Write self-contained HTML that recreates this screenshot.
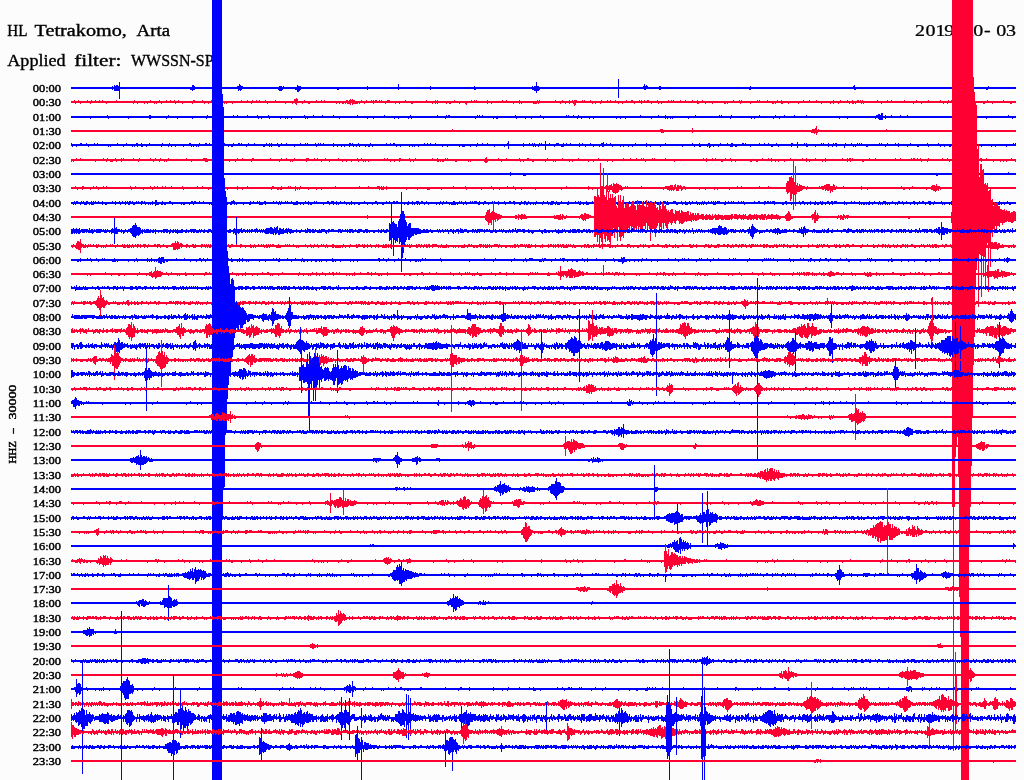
<!DOCTYPE html><html><head><meta charset="utf-8"><title>HL Tetrakomo, Arta</title><style>html,body{margin:0;padding:0;background:#fcfcfc;overflow:hidden}svg{display:block}text{font-family:"Liberation Serif",serif;fill:#000}</style></head><body>
<svg width="1024" height="780" viewBox="0 0 1024 780">
<rect width="1024" height="780" fill="#fcfcfc"/>
<text y="36" font-family="DejaVu Serif, Liberation Serif, serif" font-size="16.4" stroke="#000" stroke-width="0.35" lengthAdjust="spacingAndGlyphs"><tspan x="7.3" textLength="19.6" lengthAdjust="spacingAndGlyphs">HL</tspan> <tspan x="34.6" textLength="92.3" lengthAdjust="spacingAndGlyphs">Tetrakomo,</tspan> <tspan x="136.6" textLength="33.4" lengthAdjust="spacingAndGlyphs">Arta</tspan></text>
<text y="66" font-family="DejaVu Serif, Liberation Serif, serif" font-size="16.4" stroke="#000" stroke-width="0.35" lengthAdjust="spacingAndGlyphs"><tspan x="7.3" textLength="58.3" lengthAdjust="spacingAndGlyphs">Applied</tspan> <tspan x="74.2" textLength="47.3" lengthAdjust="spacingAndGlyphs">filter:</tspan> <tspan x="131" textLength="82.6" lengthAdjust="spacingAndGlyphs">WWSSN-SP</tspan></text>
<text transform="scale(1.22 1)" y="36" x="750.08 758.52 766.80 773.93 782.30 790.49 797.70 806.64 816.64 824.51" font-family="DejaVu Serif, Liberation Serif, serif" font-size="16.4" stroke="#000" stroke-width="0.25">2019-10-03</text>
<text x="32.7" y="92.1" font-family="DejaVu Serif, Liberation Serif, serif" font-size="11.4" stroke="#000" stroke-width="0.45" lengthAdjust="spacingAndGlyphs" textLength="28.4">00:00</text>
<text x="32.7" y="106.1" font-family="DejaVu Serif, Liberation Serif, serif" font-size="11.4" stroke="#000" stroke-width="0.45" lengthAdjust="spacingAndGlyphs" textLength="28.4">00:30</text>
<text x="32.7" y="121.1" font-family="DejaVu Serif, Liberation Serif, serif" font-size="11.4" stroke="#000" stroke-width="0.45" lengthAdjust="spacingAndGlyphs" textLength="28.4">01:00</text>
<text x="32.7" y="135.1" font-family="DejaVu Serif, Liberation Serif, serif" font-size="11.4" stroke="#000" stroke-width="0.45" lengthAdjust="spacingAndGlyphs" textLength="28.4">01:30</text>
<text x="32.7" y="149.1" font-family="DejaVu Serif, Liberation Serif, serif" font-size="11.4" stroke="#000" stroke-width="0.45" lengthAdjust="spacingAndGlyphs" textLength="28.4">02:00</text>
<text x="32.7" y="164.1" font-family="DejaVu Serif, Liberation Serif, serif" font-size="11.4" stroke="#000" stroke-width="0.45" lengthAdjust="spacingAndGlyphs" textLength="28.4">02:30</text>
<text x="32.7" y="178.1" font-family="DejaVu Serif, Liberation Serif, serif" font-size="11.4" stroke="#000" stroke-width="0.45" lengthAdjust="spacingAndGlyphs" textLength="28.4">03:00</text>
<text x="32.7" y="192.1" font-family="DejaVu Serif, Liberation Serif, serif" font-size="11.4" stroke="#000" stroke-width="0.45" lengthAdjust="spacingAndGlyphs" textLength="28.4">03:30</text>
<text x="32.7" y="207.1" font-family="DejaVu Serif, Liberation Serif, serif" font-size="11.4" stroke="#000" stroke-width="0.45" lengthAdjust="spacingAndGlyphs" textLength="28.4">04:00</text>
<text x="32.7" y="221.1" font-family="DejaVu Serif, Liberation Serif, serif" font-size="11.4" stroke="#000" stroke-width="0.45" lengthAdjust="spacingAndGlyphs" textLength="28.4">04:30</text>
<text x="32.7" y="235.1" font-family="DejaVu Serif, Liberation Serif, serif" font-size="11.4" stroke="#000" stroke-width="0.45" lengthAdjust="spacingAndGlyphs" textLength="28.4">05:00</text>
<text x="32.7" y="250.1" font-family="DejaVu Serif, Liberation Serif, serif" font-size="11.4" stroke="#000" stroke-width="0.45" lengthAdjust="spacingAndGlyphs" textLength="28.4">05:30</text>
<text x="32.7" y="264.1" font-family="DejaVu Serif, Liberation Serif, serif" font-size="11.4" stroke="#000" stroke-width="0.45" lengthAdjust="spacingAndGlyphs" textLength="28.4">06:00</text>
<text x="32.7" y="278.1" font-family="DejaVu Serif, Liberation Serif, serif" font-size="11.4" stroke="#000" stroke-width="0.45" lengthAdjust="spacingAndGlyphs" textLength="28.4">06:30</text>
<text x="32.7" y="292.1" font-family="DejaVu Serif, Liberation Serif, serif" font-size="11.4" stroke="#000" stroke-width="0.45" lengthAdjust="spacingAndGlyphs" textLength="28.4">07:00</text>
<text x="32.7" y="307.1" font-family="DejaVu Serif, Liberation Serif, serif" font-size="11.4" stroke="#000" stroke-width="0.45" lengthAdjust="spacingAndGlyphs" textLength="28.4">07:30</text>
<text x="32.7" y="321.1" font-family="DejaVu Serif, Liberation Serif, serif" font-size="11.4" stroke="#000" stroke-width="0.45" lengthAdjust="spacingAndGlyphs" textLength="28.4">08:00</text>
<text x="32.7" y="335.1" font-family="DejaVu Serif, Liberation Serif, serif" font-size="11.4" stroke="#000" stroke-width="0.45" lengthAdjust="spacingAndGlyphs" textLength="28.4">08:30</text>
<text x="32.7" y="350.1" font-family="DejaVu Serif, Liberation Serif, serif" font-size="11.4" stroke="#000" stroke-width="0.45" lengthAdjust="spacingAndGlyphs" textLength="28.4">09:00</text>
<text x="32.7" y="364.1" font-family="DejaVu Serif, Liberation Serif, serif" font-size="11.4" stroke="#000" stroke-width="0.45" lengthAdjust="spacingAndGlyphs" textLength="28.4">09:30</text>
<text x="32.7" y="378.1" font-family="DejaVu Serif, Liberation Serif, serif" font-size="11.4" stroke="#000" stroke-width="0.45" lengthAdjust="spacingAndGlyphs" textLength="28.4">10:00</text>
<text x="32.7" y="393.1" font-family="DejaVu Serif, Liberation Serif, serif" font-size="11.4" stroke="#000" stroke-width="0.45" lengthAdjust="spacingAndGlyphs" textLength="28.4">10:30</text>
<text x="32.7" y="407.1" font-family="DejaVu Serif, Liberation Serif, serif" font-size="11.4" stroke="#000" stroke-width="0.45" lengthAdjust="spacingAndGlyphs" textLength="28.4">11:00</text>
<text x="32.7" y="421.1" font-family="DejaVu Serif, Liberation Serif, serif" font-size="11.4" stroke="#000" stroke-width="0.45" lengthAdjust="spacingAndGlyphs" textLength="28.4">11:30</text>
<text x="32.7" y="436.1" font-family="DejaVu Serif, Liberation Serif, serif" font-size="11.4" stroke="#000" stroke-width="0.45" lengthAdjust="spacingAndGlyphs" textLength="28.4">12:00</text>
<text x="32.7" y="450.1" font-family="DejaVu Serif, Liberation Serif, serif" font-size="11.4" stroke="#000" stroke-width="0.45" lengthAdjust="spacingAndGlyphs" textLength="28.4">12:30</text>
<text x="32.7" y="464.1" font-family="DejaVu Serif, Liberation Serif, serif" font-size="11.4" stroke="#000" stroke-width="0.45" lengthAdjust="spacingAndGlyphs" textLength="28.4">13:00</text>
<text x="32.7" y="479.1" font-family="DejaVu Serif, Liberation Serif, serif" font-size="11.4" stroke="#000" stroke-width="0.45" lengthAdjust="spacingAndGlyphs" textLength="28.4">13:30</text>
<text x="32.7" y="493.1" font-family="DejaVu Serif, Liberation Serif, serif" font-size="11.4" stroke="#000" stroke-width="0.45" lengthAdjust="spacingAndGlyphs" textLength="28.4">14:00</text>
<text x="32.7" y="507.1" font-family="DejaVu Serif, Liberation Serif, serif" font-size="11.4" stroke="#000" stroke-width="0.45" lengthAdjust="spacingAndGlyphs" textLength="28.4">14:30</text>
<text x="32.7" y="522.1" font-family="DejaVu Serif, Liberation Serif, serif" font-size="11.4" stroke="#000" stroke-width="0.45" lengthAdjust="spacingAndGlyphs" textLength="28.4">15:00</text>
<text x="32.7" y="536.1" font-family="DejaVu Serif, Liberation Serif, serif" font-size="11.4" stroke="#000" stroke-width="0.45" lengthAdjust="spacingAndGlyphs" textLength="28.4">15:30</text>
<text x="32.7" y="550.1" font-family="DejaVu Serif, Liberation Serif, serif" font-size="11.4" stroke="#000" stroke-width="0.45" lengthAdjust="spacingAndGlyphs" textLength="28.4">16:00</text>
<text x="32.7" y="565.1" font-family="DejaVu Serif, Liberation Serif, serif" font-size="11.4" stroke="#000" stroke-width="0.45" lengthAdjust="spacingAndGlyphs" textLength="28.4">16:30</text>
<text x="32.7" y="579.1" font-family="DejaVu Serif, Liberation Serif, serif" font-size="11.4" stroke="#000" stroke-width="0.45" lengthAdjust="spacingAndGlyphs" textLength="28.4">17:00</text>
<text x="32.7" y="593.1" font-family="DejaVu Serif, Liberation Serif, serif" font-size="11.4" stroke="#000" stroke-width="0.45" lengthAdjust="spacingAndGlyphs" textLength="28.4">17:30</text>
<text x="32.7" y="607.1" font-family="DejaVu Serif, Liberation Serif, serif" font-size="11.4" stroke="#000" stroke-width="0.45" lengthAdjust="spacingAndGlyphs" textLength="28.4">18:00</text>
<text x="32.7" y="622.1" font-family="DejaVu Serif, Liberation Serif, serif" font-size="11.4" stroke="#000" stroke-width="0.45" lengthAdjust="spacingAndGlyphs" textLength="28.4">18:30</text>
<text x="32.7" y="636.1" font-family="DejaVu Serif, Liberation Serif, serif" font-size="11.4" stroke="#000" stroke-width="0.45" lengthAdjust="spacingAndGlyphs" textLength="28.4">19:00</text>
<text x="32.7" y="650.1" font-family="DejaVu Serif, Liberation Serif, serif" font-size="11.4" stroke="#000" stroke-width="0.45" lengthAdjust="spacingAndGlyphs" textLength="28.4">19:30</text>
<text x="32.7" y="665.1" font-family="DejaVu Serif, Liberation Serif, serif" font-size="11.4" stroke="#000" stroke-width="0.45" lengthAdjust="spacingAndGlyphs" textLength="28.4">20:00</text>
<text x="32.7" y="679.1" font-family="DejaVu Serif, Liberation Serif, serif" font-size="11.4" stroke="#000" stroke-width="0.45" lengthAdjust="spacingAndGlyphs" textLength="28.4">20:30</text>
<text x="32.7" y="693.1" font-family="DejaVu Serif, Liberation Serif, serif" font-size="11.4" stroke="#000" stroke-width="0.45" lengthAdjust="spacingAndGlyphs" textLength="28.4">21:00</text>
<text x="32.7" y="708.1" font-family="DejaVu Serif, Liberation Serif, serif" font-size="11.4" stroke="#000" stroke-width="0.45" lengthAdjust="spacingAndGlyphs" textLength="28.4">21:30</text>
<text x="32.7" y="722.1" font-family="DejaVu Serif, Liberation Serif, serif" font-size="11.4" stroke="#000" stroke-width="0.45" lengthAdjust="spacingAndGlyphs" textLength="28.4">22:00</text>
<text x="32.7" y="736.1" font-family="DejaVu Serif, Liberation Serif, serif" font-size="11.4" stroke="#000" stroke-width="0.45" lengthAdjust="spacingAndGlyphs" textLength="28.4">22:30</text>
<text x="32.7" y="751.1" font-family="DejaVu Serif, Liberation Serif, serif" font-size="11.4" stroke="#000" stroke-width="0.45" lengthAdjust="spacingAndGlyphs" textLength="28.4">23:00</text>
<text x="32.7" y="765.1" font-family="DejaVu Serif, Liberation Serif, serif" font-size="11.4" stroke="#000" stroke-width="0.45" lengthAdjust="spacingAndGlyphs" textLength="28.4">23:30</text>
<text transform="translate(16.3 463.6) rotate(-90)" font-family="DejaVu Serif, Liberation Serif, serif" font-size="11.4" stroke="#000" stroke-width="0.45" lengthAdjust="spacingAndGlyphs"><tspan x="0" textLength="22.6" lengthAdjust="spacingAndGlyphs">HHZ</tspan> <tspan x="29.6" textLength="6.3" lengthAdjust="spacingAndGlyphs">-</tspan> <tspan x="44.2" textLength="34.7" lengthAdjust="spacingAndGlyphs">30000</tspan></text>
<g shape-rendering="crispEdges">
<rect x="71" y="87" width="945" height="2" fill="#0000ff"/>
<path stroke="#0000ff" d="M112.5 86v4m2 -5v6m1 -5v5m1 -6v6m1 -6v6m1 -5v5m1 -9v17m71 -12v3m1 -3v3m1 -5v6m1 -6v5m1 -4v4m43 -4v3m1 -3v5m1 -7v6m1 -5v6m1 -5v4m1 -4v3m36 -2v3m1 -4v5m1 -5v5m1 -5v5m1 -4v3m1 -4v3m12 -2v3m1 -3v3m1 -5v7m1 -6v6m1 -6v5m1 -5v4m37 -3v3m1 -3v3m29 -4v4m31 -6v6m32 -4v4m44 -4v4m1 -3v3m57 -4v4m1 -3v3m1 -4v5m1 -5v5m1 -9v11m1 -7v5m1 -5v5m1 -4v3m79 -11v19m25 -12v3m1 -5v6m1 -4v4m1 -5v4m1 -3v3m12 -3v4m1 -4v4m89 -3v3m1 -4v4m103 -4v3m1 -4v5m1 -3v3m131 -3v3m1 -3v3m1 -4v3"/>
<rect x="71" y="101" width="945" height="2" fill="#ff0033"/>
<path stroke="#ff0033" d="M74.5 100v3m1 -2v3m3 -4v3m2 -2v3m7 -4v3m3 -2v3m1 -4v3m4 -3v3m4 -3v3m3 -3v3m4 -2v3m10 -4v3m17 -2v3m1 -4v3m3 -2v3m7 -3v3m3 -3v3m3 -4v3m4 -2v3m2 -3v3m3 -4v3m2 -2v3m5 -4v3m4 -3v3m4 -3v3m1 -2v3m3 -4v3m4 -2v3m10 -3v3m1 -4v3m1 -3v3m8 -3v3m2 -2v3m4 -3v3m3 -4v3m5 -2v3m6 -3v3m2 -3v3m2 -3v3m6 -3v3m9 -4v3m6 -3v3m4 -2v3m1 -4v3m4 -3v3m3 -3v3m6 -3v3m2 -2v3m8 -4v3m10 -2v3m7 -3v3m2 -5v4m1 -4v5m1 -6v7m1 -6v4m5 -2v3m2 -4v3m4 -2v3m1 -3v3m7 -4v3m5 -3v3m3 -3v3m12 -2v3m3 -3v3m3 -3v3m1 -3v3m2 -3v3m1 -4v3m1 -3v4m1 -3v3m1 -4v4m1 -5v6m1 -5v3m1 -4v6m1 -5v4m1 -4v4m1 -3v3m1 -3v3m1 -3v3m2 -3v3m2 -4v3m3 -2v3m2 -4v3m5 -3v3m2 -3v4m2 -4v3m1 -3v3m3 -3v3m2 -3v3m4 -2v3m2 -4v3m1 -3v3m1 -3v3m6 -2v3m4 -3v3m6 -4v3m6 -2v3m1 -3v3m14 -4v3m6 -2v3m3 -4v4m2 -4v4m9 -3v3m3 -3v3m1 -3v3m4 -4v3m5 -2v3m6 -3v3m1 -3v4m5 -5v3m3 -3v3m2 -3v3m11 -3v4m4 -3v3m11 -4v3m4 -3v3m7 -2v3m6 -4v4m2 -3v3m12 -3v3m1 -3v3m1 -3v3m1 -3v3m1 -4v3m1 -2v3m1 -4v3m16 -3v3m5 -2v3m2 -4v3m3 -2v3m4 -4v4m3 -4v3m1 -2v3m1 -4v6m1 -6v5m1 -5v3m6 -3v3m2 -3v3m6 -3v3m2 -2v3m3 -3v3m5 -3v3m1 -4v3m6 -3v3m3 -3v3m5 -3v3m3 -2v3m4 -3v3m4 -4v3m5 -3v3m1 -3v3m2 -2v3m5 -4v3m2 -3v4m3 -4v3m3 -3v3m1 -3v3m3 -2v3m6 -4v3m1 -2v3m3 -3v3m7 -4v3m3 -3v3m2 -3v3m7 -3v3m5 -3v3m7 -3v3m5 -3v4m1 -3v3m4 -4v3m3 -2v3m7 -3v3m12 -3v3m1 -3v3m2 -3v3m6 -4v3m6 -3v3m1 -2v3m1 -4v3m9 -2v3m7 -4v3m2 -3v3m8 -3v3m5 -2v3m1 -3v3m2 -3v3m2 -4v3m4 -3v4m1 -3v3m6 -3v3m10 -3v3m5 -4v3m6 -3v3m7 -3v3m5 -2v3m9 -3v3m3 -4v4m5 -3v3m2 -4v3m7 -3v3m2 -2v3m3 -4v4m1 -3v3m2 -3v3m2 -4v3m1 -3v3m2 -3v3m1 -2v3m1 -4v3m1 -2v3m14 -4v3m4 -2v3m6 -4v3m4 -3v3m13 -3v3m9 -2v3m3 -4v3m5 -2v3m7 -4v3m12 -3v3m3 -2v3m4 -3v3m1 -4v3m3 -3v3m10 -2v3m7 -3v3m2 -4v3m1 -3v3m1 -2v3m11 -3v3m1 -3v3m3 -4v3m5 -2v3m11 -4v3m7 -2v3m1 -3v3"/>
<rect x="71" y="116" width="945" height="2" fill="#0000ff"/>
<path stroke="#0000ff" d="M90.5 116v3m17 -4v3m1 -2v3m20 -3v3m21 -4v4m1 -4v4m16 -3v3m2 -4v3m9 -2v3m15 -3v3m14 -3v3m1 -4v3m10 -2v3m3 -4v3m13 -3v3m4 -3v3m10 -3v3m10 -3v3m1 -2v3m3 -3v3m7 -4v3m1 -2v3m11 -3v3m5 -3v3m2 -3v3m4 -3v3m13 -4v3m1 -2v3m2 -3v3m6 -4v3m9 -3v3m11 -3v3m6 -2v3m18 -4v3m10 -2v3m6 -3v3m11 -4v3m10 -2v3m4 -3v3m10 -3v3m2 -4v3m1 -2v3m26 -4v3m8 -2v3m1 -4v3m2 -3v3m1 -3v3m26 -2v3m2 -4v3m2 -3v3m3 -3v3m11 -2v3m3 -3v3m1 -3v3m18 -4v3m1 -2v3m9 -3v3m6 -3v3m9 -4v3m3 -2v3m23 -4v3m2 -3v3m5 -3v3m4 -2v3m1 -4v3m3 -2v3m8 -3v3m4 -3v3m23 -3v3m4 -3v3m5 -3v3m15 -4v3m11 -2v3m7 -4v3m7 -3v4m2 -3v3m3 -3v3m2 -3v3m16 -3v3m7 -4v3m24 -3v3m2 -3v3m9 -2v3m1 -4v3m20 -2v3m3 -3v3m5 -4v3m14 -2v3m2 -4v3m4 -2v3m5 -4v3m10 -3v3m12 -3v3m33 -2v3m8 -3v3m28 -3v3m1 -4v3m1 -3v3m1 -4v5m1 -5v6m1 -5v5m1 -7v7m1 -7v7m3 -5v4m6 -4v3m9 -3v3m7 -3v3m54 -2v3m7 -4v3m7 -3v3m11 -2v3m22 -4v3m4 -2v3"/>
<rect x="71" y="130" width="945" height="2" fill="#ff0033"/>
<path stroke="#ff0033" d="M452.5 129v3m208 -3v3m1 -3v4m1 -4v4m1 -3v3m29 -5v5m119 -3v3m1 -4v4m1 -4v4m1 -4v5m1 -6v5m1 -7v9m1 -5v3m1 -4v3m68 -3v3"/>
<rect x="71" y="144" width="945" height="2" fill="#0000ff"/>
<path stroke="#0000ff" d="M71.5 143v3m1 -2v3m4 -3v3m4 -4v3m1 -3v3m5 -3v3m2 -2v3m6 -4v3m3 -3v3m11 -2v3m2 -3v3m7 -4v3m6 -2v3m3 -4v3m6 -2v3m2 -3v3m2 -4v3m1 -3v4m4 -4v4m1 -3v3m4 -3v3m3 -4v3m12 -2v3m1 -4v3m6 -2v3m1 -4v3m2 -2v3m4 -3v3m8 -3v3m6 -4v3m1 -3v3m1 -2v3m2 -3v3m3 -3v3m2 -3v3m1 -4v3m6 -3v3m1 -3v3m3 -3v3m4 -3v3m6 -3v3m5 -3v3m4 -2v3m3 -3v3m1 -3v3m1 -4v3m5 -3v3m1 -3v3m2 -3v3m5 -2v3m2 -4v3m6 -3v3m9 -2v3m1 -3v3m2 -4v3m3 -3v4m2 -4v4m6 -4v3m1 -2v3m1 -3v3m2 -4v3m5 -3v3m8 -2v3m6 -4v3m5 -3v3m2 -3v3m8 -3v3m1 -2v3m2 -4v3m2 -3v3m3 -3v3m10 -3v4m4 -3v3m4 -3v3m3 -3v3m5 -4v4m1 -4v3m2 -3v3m1 -2v3m3 -3v3m2 -4v3m1 -2v3m6 -3v3m3 -3v3m1 -3v3m1 -4v3m2 -2v3m14 -4v3m4 -3v3m3 -3v3m1 -3v3m2 -2v3m4 -3v3m9 -3v3m3 -3v3m2 -3v3m4 -3v3m6 -4v3m3 -3v3m3 -3v3m5 -3v3m7 -2v3m5 -3v3m12 -3v3m3 -3v3m1 -3v3m1 -3v3m6 -3v3m6 -3v3m1 -4v3m5 -3v3m5 -3v3m7 -2v3m10 -3v3m3 -4v3m1 -5v8m15 -6v4m6 -4v3m3 -3v3m1 -2v3m1 -4v3m1 -2v3m3 -3v3m1 -4v3m2 -3v3m4 -5v9m4 -7v3m5 -2v3m2 -4v3m1 -3v3m1 -3v3m3 -2v3m1 -3v3m1 -4v4m3 -4v3m4 -3v3m9 -3v4m3 -4v3m3 -2v3m5 -4v3m3 -2v3m6 -3v3m2 -4v3m1 -3v4m1 -5v5m3 -4v3m4 -3v3m2 -2v3m8 -3v3m3 -3v3m5 -3v3m4 -3v3m3 -4v3m11 -3v4m4 -3v3m10 -3v3m5 -4v3m17 -2v3m10 -4v3m2 -2v3m5 -4v4m1 -3v3m7 -3v3m1 -4v3m1 -3v5m1 -4v3m3 -3v3m5 -3v3m2 -4v3m7 -3v3m3 -2v3m1 -4v4m1 -4v4m3 -3v3m1 -3v3m6 -4v3m1 -3v3m2 -3v3m5 -2v3m9 -4v3m5 -3v3m4 -3v3m3 -2v3m1 -3v3m4 -4v3m2 -2v3m13 -4v4m1 -4v3m5 -4v6m7 -5v3m2 -3v4m1 -3v3m8 -3v3m6 -4v3m2 -3v3m5 -3v4m4 -3v3m1 -4v3m2 -3v3m1 -3v4m8 -3v4m1 -5v3m6 -3v3m2 -2v3m2 -3v3m2 -4v3m2 -3v3m2 -3v3m5 -2v3m1 -3v3m12 -4v3m2 -3v3m4 -2v3m2 -4v3m8 -3v3m3 -3v4m9 -3v3m3 -4v3m7 -2v3m1 -3v3m9 -4v3m1 -2v3m10 -4v3m2 -2v3m4 -3v3m5 -3v3m1 -3v3m6 -3v3m7 -4v3m1 -3v3m1 -2v3m1 -3v3m4 -3v3m4 -4v3m7 -2v3m10 -3v3m4 -3v3m11 -3v3m7 -4v3m2 -3v3"/>
<rect x="71" y="159" width="945" height="2" fill="#ff0033"/>
<path stroke="#ff0033" d="M71.5 159v3m2 -3v3m3 -4v3m4 -3v3m15 -2v3m8 -4v3m3 -2v3m1 -4v3m3 -2v3m1 -3v3m1 -3v3m3 -4v3m1 -2v3m5 -4v4m2 -4v3m10 -3v3m5 -2v3m1 -4v3m11 -3v3m3 -2v3m2 -4v3m4 -2v3m1 -4v3m4 -2v3m2 -3v3m2 -4v3m18 -3v3m5 -2v3m12 -4v3m1 -3v3m1 -3v4m1 -4v4m1 -3v3m5 -3v3m1 -4v3m16 -2v3m6 -3v3m2 -4v3m5 -3v3m9 -2v3m1 -4v3m1 -3v3m17 -3v3m9 -2v3m2 -4v3m5 -3v3m4 -2v3m2 -3v3m2 -4v3m12 -3v4m1 -4v3m1 -3v3m6 -3v3m3 -3v3m4 -2v3m4 -4v3m4 -2v3m9 -4v3m4 -2v3m4 -3v3m5 -3v3m6 -4v3m1 -2v3m3 -4v3m2 -2v3m2 -3v3m3 -3v3m16 -4v3m3 -3v3m3 -2v3m4 -3v3m5 -4v4m1 -4v3m9 -3v3m1 -2v3m3 -3v3m2 -4v3m17 -3v3m5 -3v4m1 -3v3m2 -3v3m2 -3v3m1 -3v3m2 -4v3m2 -3v3m8 -2v3m1 -3v3m12 -3v3m2 -3v3m14 -3v3m1 -4v5m1 -6v6m1 -4v3m11 -4v3m3 -2v3m5 -4v3m13 -3v3m1 -2v3m3 -3v3m4 -4v3m1 -3v3m4 -2v3m1 -3v3m12 -3v3m2 -4v3m6 -2v3m2 -3v3m7 -4v3m7 -2v3m3 -3v3m6 -4v3m10 -2v3m5 -3v3m5 -4v3m9 -2v3m5 -3v3m11 -4v3m7 -3v3m6 -3v3m5 -3v3m2 -3v3m2 -2v3m7 -4v3m2 -3v3m11 -3v3m9 -2v3m29 -4v3m3 -3v4m6 -4v3m3 -3v3m6 -2v3m1 -3v3m3 -4v3m5 -3v3m1 -2v3m4 -3v3m15 -3v3m1 -3v3m5 -3v3m1 -3v3m5 -4v3m6 -3v3m3 -3v4m4 -3v3m3 -3v3m6 -3v3m6 -4v3m12 -3v3m4 -3v4m3 -3v3m6 -4v3m7 -2v3m3 -4v4m17 -4v3m5 -3v4m2 -4v3m1 -3v4m2 -4v3m10 -2v3m1 -3v3m6 -4v3m6 -3v3m20 -3v3m5 -3v3m11 -3v3m2 -3v3m1 -3v3m3 -3v3m3 -3v3m1 -2v3m6 -3v3m1 -4v3m14 -3v3m5 -3v3m2 -2v3m4 -3v3m2 -4v3m8 -3v3m1 -2v3m8 -3v3m1 -3v3m7 -4v3m1 -3v4m5 -4v3m7 -2v3m7 -3v3m3 -3v3m3 -3v3m5 -4v3m4 -2v3"/>
<rect x="71" y="173" width="945" height="2" fill="#0000ff"/>
<path stroke="#0000ff" d="M510.5 172v4m13 -3v3m1 -3v3m1 -3v3m411 -3v3m1 -3v3m71 -4v3"/>
<rect x="71" y="187" width="945" height="2" fill="#ff0033"/>
<path stroke="#ff0033" d="M75.5 186v3m2 -2v3m5 -4v4m1 -4v3m7 -2v3m3 -4v3m3 -3v3m2 -2v3m5 -4v3m3 -3v3m24 -3v3m1 -2v3m4 -4v3m8 -2v3m7 -4v3m2 -2v3m2 -4v3m3 -3v3m5 -3v3m3 -3v3m6 -3v3m11 -3v3m1 -2v3m14 -4v3m5 -3v3m6 -2v3m5 -4v3m14 -2v3m10 -4v4m5 -3v3m5 -4v3m24 -2v3m1 -4v3m1 -3v3m4 -2v3m1 -3v3m2 -3v3m1 -4v4m7 -4v3m2 -3v3m5 -3v5m2 -4v3m2 -3v3m1 -4v3m8 -2v3m8 -3v3m5 -3v3m14 -4v3m24 -3v3m9 -3v3m9 -3v3m1 -3v3m1 -3v4m2 -4v4m1 -3v3m1 -4v4m3 -4v4m20 -3v3m11 -3v3m10 -3v3m1 -3v3m1 -3v3m12 -3v3m12 -4v3m12 -3v3m1 -2v3m15 -3v3m10 -4v3m2 -2v3m6 -3v3m8 -4v3m6 -3v3m2 -2v3m6 -3v3m14 -3v3m26 -3v3m5 -4v3m22 -3v4m4 -3v3m5 -3v3m3 -27v30m2 -7v3m1 -21v25m2 -7v3m1 -2v3m1 -17v19m1 -6v4m1 -5v7m1 -7v5m1 -6v6m1 -4v6m1 -9v10m1 -9v9m1 -9v10m1 -11v10m1 -9v9m1 -9v8m1 -7v5m1 -5v5m1 -4v5m1 -4v3m3 -4v3m2 -3v3m14 -3v3m22 -2v3m2 -4v3m1 -3v3m1 -3v4m1 -4v4m1 -4v5m1 -6v5m1 -5v6m1 -6v5m1 -3v4m1 -6v5m1 -6v5m1 -2v4m1 -6v6m1 -6v6m1 -5v3m1 -4v4m1 -3v5m1 -4v3m1 -4v3m1 -3v3m1 -2v3m14 -3v3m6 -3v3m9 -3v3m3 -3v3m12 -3v3m8 -4v3m4 -3v3m18 -3v3m9 -3v3m18 -6v9m1 -11v13m1 -13v12m1 -16v15m1 -15v24m1 -25v23m1 -21v16m1 -35v51m1 -28v13m1 -29v40m1 -21v9m1 -11v9m1 -6v6m1 -8v8m1 -7v6m1 -6v6m1 -5v4m1 -4v3m1 -3v3m2 -2v3m1 -4v3m12 -3v3m2 -3v3m1 -3v4m1 -4v4m1 -5v4m1 -4v6m1 -7v6m1 -6v7m1 -7v7m1 -7v6m1 -4v7m1 -7v5m1 -5v6m1 -8v6m1 -5v5m1 -3v3m1 -4v3m7 -3v3m18 -3v4m6 -3v3m34 -4v3m2 -2v3m1 -3v3m5 -3v3m3 -4v3m14 -2v3m5 -4v4m1 -5v5m1 -5v6m1 -6v6m1 -5v6m1 -8v7m1 -5v4m1 -4v5m1 -5v3m1 -2v3m33 -3v3"/>
<rect x="71" y="202" width="945" height="2" fill="#0000ff"/>
<path stroke="#0000ff" d="M73.5 202v3m1 -4v3m1 -2v3m1 -4v3m1 -3v3m3 -2v3m1 -4v3m2 -3v3m1 -2v3m1 -3v3m1 -4v4m1 -4v3m2 -2v3m2 -4v4m1 -3v3m1 -4v4m2 -4v3m3 -3v3m4 -3v4m3 -3v3m1 -3v3m6 -4v3m3 -3v4m4 -4v3m1 -2v3m2 -4v3m3 -3v4m2 -4v3m1 -2v3m1 -4v4m1 -4v3m2 -3v3m1 -2v3m1 -3v3m2 -4v3m2 -3v3m3 -3v4m1 -4v3m2 -3v3m1 -2v3m3 -3v3m2 -3v3m2 -4v4m3 -5v6m1 -6v5m1 -3v3m1 -3v3m3 -3v3m1 -4v4m2 -3v3m1 -3v3m4 -4v3m1 -3v3m2 -2v3m9 -3v3m2 -3v3m1 -3v3m5 -3v3m2 -4v3m1 -3v3m1 -2v3m1 -4v3m1 -3v3m4 -3v3m4 -3v3m6 -2v3m2 -3v3m1 -4v3m3 -3v3m1 -2v3m3 -3v3m6 -4v3m1 -2v3m1 -3v3m3 -3v3m1 -4v4m1 -4v3m1 -4v4m1 -3v4m2 -3v3m7 -3v3m6 -3v3m1 -4v4m3 -4v3m4 -3v3m2 -3v4m1 -3v3m1 -3v3m1 -3v3m2 -4v3m1 -3v4m8 -4v3m3 -3v3m2 -2v3m1 -4v3m1 -2v3m1 -4v3m4 -3v3m2 -3v3m4 -3v3m2 -2v3m1 -3v3m1 -3v3m1 -4v4m1 -4v4m3 -3v3m3 -3v3m2 -4v3m3 -3v4m2 -3v3m1 -3v3m3 -4v3m2 -3v3m7 -2v3m4 -4v3m1 -3v3m1 -2v3m2 -4v3m1 -3v3m1 -3v4m3 -4v4m2 -3v3m2 -4v3m4 -3v3m2 -2v3m3 -3v3m2 -4v4m3 -3v3m4 -3v3m1 -3v3m5 -4v3m3 -2v3m5 -3v3m3 -4v3m1 -3v3m1 -2v3m5 -3v3m1 -3v3m3 -4v3m3 -3v3m4 -3v3m1 -3v3m2 -3v3m1 -3v3m7 -2v3m3 -3v3m1 -4v4m4 -4v4m2 -3v3m2 -4v3m1 -3v4m1 -4v3m1 -2v3m2 -4v3m1 -3v3m2 -2v3m2 -4v3m2 -2v3m8 -3v3m3 -3v3m1 -4v3m2 -2v3m1 -4v3m3 -3v3m3 -2v3m2 -3v3m1 -3v3m1 -4v4m1 -4v4m1 -3v3m2 -3v3m2 -4v3m2 -3v3m2 -2v3m2 -4v3m1 -2v3m4 -4v3m2 -3v3m2 -3v3m1 -3v3m1 -3v3m2 -2v3m1 -4v4m4 -3v3m1 -4v3m1 -3v3m3 -2v3m4 -4v3m2 -3v3m4 -3v4m6 -4v3m1 -2v3m4 -4v3m1 -3v3m3 -3v3m1 -3v4m5 -3v3m1 -3v3m1 -4v3m3 -3v4m1 -4v3m1 -2v3m1 -3v3m1 -4v3m2 -2v3m3 -3v3m2 -3v3m1 -4v3m6 -2v3m1 -4v3m4 -3v3m1 -2v3m2 -3v3m1 -4v4m1 -4v4m1 -4v3m2 -2v3m1 -4v3m1 -2v3m1 -3v3m1 -3v3m2 -4v3m6 -2v3m1 -4v4m7 -4v3m3 -3v3m1 -2v3m1 -4v4m3 -3v3m3 -4v4m1 -3v3m1 -3v3m4 -4v3m3 -3v3m1 -3v4m1 -4v3m1 -2v3m1 -4v3m1 -3v3m1 -3v3m4 -3v3m1 -3v3m1 -3v3m1 -3v4m3 -3v3m2 -3v3m2 -3v3m2 -3v3m5 -3v3m1 -3v3m6 -4v3m3 -2v3m3 -4v3m1 -3v3m2 -3v3m1 -3v4m1 -4v3m1 -3v3m2 -3v3m2 -3v3m2 -2v3m1 -4v3m2 -3v3m3 -2v3m2 -4v3m2 -2v3m1 -3v3m1 -3v3m1 -4v4m2 -3v3m1 -4v3m1 -3v3m1 -3v3m1 -2v3m1 -4v4m1 -3v3m5 -4v3m1 -3v3m1 -3v3m1 -2v3m1 -3v3m4 -4v3m1 -2v3m3 -4v4m1 -3v3m1 -3v3m2 -4v3m1 -2v3m2 -4v3m4 -3v3m1 -2v3m2 -3v3m2 -3v3m1 -4v3m1 -2v3m1 -4v3m2 -2v3m2 -4v3m3 -3v3m2 -3v4m1 -3v3m1 -4v4m2 -4v3m1 -3v3m1 -3v3m5 -2v3m1 -4v4m3 -4v3m3 -3v3m2 -3v3m5 -3v3m3 -3v3m2 -3v3m1 -2v3m10 -4v3m4 -3v3m1 -3v3m5 -3v4m1 -4v3m2 -3v3m1 -3v3m2 -3v3m2 -3v3m1 -3v3m1 -3v4m8 -3v3m1 -3v3m2 -4v3m1 -3v4m5 -3v3m8 -4v3m1 -2v3m2 -4v3m1 -3v3m1 -2v3m3 -3v3m3 -4v4m4 -3v3m1 -4v4m2 -3v3m1 -3v3m2 -4v3m1 -2v3m1 -4v4m3 -3v3m2 -4v3m1 -3v3m1 -2v3m2 -4v3m1 -3v4m2 -4v3m1 -3v3m1 -3v3m8 -3v4m2 -3v3m5 -4v3m3 -3v3m5 -3v4m2 -3v3m2 -3v3m1 -3v3m2 -3v3m2 -3v3m1 -4v4m3 -3v3m2 -4v3m4 -2v3m1 -4v3m1 -2v3m2 -3v3m1 -4v3m1 -3v3m1 -3v4m2 -3v3m2 -3v3m3 -4v3m3 -2v3m2 -3v3m1 -4v3m1 -3v3m3 -3v3m1 -2v3m3 -4v3m4 -2v3m3 -4v3m1 -3v4m3 -3v3m2 -4v3m3 -3v3m1 -3v3m2 -2v3m3 -4v3m1 -3v4m1 -4v4m3 -3v3m1 -4v3m7 -3v3m1 -2v3m2 -3v3m5 -3v3m2 -4v4m2 -4v4m1 -4v3m2 -2v3m1 -4v3m2 -3v3m1 -3v3m2 -2v3m1 -4v3m1 -3v3m3 -3v3m1 -3v3m2 -2v3m4 -4v3m1 -3v3m1 -2v3m3 -3v3m3 -4v3m1 -3v3m2 -3v3m5 -2v3m2 -4v3m1 -2v3m1 -3v3m1 -3v3m3 -3v3m1 -4v4m2 -3v3m3 -3v3m3 -4v3m2 -2v3m1 -3v3"/>
<rect x="71" y="216" width="945" height="2" fill="#ff0033"/>
<path stroke="#ff0033" d="M367.5 215v4m118 -4v5m1 -8v9m1 -11v12m1 -12v15m1 -16v14m1 -10v10m1 -11v13m1 -14v9m1 -18v28m1 -18v8m1 -7v9m1 -9v6m1 -5v7m1 -7v6m1 -6v5m1 -4v4m1 -4v3m14 -3v4m1 -4v4m2 -5v6m1 -5v3m1 -3v4m1 -5v6m1 -6v5m1 -4v4m1 -5v5m1 -4v4m1 -3v3m28 -4v4m1 -3v3m1 -4v4m1 -4v4m1 -4v5m1 -5v5m1 -6v6m1 -4v3m1 -5v6m1 -5v3m1 -2v3m1 -3v3m1 -4v3m13 -2v3m1 -4v3m1 -4v5m1 -5v6m1 -5v6m1 -8v7m1 -7v8m1 -7v5m1 -5v5m1 -5v5m1 -4v3m1 -3v3m4 -22v41m1 -41v41m1 -40v38m1 -48v55m1 -47v40m1 -38v51m1 -58v48m1 -52v56m1 -54v61m1 -58v43m1 -39v44m1 -42v45m1 -57v51m1 -36v41m1 -50v49m1 -42v44m1 -48v54m1 -50v38m1 -42v42m1 -38v30m1 -31v41m1 -42v33m1 -23v27m1 -25v33m1 -46v32m1 -26v36m1 -42v46m1 -39v35m1 -37v36m1 -40v42m1 -30v25m1 -29v27m1 -28v29m1 -29v30m1 -29v24m1 -21v23m1 -24v20m1 -23v26m1 -28v26m1 -26v31m1 -27v25m1 -24v22m1 -18v21m1 -31v26m1 -21v24m1 -26v24m1 -22v25m1 -25v24m1 -27v30m1 -28v22m1 -20v20m1 -19v22m1 -29v23m1 -16v22m1 -26v23m1 -22v25m1 -27v39m1 -40v30m1 -28v26m1 -24v24m1 -27v27m1 -24v32m1 -29v20m1 -21v19m1 -16v13m1 -21v27m1 -23v21m1 -18v20m1 -27v21m1 -20v26m1 -23v17m1 -18v21m1 -17v19m1 -17v19m1 -20v14m1 -12v10m1 -12v13m1 -14v16m1 -16v14m1 -10v8m1 -7v9m1 -13v14m1 -13v10m1 -10v9m1 -9v10m1 -11v14m1 -11v10m1 -13v14m1 -13v13m1 -12v11m1 -11v10m1 -10v9m1 -9v10m1 -11v10m1 -10v10m1 -6v6m1 -9v9m1 -7v8m1 -9v7m1 -7v8m1 -6v5m1 -7v8m1 -6v6m1 -8v7m1 -7v7m1 -5v4m1 -4v4m1 -5v5m1 -5v6m1 -6v6m1 -4v3m1 -4v5m1 -6v6m1 -5v5m1 -5v4m1 -5v6m1 -5v5m1 -4v4m1 -6v6m1 -4v3m1 -4v3m1 -4v6m1 -5v5m1 -5v5m1 -6v6m1 -5v4m1 -4v4m1 -4v5m1 -5v5m1 -4v4m1 -5v4m1 -4v5m1 -5v5m1 -5v5m1 -5v5m1 -5v5m1 -5v4m1 -5v6m1 -6v5m2 -5v5m1 -5v5m1 -5v5m1 -4v5m1 -5v4m1 -5v4m1 -3v4m1 -4v5m1 -5v4m1 -5v6m1 -5v4m1 -5v5m1 -3v3m1 -3v4m1 -5v5m1 -6v5m1 -5v6m1 -5v5m1 -5v4m1 -4v5m1 -6v5m1 -4v4m1 -5v6m1 -5v5m1 -5v3m1 -3v4m1 -4v5m1 -6v5m1 -5v6m1 -5v5m1 -6v6m1 -6v4m1 -2v4m1 -5v4m1 -5v5m1 -4v4m1 -4v4m1 -5v6m1 -6v5m1 -4v4m1 -4v4m1 -4v4m1 -5v5m1 -4v5m1 -5v4m1 -3v4m1 -4v3m5 -4v4m1 -5v7m1 -8v8m1 -10v10m1 -9v9m1 -7v6m1 -4v3m1 -3v3m19 -4v3m1 -4v6m1 -6v5m1 -7v11m1 -13v13m1 -8v6m1 -8v8m1 -6v4m19 -3v3m1 -4v3m2 -3v5m1 -5v4m1 -3v4m1 -6v6m1 -5v3m1 -2v3m1 -4v3m1 -3v4m1 -4v3m60 -2v3m1 -3v3m42 -7v11m1 -223v507m1 -507v751m1 -751v507m1 -507v457m1 -457v447m1 -447v437m1 -437v477m1 -477v597m1 -597v637m1 -637v780m1 -780v780m1 -780v780m1 -780v780m1 -780v780m1 -780v780m1 -780v780m1 -780v780m1 -780v547m1 -547v507m1 -507v466m1 -466v418m1 -341v288m1 -273v245m1 -235v187m1 -184v165m1 -121v111m1 -116v163m1 -130v77m1 -90v91m1 -91v133m1 -127v86m1 -87v108m1 -93v73m1 -74v104m1 -102v62m1 -64v60m1 -52v101m1 -102v55m1 -57v79m1 -67v33m1 -34v38m1 -31v23m1 -27v30m1 -29v23m1 -23v26m1 -27v24m1 -20v20m1 -20v21m1 -18v14m1 -14v14m1 -13v15m1 -15v13m1 -14v14m1 -12v11m1 -12v12m1 -11v10m1 -10v11m1 -11v11m1 -9v9m1 -10v11m1 -11v11m1 -12v11m1 -11v10m1 -9v9"/>
<rect x="71" y="230" width="945" height="2" fill="#0000ff"/>
<path stroke="#0000ff" d="M71.5 229v5m1 -5v5m1 -6v5m1 -4v5m1 -5v4m1 -5v6m1 -5v4m1 -4v5m1 -6v6m1 -4v3m1 -4v3m1 -3v4m1 -4v4m1 -4v4m1 -4v3m1 -3v4m1 -4v3m1 -2v3m1 -5v5m1 -3v3m1 -4v4m1 -4v5m1 -4v3m1 -4v3m2 -3v4m1 -4v4m1 -4v4m1 -4v4m1 -4v4m1 -4v3m2 -3v3m1 -2v3m1 -4v4m1 -3v3m1 -4v3m2 -2v3m2 -4v5m1 -6v5m1 -4v4m1 -15v26m1 -16v6m1 -7v7m1 -5v5m1 -5v3m1 -3v3m2 -3v4m2 -3v4m1 -4v3m1 -4v3m2 -2v3m1 -4v3m1 -3v3m1 -4v5m1 -5v6m1 -8v10m1 -11v12m1 -12v12m1 -14v15m1 -13v11m1 -9v8m1 -8v9m1 -9v8m1 -7v6m1 -4v3m1 -4v5m2 -5v4m1 -3v3m1 -4v4m1 -4v4m1 -4v4m1 -3v3m1 -4v4m2 -3v3m1 -4v4m2 -4v5m3 -4v3m3 -3v3m2 -4v4m1 -4v4m1 -4v3m1 -3v4m1 -4v4m2 -3v4m1 -5v4m2 -3v3m1 -4v4m2 -4v4m1 -3v3m1 -4v5m1 -4v3m1 -3v3m1 -3v3m1 -4v4m1 -4v4m3 -3v3m1 -4v4m2 -3v3m2 -4v3m1 -3v4m1 -4v3m1 -3v4m1 -4v4m1 -4v3m1 -2v3m1 -3v3m1 -3v3m1 -4v3m1 -2v3m1 -4v3m2 -2v3m1 -4v4m3 -3v3m1 -4v4m1 -4v3m1 -3v3m1 -2v3m2 -4v4m3 -3v3m1 -4v3m1 -3v3m1 -2v3m1 -4v4m1 -4v3m3 -3v3m1 -2v3m1 -4v4m2 -3v3m1 -4v4m1 -4v4m3 -4v5m1 -6v5m1 -4v6m1 -18v27m1 -15v4m1 -4v5m1 -5v4m1 -4v3m1 -4v5m1 -3v3m1 -4v3m1 -3v3m1 -2v3m2 -4v4m2 -4v4m2 -4v4m1 -4v3m2 -3v3m1 -3v4m1 -5v4m1 -3v4m2 -4v3m1 -2v3m1 -4v3m1 -2v3m1 -4v3m1 -2v3m1 -4v5m1 -6v6m1 -6v6m1 -6v6m1 -6v5m1 -6v7m1 -7v7m1 -6v6m1 -5v6m1 -8v6m1 -5v7m1 -8v7m1 -8v7m1 -3v5m1 -7v7m1 -7v6m1 -5v5m1 -5v5m1 -6v6m1 -4v3m1 -4v4m1 -5v5m1 -4v5m1 -6v4m1 -3v4m1 -4v5m1 -5v4m1 -3v3m1 -3v3m3 -4v4m3 -3v3m1 -3v3m1 -4v3m4 -3v4m1 -3v3m1 -5v5m1 -4v3m1 -3v4m1 -4v4m2 -4v4m1 -4v4m1 -3v3m1 -4v3m2 -2v3m1 -3v3m1 -4v4m1 -3v3m1 -4v4m1 -4v3m1 -3v3m1 -3v3m1 -2v3m1 -3v4m2 -5v4m1 -4v3m2 -3v3m1 -3v3m1 -3v3m5 -3v4m1 -4v3m1 -3v4m1 -3v3m1 -4v3m3 -3v3m2 -3v4m2 -4v4m1 -4v4m1 -4v3m1 -3v4m1 -3v3m2 -4v3m2 -2v3m1 -4v4m1 -4v4m1 -4v3m1 -3v3m2 -2v3m1 -3v3m1 -4v3m1 -3v4m1 -4v4m2 -3v3m4 -3v3m1 -3v3m4 -4v4m2 -3v3m1 -4v4m2 -4v3m1 -2v3m1 -3v3m1 -4v4m1 -4v3m2 -9v18m1 -17v16m1 -37v46m1 -27v16m1 -17v35m1 -33v17m1 -16v19m1 -19v17m1 -14v15m1 -21v17m1 -19v25m1 -30v28m1 -50v80m1 -61v47m1 -47v42m1 -39v31m1 -25v22m1 -20v18m1 -14v11m1 -13v16m1 -17v17m1 -17v15m1 -10v9m1 -9v8m1 -8v8m1 -8v6m1 -6v7m1 -7v7m1 -7v6m1 -6v6m1 -5v5m1 -5v5m1 -4v3m1 -3v3m1 -4v4m1 -4v4m1 -3v3m1 -4v4m1 -4v4m1 -3v3m2 -4v3m1 -2v3m1 -3v3m5 -4v3m1 -2v3m1 -4v3m1 -2v3m2 -4v3m1 -2v3m2 -4v3m2 -3v3m1 -2v4m2 -5v3m1 -3v3m1 -2v3m1 -4v5m2 -4v3m1 -4v3m1 -3v3m1 -3v5m2 -6v5m1 -4v4m1 -4v4m1 -3v3m1 -4v3m1 -3v3m1 -3v3m1 -2v3m1 -3v3m4 -4v4m1 -4v3m1 -2v3m1 -4v3m1 -2v3m1 -4v4m1 -4v3m1 -3v4m1 -4v3m1 -3v3m1 -3v3m2 -3v4m2 -4v3m1 -3v3m2 -3v3m1 -2v3m1 -3v3m1 -3v3m1 -4v3m2 -3v4m1 -3v3m3 -4v3m2 -3v3m1 -2v3m1 -4v3m2 -2v3m1 -3v3m2 -3v3m1 -4v3m1 -2v3m2 -4v4m1 -4v3m2 -4v4m1 -2v3m1 -4v4m1 -4v3m1 -3v3m1 -3v3m2 -3v3m1 -3v4m1 -4v4m4 -4v4m1 -3v3m2 -3v3m1 -3v4m1 -4v3m6 -4v3m2 -2v3m1 -3v4m2 -5v4m1 -4v4m1 -3v3m2 -3v3m1 -3v3m3 -3v3m3 -4v3m1 -2v3m1 -3v3m1 -4v5m1 -4v3m1 -3v3m1 -3v3m1 -4v4m2 -4v3m1 -2v3m3 -3v3m1 -3v3m1 -4v4m2 -4v4m1 -4v4m1 -4v4m1 -4v4m1 -3v3m1 -4v3m1 -3v4m1 -4v4m2 -3v3m1 -3v3m1 -4v3m1 -3v3m2 -3v4m1 -3v3m1 -4v3m1 -3v4m1 -3v3m2 -3v3m3 -4v3m1 -3v3m1 -2v3m1 -3v3m1 -3v3m1 -3v3m1 -4v4m1 -4v3m5 -3v4m1 -3v3m1 -4v3m3 -2v4m1 -5v4m1 -4v3m1 -3v3m2 -3v3m2 -2v3m2 -4v3m2 -2v3m2 -3v3m2 -4v4m1 -4v4m1 -3v3m2 -4v4m1 -5v4m1 -3v3m3 -3v3m2 -3v4m2 -4v4m1 -4v3m1 -3v4m1 -4v3m1 -3v3m1 -2v3m1 -3v3m1 -4v3m3 -3v4m1 -4v3m1 -2v3m2 -4v4m1 -3v3m1 -4v4m2 -3v3m1 -4v4m1 -4v3m1 -3v4m2 -3v3m1 -3v3m2 -4v4m1 -3v3m1 -4v3m1 -2v3m1 -4v4m1 -4v3m1 -3v4m2 -4v4m1 -4v4m1 -3v3m1 -3v4m2 -5v4m1 -4v3m2 -2v3m1 -4v3m1 -2v4m1 -4v3m1 -4v3m2 -2v3m1 -4v3m1 -2v3m2 -5v4m1 -2v4m2 -4v3m1 -4v3m1 -2v3m1 -4v3m1 -3v3m1 -2v3m1 -4v3m1 -2v3m2 -3v3m4 -4v4m2 -4v4m1 -4v4m1 -5v6m1 -6v5m1 -5v6m1 -6v7m1 -7v5m1 -5v6m1 -8v9m1 -10v10m1 -9v9m1 -9v8m1 -6v6m1 -6v7m1 -8v8m1 -8v7m1 -6v7m1 -5v4m1 -5v4m2 -4v3m1 -3v4m1 -4v3m1 -3v4m1 -3v3m1 -4v4m4 -3v3m1 -4v3m1 -2v3m1 -4v3m1 -3v3m1 -2v3m1 -3v3m2 -4v3m1 -3v5m1 -7v6m1 -4v7m1 -10v11m1 -13v15m1 -13v11m1 -10v7m1 -6v5m1 -4v4m1 -4v3m2 -2v4m1 -4v3m1 -3v3m1 -3v3m2 -3v3m2 -4v3m1 -3v3m2 -2v3m1 -4v3m1 -3v3m1 -2v3m1 -4v4m1 -4v4m1 -5v6m1 -5v4m1 -5v7m1 -7v5m1 -4v5m1 -4v4m1 -4v3m1 -4v4m1 -3v3m1 -4v4m1 -4v4m1 -4v4m3 -4v3m4 -3v4m1 -4v3m3 -2v3m1 -3v3m1 -5v5m1 -4v4m1 -6v7m1 -5v5m1 -7v10m1 -11v7m1 -5v7m1 -6v4m1 -4v4m1 -4v3m4 -2v3m1 -4v3m1 -3v4m2 -3v3m1 -3v3m1 -3v3m1 -3v3m1 -3v3m1 -3v3m1 -4v3m1 -2v3m1 -4v4m2 -3v3m1 -4v4m1 -5v5m3 -3v3m1 -4v4m5 -4v3m4 -2v3m2 -4v3m1 -3v3m1 -3v3m1 -2v3m1 -4v4m1 -5v5m1 -4v3m1 -3v3m1 -3v3m1 -2v3m1 -3v3m1 -3v3m2 -4v3m1 -3v4m2 -4v4m1 -3v3m1 -4v4m1 -4v3m1 -3v4m2 -4v3m2 -2v3m2 -4v3m1 -2v3m1 -4v3m1 -2v3m2 -4v4m2 -4v3m1 -3v3m1 -3v4m3 -4v4m1 -4v4m2 -4v4m3 -4v3m1 -3v3m2 -2v3m1 -4v4m1 -4v3m4 -3v4m2 -3v3m1 -4v3m1 -3v3m1 -3v4m2 -4v4m1 -4v3m1 -3v4m3 -4v3m1 -2v3m1 -3v3m1 -4v4m4 -4v4m1 -4v3m1 -2v3m1 -3v3m1 -5v4m1 -2v3m2 -4v3m1 -3v3m1 -3v4m1 -4v3m1 -3v4m1 -4v4m2 -4v3m1 -3v3m1 -3v4m1 -3v3m2 -4v4m1 -4v3m1 -4v5m1 -4v4m1 -6v7m1 -7v8m1 -6v4m1 -11v18m1 -13v8m1 -8v8m1 -7v7m1 -7v5m1 -5v6m1 -6v6m1 -5v3m1 -3v4m1 -4v4m1 -4v3m4 -2v3m2 -5v4m2 -3v3m1 -2v3m1 -3v3m1 -4v4m1 -4v4m1 -3v3m2 -3v3m1 -4v4m1 -3v3m1 -4v4m1 -4v3m1 -2v3m2 -3v3m2 -3v3m3 -4v3m3 -3v4m1 -4v3m1 -2v3m1 -4v4m2 -3v3m1 -4v4m3 -3v3m4 -3v3m1 -4v4m1 -4v4m1 -3v3m2 -4v3m1 -2v3m1 -3v3m1 -4v3m1 -2v3m1 -4v4m1 -3v3m2 -4v3m1 -3v3m1 -2v3m1 -4v3m2 -4v5m3 -4v3"/>
<rect x="71" y="245" width="945" height="2" fill="#ff0033"/>
<path stroke="#ff0033" d="M72.5 245v3m1 -4v3m2 -2v3m1 -5v6m1 -8v8m1 -8v9m1 -8v8m1 -11v14m1 -10v5m1 -4v3m1 -3v4m1 -3v3m1 -4v4m2 -3v3m1 -4v3m2 -3v3m3 -3v3m3 -3v4m1 -3v3m1 -4v3m3 -2v3m2 -3v3m2 -3v3m1 -4v3m4 -3v3m2 -3v3m3 -2v3m2 -4v3m5 -3v3m1 -2v3m1 -4v4m1 -3v3m2 -4v4m1 -3v3m1 -4v4m2 -3v3m1 -4v3m1 -2v3m2 -4v3m2 -3v4m1 -4v3m2 -3v4m3 -4v3m1 -3v4m1 -4v3m2 -2v3m1 -4v3m6 -3v3m1 -3v3m2 -3v4m1 -4v3m1 -3v3m1 -2v3m3 -4v3m3 -2v3m1 -3v3m4 -4v3m1 -4v4m1 -4v7m1 -7v7m1 -9v9m1 -7v6m1 -8v9m1 -8v7m1 -5v5m1 -6v4m1 -4v5m1 -4v3m4 -3v4m1 -4v3m2 -2v3m3 -4v3m1 -3v4m1 -3v3m1 -4v4m6 -4v4m1 -4v3m2 -3v3m1 -2v3m1 -4v3m1 -2v3m1 -4v3m1 -2v3m1 -4v4m3 -4v3m1 -2v3m1 -4v4m1 -4v4m2 -4v3m1 -2v3m1 -3v3m1 -4v3m2 -3v3m2 -2v3m3 -4v3m1 -2v3m1 -3v3m1 -4v3m1 -3v3m4 -3v3m4 -3v4m1 -4v3m4 -2v3m5 -4v4m1 -3v3m2 -3v3m1 -4v3m1 -2v3m3 -4v3m3 -3v3m2 -3v3m1 -2v3m2 -4v4m1 -3v3m1 -4v3m1 -2v3m1 -4v3m2 -3v3m1 -3v3m3 -2v3m1 -3v3m1 -4v4m1 -3v3m1 -3v3m5 -4v3m2 -3v3m2 -3v3m4 -3v3m3 -2v3m2 -3v3m7 -4v3m2 -2v3m3 -4v3m1 -2v3m2 -3v3m1 -4v3m3 -3v3m1 -2v3m3 -4v3m2 -3v3m2 -2v3m1 -4v3m1 -2v3m5 -4v4m1 -4v4m2 -3v3m1 -3v3m1 -3v3m1 -3v3m1 -3v3m1 -3v3m2 -3v3m1 -4v3m2 -2v3m4 -3v3m1 -4v3m6 -3v4m1 -3v3m1 -4v3m1 -3v3m3 -3v3m1 -2v3m1 -4v4m3 -4v4m3 -4v3m1 -2v3m4 -3v3m1 -4v3m2 -3v4m4 -3v3m1 -4v4m1 -3v3m1 -4v4m1 -4v4m2 -4v4m2 -4v4m1 -4v4m10 -3v3m2 -4v4m2 -4v3m2 -3v3m2 -3v4m1 -3v3m1 -4v3m5 -3v4m1 -3v3m1 -4v3m1 -3v3m1 -2v3m1 -4v3m2 -2v3m1 -4v3m2 -3v4m1 -3v3m1 -4v3m1 -3v4m3 -4v4m1 -4v3m1 -3v3m1 -3v3m1 -3v3m2 -2v3m2 -3v3m1 -4v3m1 -2v3m1 -3v3m1 -3v3m1 -3v3m1 -4v4m2 -3v3m5 -3v3m2 -3v3m3 -3v3m3 -3v3m1 -3v3m1 -3v3m1 -4v4m3 -3v3m1 -4v3m1 -3v3m2 -3v3m2 -2v3m1 -3v3m2 -3v3m1 -3v3m2 -4v3m1 -3v4m1 -4v3m2 -3v4m2 -4v4m1 -3v3m1 -4v4m2 -4v4m2 -3v3m3 -4v3m1 -3v3m1 -3v3m1 -3v3m1 -2v3m1 -4v3m2 -2v3m4 -3v3m1 -3v3m4 -3v3m2 -3v3m2 -4v4m1 -4v4m2 -4v3m1 -2v3m2 -4v3m1 -3v3m1 -3v3m2 -3v3m1 -2v3m1 -4v3m1 -2v3m1 -4v4m1 -4v4m1 -3v3m1 -4v3m4 -3v4m5 -3v3m2 -4v4m6 -4v4m2 -4v3m1 -3v3m2 -3v4m2 -4v4m2 -4v3m1 -3v4m2 -4v3m1 -2v3m1 -4v3m1 -3v4m1 -3v3m1 -3v3m1 -4v4m1 -3v3m1 -4v3m2 -3v3m2 -2v3m1 -4v3m1 -2v3m1 -3v3m6 -3v3m3 -4v4m1 -4v3m1 -2v3m1 -4v3m1 -3v4m1 -3v3m2 -3v3m2 -4v4m1 -4v3m2 -3v3m2 -3v3m1 -3v3m1 -2v3m1 -4v3m1 -2v3m1 -4v3m1 -3v3m1 -3v3m2 -3v3m1 -3v3m1 -3v4m3 -3v3m3 -3v3m2 -4v3m4 -3v3m1 -3v3m5 -3v4m1 -4v3m1 -3v3m1 -2v3m3 -3v3m4 -3v3m1 -3v3m2 -4v3m3 -3v4m2 -4v3m3 -2v3m1 -3v3m3 -4v3m1 -3v3m4 -3v3m1 -3v3m4 -2v3m2 -3v3m1 -4v3m1 -3v4m1 -3v3m2 -4v3m3 -2v3m1 -3v3m2 -4v4m2 -3v3m1 -3v3m4 -4v3m7 -3v3m1 -3v4m1 -3v3m1 -3v3m1 -4v3m3 -3v4m8 -3v3m1 -4v3m1 -3v3m2 -3v4m1 -3v3m1 -3v3m1 -4v3m3 -2v3m1 -3v3m1 -3v3m1 -4v3m1 -3v4m1 -4v3m4 -3v3m1 -3v3m3 -3v4m1 -4v3m2 -2v3m1 -3v3m1 -4v3m1 -2v3m2 -4v3m1 -3v3m2 -2v3m1 -4v3m2 -3v4m1 -4v3m1 -3v3m2 -3v3m1 -2v3m3 -4v3m1 -2v3m1 -4v4m1 -4v3m1 -3v3m2 -3v3m2 -3v3m3 -3v3m3 -3v4m1 -4v4m2 -4v4m1 -4v3m2 -2v3m1 -3v3m2 -3v3m1 -3v3m1 -4v3m2 -3v4m1 -3v3m2 -4v3m2 -3v3m2 -3v4m1 -4v3m3 -3v4m2 -3v3m1 -3v3m3 -4v3m3 -2v3m1 -4v4m3 -3v3m1 -3v3m7 -4v4m4 -4v3m4 -2v3m1 -4v4m1 -3v3m1 -4v3m2 -3v3m1 -2v3m1 -4v3m1 -3v3m3 -3v3m1 -2v3m1 -3v3m5 -4v3m1 -2v3m1 -4v4m3 -4v4m1 -3v3m3 -4v3m2 -2v3m1 -4v3m1 -3v3m1 -3v3m1 -2v3m3 -4v3m1 -3v3m7 -2v3m1 -3v3m1 -4v3m5 -3v3m6 -3v4m1 -3v3m3 -3v3m1 -4v3m4 -3v4m1 -4v3m2 -3v4m2 -3v3m1 -4v3m1 -2v3m1 -3v3m3 -4v3m1 -2v3m2 -3v3m1 -4v3m3 -2v3m1 -3v3m1 -4v3m1 -3v3m2 -3v4m2 -4v4m4 -4v3m1 -3v3m2 -2v3m1 -3v3m4 -3v3m2 -4v3m2 -3v3m1 -2v3m3 -4v3m2 -3v3m1 -2v3m2 -4v4m1 -3v3m1 -4v3m1 -3v4m1 -4v4m2 -3v3m4 -4v3m2 -2v3m1 -4v3m1 -3v3m4 -3v3m1 -2v3m2 -3v3m1 -4v4m1 -3v3m2 -3v3m2 -4v3m2 -2v3m2 -3v3m6 -4v3m2 -2v3m2 -4v3m2 -3v4m1 -4v4m1 -3v3m2 -3v3m3 -4v3m2 -2v3m1 -3v3m1 -3v3m1 -3v3m1 -3v3m1 -4v4m1 -4v3m1 -5v7m1 -7v7m1 -6v6m1 -7v7m1 -7v7m1 -7v7m1 -5v6m1 -7v6m1 -6v5m1 -3v3m1 -3v3m1 -4v4m1 -3v3m5 -3v3m1 -3v3m2 -3v3m2 -4v4m1 -3v3"/>
<rect x="71" y="259" width="945" height="2" fill="#0000ff"/>
<path stroke="#0000ff" d="M77.5 259v3m1 -3v3m2 -4v4m7 -4v3m3 -3v3m1 -2v3m5 -4v3m2 -2v3m4 -4v3m2 -3v3m8 -2v3m1 -3v3m1 -4v4m1 -3v3m2 -3v3m11 -3v3m6 -3v3m2 -4v3m1 -2v3m10 -4v4m2 -3v3m2 -4v4m3 -3v3m2 -3v3m2 -4v5m1 -6v6m1 -5v6m1 -7v7m1 -7v5m1 -5v6m1 -4v4m2 -4v3m1 -3v3m9 -4v3m8 -3v3m6 -2v3m6 -3v3m3 -4v3m1 -3v3m1 -2v3m2 -4v3m2 -2v3m2 -4v3m5 -2v3m1 -3v3m1 -3v3m6 -4v3m8 -3v3m3 -3v4m1 -3v3m5 -3v3m2 -4v4m3 -4v4m4 -3v3m2 -3v3m11 -3v3m6 -3v3m8 -4v3m3 -3v3m2 -2v3m1 -4v4m8 -4v3m4 -2v3m4 -4v3m6 -2v3m1 -4v3m1 -2v3m1 -3v3m3 -3v3m4 -3v3m4 -3v3m1 -3v3m3 -3v3m2 -3v3m5 -3v3m6 -4v4m1 -3v3m2 -3v3m5 -3v3m10 -3v3m3 -3v3m4 -3v3m21 -4v3m1 -3v4m4 -4v3m3 -2v3m2 -4v3m6 -2v3m4 -4v3m7 -3v3m5 -2v3m5 -3v3m1 -3v3m2 -3v3m2 -3v3m2 -4v3m3 -3v3m15 -3v3m1 -2v3m28 -3v3m15 -4v3m9 -2v3m2 -4v3m16 -2v3m3 -4v3m9 -2v3m2 -4v3m1 -2v3m3 -4v3m1 -3v3m1 -3v3m1 -3v3m7 -2v3m1 -3v3m1 -3v3m1 -4v3m1 -2v3m1 -4v3m1 -3v3m6 -2v3m4 -4v3m5 -3v3m2 -3v3m1 -3v4m1 -4v3m3 -2v3m5 -3v3m4 -3v3m1 -3v3m5 -4v3m2 -2v3m3 -4v4m9 -4v3m9 -2v3m8 -4v3m1 -2v3m4 -3v3m1 -3v3m1 -3v3m1 -5v5m1 -4v6m1 -7v6m1 -6v5m1 -3v3m1 -3v3m3 -3v3m5 -3v3m4 -3v3m3 -3v3m1 -4v3m4 -3v3m5 -2v3m6 -3v3m11 -4v3m7 -3v3m3 -2v3m4 -4v3m2 -3v3m4 -3v3m8 -2v3m3 -4v3m2 -3v3m6 -3v3m3 -2v3m3 -4v3m5 -3v3m11 -3v3m4 -3v3m2 -3v3m12 -2v3m2 -4v3m13 -2v3m2 -4v3m2 -3v3m2 -3v3m2 -3v3m3 -3v3m4 -2v3m12 -4v3m1 -2v3m3 -3v3m7 -4v3m3 -3v3m5 -2v3m2 -4v4m1 -4v3m3 -2v3m5 -3v3m1 -4v3m5 -3v3m1 -3v3m2 -2v3m2 -4v3m7 -2v3m3 -4v3m6 -3v3m2 -2v3m1 -3v3m11 -3v3m7 -4v3m2 -3v3m1 -2v3m1 -4v3m4 -2v3m13 -3v3m3 -4v4m1 -3v3m9 -3v3m7 -3v3m6 -3v3m11 -3v3m1 -3v3m4 -3v3m9 -4v4m14 -3v3m1 -4v3m2 -3v3m11 -2v3m1 -4v4m7 -4v3m1 -3v4m4 -3v3m1 -4v3m5 -2v3m6 -3v3m3 -3v3m4 -4v3m5 -3v4m2 -4v4m1 -5v6m1 -5v4m1 -4v3"/>
<rect x="71" y="273" width="945" height="2" fill="#ff0033"/>
<path stroke="#ff0033" d="M87.5 273v3m3 -3v3m15 -4v3m6 -2v3m7 -3v3m1 -3v3m5 -3v3m13 -3v3m2 -4v3m7 -2v3m3 -4v4m1 -4v4m1 -5v6m1 -4v5m1 -6v5m1 -6v6m1 -10v12m1 -8v7m1 -8v7m1 -6v6m1 -6v6m1 -6v6m1 -5v4m1 -4v3m4 -3v3m2 -2v3m3 -4v3m6 -2v3m2 -3v3m6 -4v4m1 -3v3m7 -3v3m11 -3v3m1 -4v3m1 -3v3m3 -3v3m5 -3v3m1 -3v3m11 -3v3m2 -2v3m4 -4v3m4 -2v3m2 -3v3m4 -3v3m3 -4v4m7 -3v3m5 -3v3m5 -4v3m5 -3v3m1 -3v3m2 -2v3m2 -3v3m6 -3v3m4 -4v3m16 -2v3m1 -4v3m4 -2v3m5 -3v3m2 -3v3m2 -4v3m4 -3v4m3 -3v3m3 -4v3m3 -2v3m4 -4v3m3 -3v3m1 -3v4m3 -4v3m3 -3v3m7 -2v3m3 -3v3m3 -3v3m2 -4v4m6 -4v3m7 -3v3m1 -3v3m3 -3v4m4 -4v3m3 -2v3m1 -3v3m2 -3v3m6 -4v4m17 -3v3m5 -3v3m1 -3v3m7 -3v3m4 -4v3m1 -3v3m1 -2v3m6 -4v3m7 -3v3m14 -3v3m3 -2v3m6 -4v3m2 -2v3m4 -4v3m2 -3v3m2 -3v3m3 -2v3m2 -3v3m3 -4v3m2 -2v3m1 -3v3m1 -3v3m10 -4v3m4 -2v3m4 -4v3m1 -3v3m6 -3v4m7 -4v3m15 -2v3m2 -4v3m2 -3v3m3 -3v3m2 -3v3m10 -2v3m1 -4v4m1 -3v3m7 -4v3m2 -4v5m1 -4v4m1 -10v14m1 -9v6m1 -6v5m1 -5v6m1 -6v4m1 -4v5m1 -5v7m1 -7v6m1 -8v7m1 -6v8m1 -9v9m1 -10v10m1 -9v9m1 -8v6m1 -6v8m1 -8v7m1 -5v5m1 -5v5m1 -6v6m1 -7v6m1 -5v5m1 -4v3m1 -4v5m1 -4v4m3 -4v3m1 -3v3m8 -3v3m6 -3v3m2 -10v11m3 -4v3m2 -3v3m1 -3v3m3 -3v3m2 -2v3m1 -4v3m1 -3v3m1 -3v3m1 -2v3m1 -4v3m4 -3v3m1 -2v3m12 -3v3m3 -3v3m10 -4v3m7 -2v3m1 -4v3m3 -3v3m3 -3v4m1 -4v3m1 -2v3m3 -3v3m1 -3v3m3 -3v3m1 -4v3m2 -2v3m9 -4v3m11 -2v3m2 -3v3m1 -4v3m2 -2v3m4 -3v3m1 -3v3m2 -3v3m10 -4v3m11 -2v3m4 -3v3m7 -4v3m2 -2v3m11 -4v3m6 -2v3m4 -4v3m1 -2v3m7 -4v3m2 -2v3m2 -3v3m5 -3v3m13 -3v3m1 -4v3m4 -3v3m2 -3v4m2 -4v3m2 -3v3m1 -3v4m2 -4v4m1 -4v3m1 -3v4m1 -4v3m3 -3v4m2 -3v3m2 -3v3m3 -4v3m2 -2v3m2 -4v4m1 -3v3m3 -3v3m1 -4v4m1 -4v5m1 -6v6m1 -6v5m1 -4v4m1 -4v4m1 -3v3m2 -4v3m1 -3v3m1 -3v3m3 -2v3m2 -4v3m8 -3v3m1 -2v3m3 -3v3m9 -4v3m1 -2v3m1 -3v3m1 -4v5m1 -4v4m1 -5v4m1 -4v5m1 -4v3m5 -4v4m3 -3v3m4 -3v3m9 -4v3m1 -3v3m7 -2v3m1 -3v3m2 -3v3m1 -3v3m6 -4v3m5 -3v3m3 -3v3m1 -3v3m3 -3v3m2 -2v3m6 -3v3m8 -4v3m1 -3v3m2 -3v3m7 -3v3m1 -3v3m7 -2v3m3 -3v3m8 -3v3m5 -4v3m9 -10v13m3 -5v3m1 -4v4m1 -4v4m1 -11v13m1 -7v5m1 -5v6m1 -6v6m1 -6v6m1 -6v5m1 -5v6m1 -6v8m1 -9v8m1 -7v7m1 -9v10m1 -10v8m1 -5v5m1 -5v5m1 -7v6m1 -5v7m1 -7v5m1 -5v6m1 -5v5m1 -5v5m1 -5v4m1 -4v4m1 -4v4m2 -4v3m2 -2v3"/>
<rect x="71" y="287" width="945" height="2" fill="#0000ff"/>
<path stroke="#0000ff" d="M71.5 286v3m3 -3v3m1 -2v4m1 -6v5m1 -3v3m1 -3v3m1 -4v4m1 -3v3m1 -3v3m1 -3v3m1 -4v3m1 -2v3m1 -4v4m1 -3v3m1 -3v3m5 -4v3m3 -2v3m2 -4v3m1 -3v4m1 -3v3m3 -4v3m2 -3v3m3 -3v3m1 -3v3m1 -2v3m4 -4v4m1 -4v3m1 -3v3m1 -2v3m1 -4v4m3 -4v3m2 -3v3m1 -2v4m1 -5v3m6 -3v4m1 -4v4m1 -4v4m3 -4v3m1 -3v4m1 -3v3m1 -4v3m1 -3v3m1 -3v3m2 -2v3m2 -4v3m1 -3v4m1 -4v3m4 -3v3m2 -2v3m1 -4v3m5 -3v4m1 -4v3m3 -3v3m1 -3v3m1 -2v3m1 -4v3m2 -3v3m1 -2v3m4 -4v3m1 -3v4m1 -4v4m1 -4v3m1 -2v3m2 -3v3m2 -4v3m1 -2v3m1 -4v3m1 -3v4m2 -3v3m1 -4v3m1 -2v3m2 -4v3m2 -3v3m2 -3v3m2 -3v3m2 -3v4m4 -3v3m1 -3v3m3 -3v3m1 -4v3m1 -2v3m1 -4v4m2 -4v3m2 -3v3m1 -3v3m2 -2v3m2 -4v3m2 -2v3m1 -4v3m3 -2v3m2 -4v4m2 -3v3m1 -4v4m1 -4v4m2 -3v3m1 -4v4m1 -3v3m1 -4v4m1 -3v3m1 -3v3m2 -4v4m1 -4v4m1 -4v3m1 -3v4m1 -4v4m3 -4v4m1 -4v4m1 -4v3m1 -3v3m2 -2v3m2 -4v3m1 -3v4m1 -4v4m4 -4v3m1 -3v3m1 -2v3m1 -4v3m1 -3v3m2 -3v3m1 -3v4m2 -4v3m1 -2v3m1 -4v3m1 -3v4m1 -4v3m1 -3v4m1 -3v3m1 -3v3m3 -4v4m1 -4v3m1 -3v4m2 -4v4m1 -3v3m1 -4v3m1 -3v4m1 -4v4m1 -4v3m1 -2v3m1 -4v4m1 -4v4m4 -4v3m1 -3v3m1 -2v3m3 -4v3m1 -2v3m1 -4v4m1 -3v3m2 -4v4m1 -4v3m2 -3v4m1 -4v3m1 -3v4m1 -3v3m2 -3v3m1 -4v4m1 -3v3m2 -3v3m1 -3v4m3 -4v3m2 -4v3m1 -3v3m1 -3v4m1 -4v4m1 -4v4m2 -3v3m1 -4v3m1 -3v3m1 -3v4m2 -3v3m1 -3v3m3 -4v3m1 -2v3m1 -5v5m2 -3v3m4 -3v3m3 -3v3m2 -4v3m2 -2v3m1 -3v3m1 -3v3m3 -4v4m1 -4v3m1 -2v3m1 -3v3m3 -3v3m1 -3v3m1 -4v4m1 -4v3m1 -3v3m3 -2v3m1 -4v4m6 -3v3m3 -4v4m1 -4v4m1 -4v3m1 -2v3m2 -3v3m1 -3v3m1 -4v4m1 -4v3m1 -2v3m1 -4v3m2 -2v3m2 -4v4m1 -4v3m1 -3v3m2 -3v4m1 -3v3m2 -4v3m1 -3v3m2 -2v3m1 -4v3m2 -2v3m1 -4v4m1 -4v4m1 -4v4m1 -4v3m1 -3v3m1 -3v4m2 -3v3m1 -3v3m1 -4v3m3 -3v3m1 -2v3m4 -3v3m1 -4v3m1 -2v3m1 -4v4m1 -3v3m1 -4v4m1 -4v3m1 -4v5m1 -5v6m1 -6v6m1 -5v5m1 -6v5m1 -4v4m1 -5v5m1 -4v4m1 -4v4m2 -4v4m2 -4v3m1 -3v3m2 -3v4m2 -4v4m1 -4v3m1 -3v4m7 -4v3m1 -3v4m1 -4v3m1 -2v3m4 -4v3m1 -3v3m1 -3v3m2 -2v3m1 -4v3m2 -2v3m2 -3v3m1 -4v4m1 -4v3m1 -3v3m1 -2v3m1 -4v3m1 -2v3m2 -4v3m2 -2v3m2 -3v3m2 -3v3m1 -4v3m1 -3v3m1 -3v3m1 -2v3m1 -3v3m1 -4v4m2 -4v4m1 -3v3m1 -4v3m2 -3v4m1 -4v3m2 -3v4m1 -3v3m2 -4v5m2 -4v3m1 -3v3m1 -3v3m1 -4v3m2 -3v4m2 -4v3m1 -3v4m1 -3v3m1 -4v3m2 -2v3m3 -3v3m1 -3v4m1 -5v4m1 -3v3m2 -3v3m1 -4v3m4 -3v3m1 -3v3m1 -3v4m1 -4v3m2 -2v3m1 -3v3m2 -4v3m2 -2v3m1 -3v3m1 -4v3m1 -2v3m2 -3v3m1 -4v4m1 -4v4m1 -3v3m1 -4v3m1 -2v3m1 -4v4m3 -4v3m1 -2v3m2 -3v3m1 -4v3m1 -3v3m1 -3v3m1 -3v3m1 -2v3m3 -4v4m2 -3v3m1 -3v4m1 -5v3m1 -2v3m1 -4v3m1 -3v4m1 -4v3m1 -3v3m1 -3v3m2 -3v3m1 -2v3m1 -4v3m1 -3v3m1 -3v3m1 -3v3m1 -3v4m1 -3v3m1 -4v3m1 -3v4m1 -4v3m2 -3v4m1 -3v3m1 -3v3m1 -4v3m1 -3v3m1 -2v3m1 -4v4m2 -3v3m1 -3v3m1 -3v3m1 -3v3m3 -3v3m2 -3v4m1 -4v3m1 -3v3m2 -3v3m1 -4v3m2 -3v3m2 -2v3m3 -3v3m1 -3v3m2 -3v3m1 -4v3m1 -2v3m2 -4v3m1 -2v3m1 -4v4m2 -4v4m1 -4v3m1 -3v3m1 -2v3m1 -3v3m1 -4v3m3 -2v3m1 -3v3m1 -4v3m2 -2v3m1 -3v3m1 -3v3m1 -4v4m1 -3v3m1 -3v3m1 -4v3m2 -3v3m1 -3v3m1 -2v3m1 -4v3m1 -3v3m1 -3v3m2 -3v4m1 -4v3m2 -2v3m1 -4v3m1 -3v4m1 -4v4m1 -3v3m1 -4v3m2 -2v3m1 -4v4m1 -3v3m1 -5v4m1 -3v3m1 -3v3m2 -2v3m1 -4v4m2 -4v5m1 -5v3m5 -3v3m1 -3v3m1 -2v3m1 -4v4m1 -4v3m1 -3v3m1 -3v4m1 -4v3m1 -2v3m1 -4v3m1 -2v3m1 -4v3m1 -3v3m1 -3v3m1 -2v3m2 -3v3m2 -4v3m1 -2v3m1 -3v3m1 -3v3m2 -4v3m2 -2v3m1 -3v3m1 -4v4m1 -4v3m2 -3v3m3 -3v3m1 -2v3m2 -3v3m1 -4v3m1 -3v3m2 -3v3m1 -3v4m1 -4v4m3 -3v3m1 -3v3m1 -4v3m1 -3v4m1 -4v4m1 -4v4m1 -4v4m2 -3v3m2 -4v3m1 -3v3m2 -3v3m1 -2v3m1 -3v3m1 -4v3m1 -3v4m1 -4v3m1 -2v3m1 -4v3m1 -2v3m1 -4v4m1 -4v3m1 -3v3m2 -3v3m1 -3v4m2 -3v3m1 -3v3m1 -5v5m2 -4v3m1 -2v3m4 -4v4m1 -4v3m1 -2v3m1 -4v3m1 -3v4m1 -4v3m1 -2v3m1 -4v3m2 -2v3m1 -4v4m1 -4v3m2 -3v3m2 -3v4m3 -4v3m2 -3v4m1 -3v3m2 -4v4m1 -4v3m2 -3v3m4 -3v3m1 -3v4m1 -3v3m1 -4v5m1 -5v3m1 -2v3m1 -4v3m1 -3v4m1 -4v4m1 -4v3m1 -2v3m2 -4v4m1 -4v4m3 -3v3m1 -3v3m1 -3v3m1 -4v3m1 -3v3m1 -3v4m2 -4v4m1 -4v3m1 -3v3m2 -3v3m3 -2v3m1 -4v4m1 -3v3m2 -4v4m2 -3v3m1 -4v3m1 -3v4m1 -4v4m1 -3v3m1 -4v3m1 -3v4m1 -3v3m2 -4v3m1 -2v3m3 -4v3m1 -2v3m1 -3v3m2 -4v3m1 -3v3m1 -3v5m1 -6v6m1 -5v4m1 -4v4m1 -3v3m1 -4v3m1 -3v3m1 -2v3m2 -4v4m3 -4v3m1 -2v3m1 -4v3m2 -3v3m1 -2v3m1 -3v3m1 -4v4m2 -4v3m1 -3v3m2 -2v3m1 -3v3m1 -4v4m1 -4v4m1 -3v3m1 -4v3m1 -2v3m1 -3v3m4 -4v3m1 -3v3m1 -3v4m1 -4v4m1 -4v4m1 -4v3m1 -3v4m1 -3v3m2 -3v3m1 -3v3m2 -4v4m2 -4v3m1 -3v4m3 -3v3m1 -3v3m1 -4v3m2 -2v3m1 -4v4m1 -4v3m1 -3v4m2 -4v3m1 -2v3m1 -4v3m5 -2v3m1 -4v4m2 -4v4m1 -4v4m1 -3v3m1 -4v3m3 -4v4m1 -3v3m1 -2v3m1 -4v3m1 -3v3m1 -3v4m2 -4v4m2 -4v3m6 -2v3m2 -4v4m1 -4v3m1 -3v3m1 -3v4m1 -3v3m1 -4v3m1 -3v3m1 -3v4m2 -4v4m1 -4v4m2 -3v3m1 -3v3m1 -3v3m1 -4v4m1 -4v4m1 -3v3m2 -3v3m2 -3v4m1 -4v3m1 -4v3m1 -3v4m1 -4v3m1 -3v3m3 -3v3m1 -2v3m2 -3v3m1 -4v4m1 -4v3m1 -2v3m2 -4v3m2 -3v4m1 -4v3m1 -3v4m2 -3v3m1 -3v3m1 -4v3m1 -3v4m1 -4v3m1 -2v3m1 -3v3m2 -3v4m2 -5v3m1 -3v3m2 -3v4m1 -4v3m2 -3v4m2 -4v4m5 -4v4m1 -3v4m1 -5v3m1 -3v3"/>
<rect x="71" y="302" width="945" height="2" fill="#ff0033"/>
<path stroke="#ff0033" d="M71.5 302v3m1 -4v3m1 -2v3m1 -4v3m7 -3v3m2 -3v4m1 -4v4m1 -4v3m2 -3v3m2 -3v3m1 -3v4m1 -3v3m2 -4v3m1 -3v3m1 -3v4m1 -5v6m1 -8v10m1 -12v12m1 -10v12m1 -20v26m1 -21v13m1 -10v9m1 -10v11m1 -8v8m1 -7v5m1 -6v5m1 -4v3m1 -2v3m1 -3v3m4 -4v3m2 -3v3m2 -2v3m1 -3v3m1 -3v3m3 -3v3m1 -4v3m2 -2v3m1 -4v3m1 -4v5m1 -5v6m1 -4v3m2 -4v4m3 -4v4m1 -3v3m2 -4v4m1 -3v3m3 -4v4m1 -4v3m4 -3v3m2 -2v3m2 -4v3m4 -3v3m1 -3v3m1 -2v3m2 -4v4m1 -4v3m7 -2v3m3 -4v3m1 -3v3m1 -3v3m2 -3v3m2 -3v4m1 -4v3m1 -3v4m1 -4v3m2 -3v4m3 -4v3m1 -3v4m4 -3v3m1 -3v3m1 -4v4m2 -4v3m3 -2v3m1 -4v3m1 -2v3m1 -4v3m2 -2v3m2 -3v3m4 -3v3m1 -4v3m4 -2v3m2 -4v3m2 -3v3m3 -3v3m1 -3v4m1 -4v3m2 -2v3m3 -4v3m1 -2v3m1 -3v3m6 -3v3m1 -4v3m1 -2v3m1 -4v4m2 -3v3m1 -3v3m1 -4v4m2 -4v4m1 -4v4m1 -4v3m1 -3v3m3 -3v3m1 -3v4m1 -4v3m3 -3v3m2 -3v4m1 -4v3m3 -3v3m2 -2v3m1 -4v3m1 -3v3m1 -3v3m1 -2v3m1 -3v3m2 -4v4m3 -4v3m1 -3v3m1 -2v3m4 -4v3m3 -3v3m1 -2v3m1 -4v3m2 -2v3m1 -4v3m2 -3v3m1 -3v3m2 -3v3m1 -2v3m3 -4v3m3 -2v3m3 -4v3m1 -2v3m1 -4v4m1 -3v3m1 -4v3m1 -2v3m1 -4v3m2 -3v4m1 -3v3m1 -4v3m2 -3v4m2 -4v3m1 -2v3m1 -3v3m1 -3v3m7 -3v3m1 -3v3m1 -4v4m2 -4v3m1 -2v3m2 -4v4m2 -4v3m3 -2v3m1 -3v3m8 -4v3m2 -2v3m1 -3v3m1 -4v3m1 -3v3m1 -2v3m1 -4v3m3 -3v3m1 -3v3m2 -3v3m2 -3v3m1 -3v4m1 -4v3m1 -2v3m1 -4v3m1 -3v4m2 -3v3m1 -4v4m1 -3v3m2 -4v3m1 -3v3m3 -2v3m1 -3v3m1 -4v3m1 -3v3m2 -2v3m1 -3v3m1 -4v4m1 -3v3m1 -3v3m2 -4v4m4 -3v3m1 -4v4m4 -4v3m3 -2v3m1 -4v4m1 -3v3m7 -4v3m1 -3v3m1 -3v3m1 -2v3m2 -4v3m1 -2v3m1 -3v3m3 -4v3m1 -2v3m6 -3v3m1 -4v4m1 -4v4m2 -4v3m4 -3v3m2 -2v3m2 -4v3m2 -2v3m2 -4v3m6 -3v3m1 -2v3m1 -4v4m2 -4v4m1 -3v3m1 -4v3m1 -3v4m2 -4v3m1 -3v3m1 -3v3m1 -3v3m2 -3v3m4 -3v3m5 -2v3m2 -3v3m1 -4v3m5 -3v4m1 -3v3m2 -3v3m3 -4v4m2 -3v3m1 -4v3m3 -3v3m6 -3v3m1 -3v3m1 -3v3m2 -3v4m1 -4v4m2 -3v3m1 -3v3m2 -3v3m8 -4v3m2 -3v3m3 -3v3m1 -2v3m2 -4v3m1 -3v3m4 -3v3m3 -3v3m1 -2v3m1 -4v3m3 -2v3m3 -4v3m1 -3v3m2 -2v3m1 -4v3m2 -3v3m3 -3v3m1 -3v3m1 -3v3m3 -3v3m2 -2v3m2 -3v3m1 -4v3m1 -3v3m1 -3v3m1 -3v4m1 -3v3m2 -3v3m2 -4v3m1 -3v4m4 -4v4m4 -3v3m1 -3v3m1 -3v3m4 -3v3m6 -3v3m2 -4v3m2 -2v3m2 -3v3m2 -3v3m1 -4v3m2 -3v3m3 -3v3m1 -3v4m1 -3v3m2 -4v3m1 -3v4m1 -4v4m2 -4v3m2 -3v3m3 -2v3m1 -4v4m1 -4v4m1 -3v3m2 -3v3m2 -3v3m2 -4v4m1 -4v3m2 -2v3m1 -3v3m2 -4v3m1 -3v3m1 -3v3m1 -2v3m1 -3v3m1 -4v3m2 -3v4m2 -4v3m1 -2v3m1 -3v3m1 -4v3m1 -3v3m2 -3v3m2 -2v3m2 -3v3m1 -4v4m3 -4v3m1 -3v4m1 -4v3m1 -3v4m1 -3v3m3 -4v3m1 -3v4m1 -3v3m1 -4v3m2 -2v3m2 -4v3m2 -3v4m2 -4v3m6 -2v3m3 -3v3m1 -3v3m1 -3v3m2 -4v3m1 -3v3m2 -3v3m1 -3v3m1 -3v3m1 -3v3m2 -2v3m1 -3v3m1 -3v3m3 -4v3m2 -3v3m1 -3v4m2 -3v3m1 -4v4m4 -4v3m1 -3v3m1 -3v3m1 -2v3m1 -4v3m1 -3v3m5 -3v4m1 -4v3m1 -3v3m2 -2v3m1 -4v4m1 -4v3m2 -2v3m1 -4v3m4 -2v3m1 -4v4m1 -3v3m2 -3v3m2 -4v3m1 -2v3m1 -3v3m1 -4v3m5 -3v3m1 -3v4m1 -4v5m1 -7v8m1 -7v9m1 -8v5m1 -6v6m1 -4v3m2 -4v3m1 -3v3m2 -3v3m2 -3v4m1 -4v3m1 -2v3m1 -4v3m4 -3v3m1 -3v3m1 -3v3m6 -3v3m2 -3v3m5 -2v3m1 -3v3m1 -4v4m1 -3v3m1 -4v3m4 -3v3m3 -3v3m1 -3v3m1 -3v4m1 -4v4m1 -3v3m6 -3v3m1 -3v3m4 -3v3m1 -3v3m3 -3v3m3 -4v3m2 -2v3m3 -3v3m1 -4v3m1 -2v3m2 -4v3m6 -3v4m1 -4v3m1 -6v7m1 -4v3m2 -3v3m1 -2v3m1 -4v3m1 -2v3m1 -4v3m2 -2v3m1 -3v3m4 -3v3m1 -3v3m1 -3v3m3 -3v3m2 -3v3m1 -4v3m2 -2v3m1 -4v4m2 -4v3m2 -3v3m3 -2v3m3 -3v3m1 -4v3m1 -3v3m1 -3v3m2 -2v3m2 -4v3m5 -2v3m1 -4v3m1 -2v3m2 -3v3m1 -3v3m1 -4v3m1 -3v3m1 -3v3m2 -3v3m2 -3v4m2 -4v3m2 -3v3m1 -2v3m2 -4v4m1 -4v3m5 -2v3m1 -3v3m4 -3v3m1 -4v3m2 -3v4m2 -4v3m1 -3v3m1 -3v3m2 -3v3m5 -3v3m5 -3v4m1 -4v4m2 -3v3m5 -7v7m1 -4v3m3 -3v4m2 -4v4m3 -3v3m3 -4v4m2 -3v3m2 -3v3m1 -4v4m1 -4v3m2 -2v3m4 -3v3m1 -4v3m1 -3v4m2 -3v3m4 -4v4m1 -3v3m1 -4v3m4 -2v3m5 -4v3m1 -2v3m1 -4v3m1 -3v3m1 -2v3m4 -4v3m2 -3v3m1 -3v3m3 -3v4m1 -3v3m1 -4v3m2 -2v3m1 -3v3m1 -4v4m1 -4v3m7 -2v3m3 -3v3m3 -4v4m1 -3v3m3 -4v3m2 -3v3"/>
<rect x="71" y="316" width="945" height="2" fill="#0000ff"/>
<path stroke="#0000ff" d="M72.5 314v4m2 -3v4m1 -4v4m1 -4v4m1 -4v4m1 -4v4m1 -4v4m1 -3v3m1 -4v4m1 -4v4m1 -4v3m1 -3v4m1 -4v4m1 -4v4m1 -4v3m1 -3v3m1 -3v3m1 -3v3m1 -3v3m1 -3v4m1 -4v4m1 -4v3m2 -2v3m1 -3v3m1 -3v3m1 -4v4m1 -3v3m1 -4v4m1 -3v3m1 -4v3m1 -3v4m2 -5v4m1 -2v3m2 -4v3m1 -2v3m1 -4v4m1 -4v4m2 -4v4m1 -4v4m1 -3v3m1 -3v3m1 -4v3m1 -2v3m3 -3v3m1 -4v3m1 -2v3m1 -4v4m4 -3v3m1 -3v3m1 -4v3m1 -3v5m2 -6v4m1 -3v4m1 -4v4m1 -3v3m1 -4v4m3 -4v3m1 -2v3m1 -3v3m1 -4v4m1 -3v3m1 -4v3m2 -3v3m2 -3v3m1 -3v3m1 -4v5m1 -4v3m3 -3v5m1 -5v4m1 -3v3m2 -3v3m1 -3v3m3 -4v4m1 -4v4m2 -3v3m1 -4v5m1 -5v4m2 -5v5m1 -3v3m1 -4v4m1 -4v3m1 -3v3m1 -2v3m2 -5v4m1 -3v4m2 -3v3m2 -4v3m1 -4v6m1 -7v7m1 -5v5m1 -6v5m2 -4v4m2 -4v3m1 -4v6m1 -4v3m1 -5v6m1 -4v3m1 -3v4m1 -5v5m1 -5v3m2 -3v3m1 -3v3m1 -2v3m1 -4v3m2 -2v3m1 -5v5m1 -4v3m1 -3v4m1 -4v4m1 -5v4m1 -3v3m1 -318v780m1 -780v780m1 -780v780m1 -780v780m1 -780v780m1 -780v780m1 -780v780m1 -780v780m1 -780v780m1 -780v780m1 -686v423m1 -410v382m1 -311v309m1 -296v244m1 -238v234m1 -180v148m1 -133v119m1 -112v101m1 -90v90m1 -95v83m1 -84v79m1 -77v70m1 -60v48m1 -35v30m1 -32v27m1 -25v28m1 -26v25m1 -27v22m1 -18v21m1 -20v20m1 -21v21m1 -20v17m1 -15v14m1 -13v13m1 -11v7m1 -5v7m1 -8v8m1 -8v7m1 -7v5m1 -5v5m1 -5v5m1 -4v5m1 -5v3m1 -3v3m2 -3v3m1 -2v3m1 -4v4m1 -4v3m1 -3v4m1 -5v7m1 -8v9m1 -8v6m1 -6v6m1 -6v6m1 -4v4m1 -5v6m1 -7v5m1 -4v5m1 -8v9m1 -13v18m1 -17v15m1 -12v9m1 -10v9m1 -6v6m1 -6v6m1 -6v5m1 -4v4m1 -4v4m2 -4v4m1 -3v3m2 -4v4m1 -6v7m1 -9v11m1 -14v18m1 -29v31m1 -23v21m1 -14v8m1 -8v7m1 -4v4m1 -4v4m1 -4v4m1 -4v4m1 -3v3m1 -4v4m3 -3v3m2 -4v4m1 -3v4m1 -4v3m1 -4v4m1 -4v3m1 -3v5m1 -5v4m1 -5v4m1 -3v4m1 -4v3m1 -3v5m1 -5v3m1 -2v4m1 -5v3m1 -3v4m1 -4v4m2 -4v3m1 -3v4m2 -3v3m1 -4v4m1 -4v5m1 -4v3m1 -4v3m1 -3v4m1 -4v4m1 -4v3m1 -3v4m1 -3v3m1 -4v4m1 -4v3m2 -2v3m2 -3v3m1 -5v4m1 -3v3m1 -3v3m1 -3v3m1 -2v3m1 -4v3m1 -3v3m2 -4v5m1 -5v4m1 -2v3m2 -4v4m1 -4v4m1 -5v4m1 -3v3m2 -3v3m1 -3v3m1 -3v4m1 -4v3m2 -2v3m1 -4v5m1 -5v4m1 -4v5m1 -5v4m1 -4v4m1 -4v4m2 -4v4m1 -4v3m1 -3v3m2 -3v4m1 -4v5m2 -5v5m1 -6v5m4 -5v4m1 -3v3m1 -2v3m1 -5v5m1 -3v3m2 -4v4m1 -3v3m1 -3v4m2 -5v5m2 -6v4m1 -4v5m1 -4v3m2 -8v10m1 -5v4m1 -3v3m2 -4v5m1 -4v3m1 -4v3m4 -2v4m1 -4v3m1 -3v3m1 -3v4m1 -4v3m3 -3v3m1 -4v3m1 -2v4m1 -6v4m1 -2v3m1 -3v3m1 -3v4m1 -4v4m1 -4v3m2 -4v3m1 -2v3m1 -3v3m1 -4v4m1 -4v3m2 -2v3m1 -3v3m1 -5v4m1 -3v3m1 -4v5m1 -3v4m1 -5v4m1 -3v3m1 -3v3m1 -4v3m1 -3v4m2 -4v3m1 -4v4m1 -4v4m1 -3v4m1 -4v3m1 -3v4m3 -3v4m3 -6v6m2 -4v3m1 -4v3m1 -3v3m1 -3v3m3 -3v3m1 -3v3m1 -3v3m1 -3v3m1 -2v3m1 -4v4m1 -10v11m1 -7v7m1 -7v7m1 -7v8m1 -6v4m1 -4v4m1 -4v4m1 -4v4m1 -5v5m1 -4v3m1 -2v4m2 -6v5m1 -4v4m1 -4v3m1 -2v3m1 -4v4m2 -3v3m1 -4v4m1 -4v3m1 -3v3m1 -3v4m1 -3v3m1 -4v5m1 -6v6m1 -5v3m1 -2v3m1 -4v4m2 -4v4m1 -3v3m1 -4v4m1 -4v4m1 -5v6m1 -6v8m1 -17v17m1 -9v8m1 -8v8m1 -6v4m1 -5v5m1 -4v4m1 -4v3m1 -2v3m1 -5v4m1 -2v3m1 -3v3m1 -4v4m1 -4v3m1 -2v3m1 -4v4m1 -4v4m2 -4v3m1 -2v3m1 -4v3m2 -2v3m1 -4v5m1 -4v3m2 -4v4m1 -3v3m1 -5v6m2 -5v3m1 -3v4m2 -3v3m1 -5v5m1 -4v3m1 -4v4m1 -3v3m1 -4v4m2 -3v3m1 -4v4m1 -2v3m1 -4v3m1 -3v3m2 -3v5m1 -4v3m1 -4v4m1 -5v6m1 -4v3m1 -3v3m2 -3v4m1 -5v3m1 -3v3m1 -3v4m1 -4v3m1 -3v3m1 -2v3m1 -3v4m1 -5v3m1 -3v3m1 -3v3m1 -2v3m1 -5v4m1 -3v3m1 -3v5m1 -5v3m2 -2v3m1 -3v3m3 -3v3m1 -4v5m1 -5v3m1 -3v4m1 -3v3m2 -4v3m2 -3v4m2 -4v5m2 -4v3m1 -5v4m1 -3v3m1 -3v4m1 -4v4m1 -4v4m1 -4v4m1 -3v4m1 -6v6m2 -4v3m1 -4v4m1 -5v4m1 -3v3m1 -3v4m1 -5v5m1 -3v3m3 -4v3m1 -2v3m1 -4v3m2 -2v3m1 -3v3m1 -4v3m1 -3v3m2 -3v3m2 -4v4m1 -3v3m1 -3v4m1 -4v4m1 -3v3m1 -3v3m2 -3v3m1 -5v5m1 -3v4m1 -5v4m1 -4v4m2 -5v6m1 -6v6m1 -5v4m1 -4v4m1 -4v4m1 -4v4m1 -4v5m1 -5v5m1 -5v6m1 -7v6m1 -5v5m1 -6v6m1 -6v5m1 -4v4m1 -4v5m1 -5v5m1 -5v3m2 -2v3m1 -5v5m1 -4v3m1 -3v3m2 -2v3m1 -4v4m1 -4v5m1 -4v3m1 -4v4m1 -3v4m1 -5v4m1 -4v4m3 -4v3m1 -2v3m1 -4v4m1 -6v6m1 -4v4m1 -4v4m2 -3v4m1 -5v4m1 -4v3m1 -2v3m1 -3v3m1 -5v5m2 -4v3m1 -4v6m1 -6v5m1 -4v3m1 -3v4m1 -3v3m1 -3v3m2 -4v5m2 -4v3m4 -4v4m1 -5v6m1 -4v3m3 -4v5m1 -4v3m1 -3v3m1 -4v3m1 -3v3m4 -3v4m1 -4v5m1 -5v4m1 -3v4m1 -5v3m2 -2v3m1 -4v3m1 -3v3m1 -2v3m1 -3v3m1 -5v4m1 -3v4m2 -4v4m1 -3v3m2 -5v6m1 -5v4m1 -4v4m1 -3v3m1 -4v4m1 -4v5m1 -6v6m1 -6v6m1 -6v6m1 -5v4m1 -5v6m1 -5v5m1 -5v4m1 -4v4m1 -4v3m2 -2v3m1 -3v3m1 -4v4m1 -4v3m1 -2v3m1 -5v6m1 -4v4m1 -4v3m1 -4v3m1 -2v3m1 -4v4m1 -4v3m1 -2v3m1 -4v3m2 -3v4m1 -3v3m1 -3v3m1 -4v3m2 -2v4m1 -5v3m1 -2v3m1 -5v5m1 -4v5m1 -4v3m1 -3v3m1 -4v3m2 -3v4m1 -5v4m1 -3v5m4 -4v3m1 -5v5m1 -3v3m1 -4v4m2 -4v5m1 -4v3m1 -4v5m1 -4v3m1 -4v4m1 -5v5m1 -3v4m1 -6v6m5 -4v3m1 -4v3m3 -4v5m1 -4v3m1 -3v3m1 -3v4m1 -5v5m1 -4v3m1 -2v3m1 -3v3m1 -5v5m1 -5v5m1 -4v5m1 -5v4m1 -4v4m1 -5v6m1 -5v4m1 -5v7m1 -7v7m1 -7v5m1 -5v5m1 -4v6m1 -7v6m1 -7v7m1 -6v5m1 -5v6m1 -6v5m1 -4v4m1 -5v5m1 -4v3m1 -2v3m1 -4v3m1 -2v3m2 -4v3m1 -2v3m1 -4v4m1 -4v6m1 -8v10m1 -18v23m1 -13v6m1 -6v3m1 -3v3m1 -2v3m1 -4v4m1 -4v4m2 -5v5m1 -4v4m1 -3v3m1 -4v3m1 -3v3m1 -3v4m1 -5v4m1 -3v3m1 -4v4m1 -3v4m2 -4v3m2 -2v3m1 -4v3m1 -2v4m1 -4v3m1 -4v3m2 -2v3m2 -4v5m1 -5v4m1 -5v5m1 -5v5m1 -4v4m1 -3v3m1 -4v4m1 -5v4m1 -2v3m1 -5v5m1 -3v3m1 -4v4m2 -3v3m2 -4v3m1 -4v5m1 -3v3m1 -3v3m1 -4v3m1 -3v3m1 -3v4m1 -4v4m1 -4v4m2 -4v4m3 -4v4m1 -4v4m2 -5v5m3 -5v5m1 -4v5m2 -5v4m1 -3v4m1 -5v3m2 -2v3m2 -4v4m1 -4v3m1 -3v5m1 -7v8m1 -6v6m1 -7v6m1 -5v4m2 -3v3m2 -4v3m1 -3v3m2 -3v3m2 -3v4m1 -3v3m1 -4v4m2 -3v3m1 -4v4m2 -3v4m1 -6v4m1 -4v6m1 -6v4m2 -3v4m1 -4v3m2 -3v5m1 -5v3m1 -3v4m1 -3v3m1 -4v4m1 -5v4m1 -3v3m1 -3v4m1 -3v3m1 -5v5m2 -4v4m1 -3v3m1 -4v4m1 -5v4m1 -2v3m1 -3v3m2 -4v3m1 -3v5m2 -4v3m1 -4v4m1 -4v3m1 -3v3m1 -2v3m2 -4v4m1 -4v4m1 -4v4m1 -4v4m1 -4v4m1 -5v6m1 -5v4m1 -3v3m1 -4v4m1 -4v5m1 -5v3m1 -2v3m1 -5v5m1 -4v3m1 -3v4m1 -4v4m2 -3v4m1 -6v4m1 -3v3m1 -3v4m1 -4v3m1 -3v4m1 -4v4m1 -4v4m2 -5v4m1 -3v3m1 -2v3m1 -5v4m1 -3v4m1 -5v5m3 -4v3m1 -2v4m1 -5v4m1 -3v3m1 -3v3m1 -4v5m1 -6v6m1 -5v4m2 -3v3m1 -4v3m3 -3v4m1 -6v6m1 -5v7m1 -10v11m1 -13v14m1 -12v11m1 -9v8m1 -7v5m1 -5v6"/>
<rect x="71" y="330" width="945" height="2" fill="#ff0033"/>
<path stroke="#ff0033" d="M71.5 329v4m1 -5v5m1 -3v3m1 -4v4m2 -4v3m1 -2v3m2 -4v3m1 -4v6m1 -5v3m1 -4v4m1 -3v4m1 -3v3m1 -4v4m1 -4v5m2 -6v4m4 -3v3m1 -2v4m1 -4v3m1 -4v4m1 -4v3m1 -3v4m1 -3v3m1 -4v5m1 -5v3m2 -2v3m1 -5v5m3 -4v4m1 -4v4m3 -4v3m1 -3v3m1 -4v5m2 -4v3m1 -3v4m1 -4v4m1 -4v4m1 -4v3m1 -3v3m1 -3v4m1 -5v4m2 -3v3m1 -3v3m1 -2v3m1 -5v7m1 -8v8m1 -11v13m1 -13v15m1 -14v12m1 -15v19m1 -13v10m1 -14v13m1 -11v11m1 -9v5m1 -3v3m1 -5v6m1 -4v3m2 -4v3m1 -3v4m1 -4v4m2 -4v4m1 -3v3m1 -3v3m1 -4v5m1 -5v3m2 -3v3m2 -3v5m1 -4v3m1 -4v4m1 -4v4m1 -4v5m1 -5v4m1 -4v4m1 -3v3m1 -4v4m1 -3v3m1 -4v4m1 -4v3m1 -2v3m1 -5v4m1 -3v3m1 -3v4m1 -3v3m1 -3v3m1 -3v3m2 -3v3m1 -4v3m1 -3v3m1 -3v4m1 -6v6m1 -6v8m1 -9v9m1 -11v13m1 -9v11m1 -16v11m1 -6v8m1 -9v9m1 -8v5m1 -4v4m3 -4v3m1 -2v3m1 -4v5m1 -5v4m1 -3v3m1 -3v4m1 -4v3m1 -4v3m1 -3v3m1 -3v4m2 -3v3m1 -4v4m1 -3v3m1 -4v3m1 -3v3m1 -3v5m1 -8v7m1 -9v14m1 -13v13m1 -14v11m1 -12v14m1 -13v11m1 -9v9m1 -7v6m1 -5v3m1 -2v3m2 -4v5m1 -4v4m1 -5v3m2 -4v4m1 -3v5m2 -4v3m1 -3v3m1 -4v3m1 -4v4m1 -3v3m2 -2v3m1 -4v5m1 -5v3m1 -3v4m1 -4v3m1 -2v3m3 -5v4m2 -3v3m1 -4v4m1 -3v4m1 -4v4m1 -4v5m1 -4v4m1 -4v3m1 -6v9m1 -8v8m1 -9v8m1 -9v12m1 -10v9m1 -13v11m1 -9v7m1 -8v13m1 -10v8m1 -9v9m1 -10v9m1 -8v8m1 -7v7m1 -7v5m1 -3v3m1 -4v5m2 -5v3m1 -2v3m1 -3v3m1 -4v4m1 -4v4m2 -4v3m1 -3v3m1 -4v6m1 -5v4m1 -5v5m1 -4v5m1 -9v12m1 -12v12m1 -14v12m1 -12v13m1 -12v14m1 -10v8m1 -10v7m1 -4v4m1 -4v4m2 -3v3m1 -4v4m2 -5v4m1 -2v4m1 -5v4m1 -4v3m3 -2v3m1 -4v3m1 -2v3m2 -4v3m1 -2v4m1 -6v4m1 -3v4m2 -3v3m1 -4v3m2 -4v5m1 -3v4m3 -5v3m2 -3v3m1 -3v3m1 -4v4m2 -4v6m1 -4v4m1 -6v5m1 -5v5m1 -5v5m1 -7v8m1 -5v6m1 -8v10m1 -10v9m1 -9v9m1 -9v9m1 -7v6m1 -6v4m1 -3v3m2 -3v3m1 -4v3m1 -2v4m1 -4v4m1 -5v3m1 -3v4m1 -5v4m1 -3v4m2 -3v4m1 -5v4m2 -4v3m2 -3v4m1 -4v4m2 -4v4m1 -3v3m3 -3v3m1 -4v5m1 -4v3m1 -3v4m1 -4v3m1 -3v3m1 -3v3m1 -4v5m1 -7v8m1 -8v9m1 -10v10m1 -8v7m1 -7v5m2 -3v4m1 -4v3m1 -3v3m1 -4v4m1 -3v3m1 -3v3m1 -3v3m1 -4v3m2 -3v3m1 -4v4m1 -2v3m3 -4v4m1 -4v4m1 -4v3m1 -2v4m1 -4v3m1 -3v4m2 -5v3m1 -3v3m1 -3v3m1 -5v6m1 -7v10m1 -9v11m1 -13v16m1 -15v12m1 -11v8m1 -9v8m1 -7v6m1 -5v6m1 -6v7m1 -6v4m1 -4v4m1 -3v3m3 -4v4m1 -4v3m2 -3v3m3 -3v3m1 -3v3m1 -3v4m1 -4v4m2 -4v4m1 -3v3m2 -4v5m1 -5v3m1 -4v4m1 -3v4m2 -4v4m1 -3v3m2 -3v3m1 -4v3m2 -3v3m1 -2v3m1 -4v3m1 -2v3m1 -5v4m1 -3v3m1 -3v4m1 -5v4m1 -3v5m1 -4v3m1 -3v3m1 -3v3m3 -4v5m1 -4v3m2 -4v4m1 -3v3m1 -3v3m1 -4v4m1 -3v3m1 -4v3m1 -4v4m1 -3v4m1 -4v4m1 -3v4m1 -5v4m1 -4v4m1 -5v5m1 -4v4m1 -4v4m1 -4v4m1 -4v4m1 -4v4m1 -4v5m2 -5v5m1 -7v7m1 -7v8m1 -7v8m1 -10v8m1 -10v14m1 -14v13m1 -13v12m1 -12v13m1 -10v10m1 -10v7m1 -7v8m1 -7v6m1 -6v5m1 -3v3m1 -3v3m1 -4v3m1 -3v3m1 -2v3m2 -4v3m1 -3v4m1 -4v3m1 -4v6m1 -5v3m1 -3v4m1 -5v4m1 -4v4m1 -3v3m1 -3v4m1 -4v4m1 -4v5m1 -8v10m1 -13v14m1 -14v14m1 -11v8m1 -8v9m1 -6v3m1 -2v3m2 -4v4m1 -4v4m1 -3v3m1 -4v4m1 -4v4m1 -3v4m2 -5v3m1 -2v3m1 -5v5m1 -4v3m1 -3v3m3 -3v5m2 -5v3m3 -3v4m1 -5v6m1 -10v12m1 -11v10m1 -8v7m1 -4v3m1 -4v3m2 -4v5m1 -4v4m1 -3v3m3 -4v4m1 -4v3m1 -3v3m2 -3v4m1 -4v4m1 -4v4m1 -3v3m1 -5v4m2 -3v3m1 -2v3m1 -5v4m1 -3v3m1 -3v3m3 -4v6m1 -5v3m1 -4v5m1 -5v5m1 -4v3m1 -3v3m1 -4v4m2 -2v3m1 -5v4m2 -2v3m1 -4v3m1 -2v4m1 -5v3m2 -3v3m2 -3v3m1 -3v4m2 -4v3m1 -3v4m1 -3v3m3 -5v4m2 -3v3m2 -4v4m1 -3v4m1 -13v21m1 -20v19m1 -16v15m1 -15v11m1 -25v31m1 -18v14m1 -11v11m1 -11v10m1 -11v12m1 -10v8m1 -6v5m1 -7v7m1 -6v7m1 -8v7m1 -7v7m1 -5v5m1 -6v6m1 -6v6m1 -6v5m1 -7v10m1 -10v10m1 -9v10m1 -9v8m1 -7v7m1 -8v8m1 -6v5m1 -7v5m1 -5v5m1 -5v6m1 -4v3m1 -4v3m1 -3v3m1 -3v5m1 -5v4m1 -4v3m1 -2v3m1 -4v3m1 -3v4m1 -4v4m1 -5v4m1 -3v5m1 -5v4m1 -4v4m1 -4v3m1 -2v3m4 -3v4m1 -5v4m1 -3v4m1 -4v3m1 -3v4m1 -5v3m1 -3v4m1 -4v3m1 -2v3m1 -5v4m1 -3v3m1 -3v5m1 -5v4m1 -4v5m1 -6v5m2 -4v4m1 -4v4m1 -4v4m1 -4v5m1 -4v3m1 -4v3m1 -3v4m1 -5v4m2 -2v3m1 -3v3m1 -4v3m1 -2v3m1 -4v4m1 -5v5m1 -4v4m1 -3v3m2 -4v4m2 -4v4m1 -4v4m2 -3v3m1 -4v4m1 -4v4m1 -4v5m1 -6v6m1 -10v10m1 -9v10m1 -12v11m1 -11v13m1 -14v15m1 -14v16m1 -13v10m1 -13v13m1 -13v11m1 -8v9m1 -7v6m1 -7v7m1 -5v4m1 -4v3m1 -3v5m1 -5v4m1 -3v3m1 -3v3m1 -4v4m3 -4v3m1 -2v3m1 -4v3m1 -2v3m1 -4v3m2 -2v3m2 -3v3m3 -4v3m1 -3v3m1 -3v3m1 -3v4m1 -3v4m1 -4v3m1 -3v3m1 -5v5m2 -3v3m1 -4v3m1 -2v3m1 -4v3m1 -3v3m1 -3v4m1 -4v4m1 -4v4m1 -5v5m1 -4v3m1 -4v5m1 -3v3m1 -3v3m1 -4v5m1 -4v3m1 -4v3m1 -4v5m1 -4v3m1 -3v4m1 -4v5m1 -4v3m3 -4v3m1 -2v3m1 -3v3m1 -4v3m1 -3v3m1 -3v5m1 -6v4m1 -4v6m1 -7v7m1 -8v10m1 -9v11m1 -16v17m1 -15v15m1 -15v14m1 -11v10m1 -8v5m1 -5v3m1 -3v3m1 -2v3m1 -4v3m1 -3v3m1 -3v4m1 -4v4m1 -4v4m1 -4v3m1 -3v3m3 -2v4m2 -5v4m3 -4v3m1 -3v4m1 -4v4m1 -4v4m1 -3v3m3 -4v4m1 -4v3m1 -3v4m1 -3v3m2 -4v4m1 -3v3m1 -3v3m1 -4v4m1 -5v5m1 -5v5m1 -5v6m1 -5v6m1 -8v8m1 -8v7m1 -8v10m1 -9v10m1 -13v14m1 -12v12m1 -13v10m1 -11v13m1 -11v12m1 -10v10m1 -15v16m1 -16v14m1 -11v9m1 -8v7m1 -8v12m1 -15v13m1 -10v9m1 -8v9m1 -9v9m1 -9v8m1 -5v4m1 -4v5m1 -6v5m1 -5v5m1 -5v4m2 -4v4m1 -3v3m1 -3v3m1 -3v3m1 -3v3m1 -4v3m1 -2v3m1 -4v4m1 -3v3m3 -4v4m1 -3v3m1 -4v4m1 -3v3m1 -5v6m1 -4v3m1 -4v4m2 -4v4m1 -5v5m1 -4v3m1 -3v4m1 -5v5m1 -5v4m1 -3v3m1 -3v3m1 -3v3m1 -3v3m1 -2v3m1 -3v3m1 -4v3m1 -3v4m1 -4v3m1 -3v5m1 -6v7m1 -6v4m1 -5v8m1 -9v7m1 -8v10m1 -10v9m1 -9v10m1 -9v10m1 -10v10m1 -11v10m1 -9v7m1 -6v7m1 -6v5m1 -6v6m1 -6v6m1 -5v4m1 -3v3m1 -5v5m2 -4v4m1 -4v4m1 -4v4m3 -4v4m1 -4v3m2 -3v4m1 -3v4m2 -5v3m1 -2v3m1 -3v3m1 -4v3m2 -2v3m1 -4v3m1 -3v3m1 -3v4m1 -4v4m2 -3v3m2 -3v3m1 -4v4m1 -5v5m1 -4v3m1 -2v3m2 -3v4m1 -5v3m1 -3v4m1 -3v4m2 -4v4m1 -5v3m3 -2v3m1 -4v3m2 -2v4m1 -4v4m1 -5v4m1 -4v3m1 -4v5m1 -3v3m1 -4v3m2 -3v4m1 -7v8m1 -11v13m1 -15v18m1 -20v24m1 -46v44m1 -18v13m1 -10v7m1 -7v8m1 -7v7m1 -5v6m1 -7v6m1 -5v4m1 -4v4m1 -4v4m1 -4v4m1 -3v3m1 -4v3m1 -3v5m1 -4v3m2 -3v3m1 -3v3m3 -4v4m1 -4v3m1 -2v3m1 -4v3m2 -2v4m1 -4v3m1 -5v4m1 -3v4m3 -5v4m1 -2v3m1 -4v3m1 -3v4m1 -3v3m1 -3v3m1 -4v3m1 -3v4m1 -5v5m1 -4v4m2 -4v3m2 -2v3m1 -5v5m1 -4v3m1 -4v5m1 -3v3m1 -4v4m1 -4v4m1 -4v5m1 -5v4m1 -5v6m1 -7v9m1 -10v7m1 -6v6m1 -6v9m1 -10v10m1 -10v10m1 -10v11m1 -11v9m1 -7v10m1 -11v11m1 -10v11m1 -15v11m1 -10v12m1 -12v9m1 -9v10m1 -7v8m1 -9v10m1 -11v10m1 -10v10m1 -10v9m1 -8v7m1 -6v7m1 -7v7m1 -6v5m1 -6v6m1 -6v4m1 -3v3m1 -3v4m1 -4v3m1 -3v3"/>
<rect x="71" y="345" width="945" height="2" fill="#0000ff"/>
<path stroke="#0000ff" d="M71.5 343v5m1 -5v6m1 -6v4m1 -2v5m2 -6v3m1 -3v5m1 -4v4m1 -6v4m1 -5v7m1 -7v7m1 -5v4m3 -3v3m1 -4v4m2 -5v5m1 -3v3m1 -4v3m1 -3v4m1 -5v5m1 -3v3m1 -4v5m1 -5v3m1 -3v4m3 -3v3m1 -3v3m1 -6v7m1 -5v3m2 -4v4m1 -3v4m1 -5v4m1 -3v4m1 -5v4m1 -2v3m1 -3v3m1 -4v4m1 -3v5m1 -6v4m1 -6v7m1 -7v8m1 -7v9m1 -10v9m1 -13v14m1 -12v13m1 -10v7m1 -8v8m1 -8v7m1 -5v4m1 -5v5m1 -4v3m1 -3v3m1 -4v5m1 -3v3m2 -4v5m1 -4v4m1 -5v4m1 -3v3m1 -4v4m1 -3v4m1 -5v6m1 -5v3m1 -4v3m1 -4v5m1 -5v6m1 -5v3m1 -4v4m1 -3v4m1 -5v4m1 -4v6m2 -6v5m2 -5v6m2 -5v3m1 -3v3m1 -3v4m1 -3v4m2 -5v4m1 -3v4m1 -6v6m1 -6v5m3 -4v4m1 -5v4m2 -3v4m1 -5v5m1 -5v6m1 -5v4m1 -4v3m1 -4v6m1 -4v4m1 -6v5m1 -3v5m2 -6v3m1 -2v3m1 -4v4m2 -3v4m2 -5v5m1 -4v3m2 -4v4m1 -5v4m1 -2v3m1 -3v3m1 -3v4m1 -5v4m1 -5v4m2 -2v3m1 -6v8m1 -9v8m1 -9v11m1 -8v5m1 -3v3m1 -4v3m1 -4v6m1 -5v3m1 -2v3m1 -3v3m2 -5v5m1 -4v4m1 -4v3m1 -4v6m1 -5v3m1 -3v5m1 -4v4m1 -5v5m1 -6v5m1 -4v4m1 -4v4m1 -5v5m1 -4v6m1 -6v5m1 -5v3m1 -3v4m1 -4v3m2 -4v5m1 -4v4m1 -4v3m1 -3v4m1 -3v3m1 -5v5m1 -4v3m1 -3v3m1 -3v4m1 -5v4m2 -2v4m1 -4v4m2 -5v3m1 -4v4m1 -3v3m1 -4v6m1 -4v3m1 -4v5m1 -4v3m1 -4v4m1 -4v5m1 -5v6m1 -6v4m1 -4v4m1 -4v4m1 -4v5m1 -6v5m1 -5v5m1 -5v6m1 -5v5m1 -5v5m1 -5v5m1 -5v4m1 -4v4m1 -4v5m1 -6v6m1 -6v5m1 -5v5m1 -5v4m1 -3v5m1 -6v6m1 -5v4m1 -5v5m1 -4v5m1 -6v4m1 -3v4m1 -4v5m1 -6v5m1 -4v5m1 -5v4m1 -5v5m1 -3v3m1 -3v4m1 -5v5m1 -4v5m1 -7v5m1 -4v3m1 -3v4m1 -5v5m1 -5v6m1 -4v3m1 -4v3m1 -3v4m1 -5v6m1 -5v3m1 -2v3m1 -3v5m1 -6v5m2 -5v5m1 -4v4m1 -5v5m1 -7v7m1 -8v9m1 -10v11m1 -12v13m1 -25v27m1 -14v13m1 -13v10m1 -9v10m1 -9v10m1 -9v7m1 -9v9m1 -7v7m1 -7v6m1 -5v5m1 -4v3m1 -5v4m1 -2v5m1 -6v5m1 -5v3m1 -3v3m1 -4v7m1 -6v4m1 -5v5m1 -3v4m1 -7v6m1 -5v5m1 -5v4m1 -4v6m1 -5v4m1 -3v3m1 -4v5m1 -6v5m1 -4v3m2 -3v6m1 -6v4m1 -4v5m1 -6v5m1 -5v5m4 -5v4m1 -5v6m1 -4v5m2 -4v3m1 -5v4m1 -2v3m1 -5v6m1 -5v5m1 -4v4m1 -4v4m1 -6v4m1 -4v6m1 -5v4m1 -5v5m1 -6v7m1 -4v3m1 -4v4m1 -3v3m1 -4v3m1 -3v5m1 -6v4m2 -4v6m1 -5v4m2 -6v5m2 -4v6m1 -6v5m1 -4v4m1 -4v3m1 -4v4m1 -2v3m1 -4v3m1 -4v6m1 -4v4m1 -6v6m1 -6v4m1 -5v8m1 -6v4m1 -5v5m1 -4v5m1 -5v4m1 -3v4m1 -6v4m1 -4v5m1 -5v5m1 -4v3m1 -3v4m1 -3v3m1 -4v5m1 -4v5m1 -7v5m1 -4v3m1 -3v4m1 -4v4m1 -4v3m1 -2v4m1 -5v4m1 -4v3m1 -2v3m1 -4v4m1 -5v5m2 -4v3m1 -3v4m1 -4v5m1 -4v5m1 -6v5m1 -4v4m1 -5v6m1 -5v4m1 -5v5m2 -6v4m1 -4v4m2 -2v4m1 -4v3m1 -4v3m1 -4v7m1 -6v3m1 -2v4m1 -4v3m2 -3v4m1 -6v5m1 -5v5m1 -4v5m1 -6v6m1 -6v6m1 -6v6m1 -6v6m1 -6v7m1 -8v8m1 -7v6m1 -7v8m1 -9v9m1 -7v6m1 -7v6m1 -5v6m1 -6v6m1 -5v5m1 -5v5m1 -5v4m1 -4v4m1 -4v4m1 -5v6m1 -5v5m1 -5v3m1 -3v3m2 -3v3m1 -3v3m1 -2v3m1 -3v4m1 -5v3m1 -3v3m1 -3v3m1 -3v5m1 -5v3m1 -5v5m2 -2v4m2 -5v4m1 -4v3m1 -2v3m1 -3v3m1 -5v5m1 -4v6m1 -6v5m2 -6v6m1 -4v4m1 -6v5m1 -4v4m1 -5v5m1 -3v4m1 -5v4m1 -4v3m1 -4v6m1 -5v5m1 -4v3m1 -5v5m1 -6v5m1 -3v3m1 -4v4m2 -2v4m1 -4v3m1 -3v3m1 -3v4m1 -5v3m1 -3v3m1 -3v4m1 -3v3m2 -4v4m2 -3v3m1 -5v4m1 -4v4m1 -5v6m1 -4v5m1 -6v6m1 -5v5m1 -6v4m1 -3v4m1 -3v4m1 -6v6m2 -6v6m1 -5v3m1 -4v5m1 -6v8m1 -8v7m1 -8v10m1 -12v11m1 -10v10m1 -9v12m1 -11v9m1 -10v9m1 -8v7m1 -5v5m1 -6v6m1 -6v6m1 -4v4m1 -4v4m1 -6v4m3 -4v4m2 -3v3m1 -2v4m1 -4v5m1 -7v5m1 -4v3m1 -4v5m1 -3v4m1 -5v6m1 -19v28m1 -17v11m1 -9v6m1 -7v4m2 -3v4m1 -3v3m1 -3v3m1 -3v4m2 -4v4m1 -5v3m1 -2v3m1 -5v6m1 -5v6m1 -8v5m1 -4v6m1 -4v4m1 -6v5m1 -4v3m1 -4v6m1 -5v5m3 -6v6m1 -6v7m1 -8v6m1 -8v9m1 -9v12m1 -13v12m1 -14v16m1 -15v15m1 -14v17m1 -20v20m1 -19v16m1 -15v15m1 -12v12m1 -13v12m1 -43v73m1 -41v8m1 -6v6m1 -5v4m1 -4v3m1 -4v5m1 -3v4m1 -4v4m1 -6v4m1 -3v5m1 -5v3m1 -2v3m1 -5v5m1 -3v3m1 -4v5m1 -6v5m1 -5v6m1 -5v5m1 -6v5m1 -5v5m1 -3v4m1 -6v6m1 -7v6m1 -6v8m1 -6v5m1 -6v7m1 -9v10m1 -10v10m1 -10v9m1 -9v8m1 -7v8m1 -7v7m1 -6v5m1 -6v6m1 -6v5m1 -5v5m1 -4v4m1 -5v7m1 -6v3m2 -3v5m1 -4v4m1 -6v6m2 -6v5m1 -3v4m1 -4v4m1 -5v5m1 -5v3m1 -2v3m1 -3v4m1 -4v3m1 -5v5m1 -4v4m1 -6v6m1 -4v4m1 -3v3m2 -5v5m1 -4v3m1 -4v6m1 -4v3m4 -3v4m1 -5v3m1 -4v5m1 -5v4m1 -3v5m1 -7v7m1 -9v14m1 -13v14m1 -16v18m1 -23v21m1 -14v13m1 -16v13m1 -58v103m1 -52v7m1 -9v8m1 -8v8m1 -7v6m1 -7v7m1 -5v4m1 -5v5m1 -5v5m1 -4v3m1 -4v4m1 -4v4m1 -4v5m1 -5v6m2 -5v3m1 -4v5m1 -4v3m1 -3v6m1 -6v3m1 -3v3m1 -3v5m2 -5v4m1 -4v3m1 -2v3m2 -5v4m1 -4v6m2 -6v4m1 -4v6m1 -5v3m1 -2v3m1 -3v4m3 -7v6m1 -5v5m1 -6v6m1 -5v6m1 -6v4m1 -3v6m1 -5v5m1 -6v5m1 -5v3m3 -5v5m1 -3v5m2 -6v6m1 -6v5m2 -4v5m1 -5v4m1 -3v3m1 -5v5m1 -5v5m1 -6v7m1 -4v3m1 -3v5m1 -6v4m1 -4v6m1 -7v4m1 -2v4m2 -6v5m1 -4v3m1 -5v8m1 -10v10m1 -13v15m1 -14v14m1 -42v58m1 -26v9m1 -10v9m1 -6v5m1 -5v5m1 -5v4m1 -4v4m2 -6v6m1 -5v5m1 -4v4m3 -3v4m1 -5v3m1 -2v3m1 -3v3m1 -5v5m1 -5v5m1 -5v6m2 -6v4m1 -5v9m1 -10v11m1 -10v12m1 -16v18m1 -21v23m1 -22v22m1 -80v182m1 -122v15m1 -12v10m1 -12v12m1 -11v10m1 -8v8m1 -6v6m1 -7v7m1 -7v6m1 -6v6m1 -6v5m1 -4v3m1 -3v4m1 -5v5m1 -5v5m1 -4v4m1 -4v5m1 -4v4m1 -6v5m1 -3v3m1 -5v6m1 -5v3m1 -3v5m2 -5v4m1 -3v4m1 -5v4m2 -4v4m1 -5v5m1 -6v8m1 -9v10m1 -8v9m1 -10v10m1 -11v11m1 -14v14m1 -14v16m1 -14v12m1 -20v39m1 -29v9m1 -8v6m1 -5v5m1 -6v5m1 -6v7m1 -5v3m1 -3v4m1 -4v4m1 -3v3m1 -5v5m1 -5v7m1 -7v7m1 -9v8m1 -8v10m1 -9v9m1 -10v9m1 -7v9m1 -9v8m1 -9v6m1 -6v7m1 -7v7m1 -5v5m1 -5v5m1 -5v6m1 -7v5m1 -5v5m1 -5v5m1 -5v6m1 -6v5m2 -4v4m1 -5v7m1 -9v10m1 -14v19m1 -19v19m1 -17v15m1 -16v25m1 -20v7m1 -7v7m1 -7v6m1 -5v5m2 -5v3m1 -2v5m1 -6v3m2 -4v7m2 -5v3m1 -4v4m1 -4v5m1 -7v6m1 -6v6m1 -5v6m1 -6v4m1 -5v6m2 -5v5m1 -5v4m1 -4v5m2 -4v3m2 -2v3m1 -4v5m1 -5v4m1 -4v4m1 -4v3m1 -3v4m1 -5v6m1 -8v9m1 -9v9m1 -8v7m1 -9v11m1 -10v12m1 -14v14m1 -12v10m1 -10v11m1 -9v8m1 -10v7m1 -5v6m1 -4v4m1 -4v3m2 -5v4m1 -2v3m2 -5v6m1 -4v3m1 -3v3m2 -3v3m1 -3v3m3 -4v5m1 -5v4m2 -4v3m1 -2v3m1 -6v5m1 -2v3m2 -4v4m1 -5v5m2 -5v5m1 -6v6m1 -4v5m1 -5v4m1 -5v6m1 -6v7m1 -8v7m1 -6v9m1 -12v10m1 -10v14m1 -13v8m1 -7v9m1 -9v8m1 -22v41m1 -25v4m1 -4v3m1 -3v4m1 -6v5m1 -4v4m2 -3v4m3 -4v3m1 -3v4m1 -3v3m1 -6v5m1 -3v3m1 -2v3m1 -5v6m1 -7v6m1 -4v3m1 -2v3m1 -5v6m1 -5v5m1 -6v5m1 -5v6m1 -7v8m1 -7v8m1 -11v11m1 -11v13m1 -13v12m1 -12v14m1 -16v15m1 -15v15m1 -17v19m1 -19v17m1 -17v20m1 -20v21m1 -16v14m1 -19v21m1 -19v14m1 -13v15m1 -32v54m1 -38v16m1 -16v16m1 -12v11m1 -12v8m1 -23v45m1 -31v11m1 -10v9m1 -8v7m1 -7v7m1 -6v6m1 -5v4m1 -4v3m1 -5v5m1 -3v3m1 -3v3m1 -3v4m1 -4v4m1 -4v3m1 -4v4m1 -2v4m2 -5v5m1 -5v4m3 -3v3m1 -5v4m1 -4v5m1 -5v4m1 -3v3m2 -4v4m1 -3v4m1 -5v5m1 -4v4m1 -4v3m1 -4v5m1 -4v5m1 -5v4m1 -6v8m1 -9v9m1 -9v10m1 -10v11m1 -30v46m1 -30v18m1 -17v15m1 -17v16m1 -15v15m1 -14v10m1 -8v7m1 -6v7m1 -6v6m1 -6v6m1 -5v5m1 -5v4m1 -5v6m3 -4v3m1 -5v5"/>
<rect x="71" y="359" width="945" height="2" fill="#ff0033"/>
<path stroke="#ff0033" d="M71.5 358v4m2 -4v4m3 -4v4m4 -3v3m1 -3v3m1 -3v3m4 -3v3m1 -3v3m1 -4v3m2 -3v4m1 -3v3m1 -4v3m1 -4v6m1 -7v8m1 -8v9m1 -9v6m1 -3v3m2 -4v3m1 -3v3m1 -2v3m1 -4v3m1 -3v3m2 -2v3m1 -4v3m1 -2v3m1 -4v4m1 -4v4m1 -5v7m1 -10v8m1 -7v11m1 -10v10m1 -21v35m1 -32v20m1 -15v16m1 -18v18m1 -16v14m1 -11v9m1 -8v6m1 -5v3m1 -3v3m1 -2v3m2 -4v4m1 -4v3m2 -2v3m1 -3v3m1 -4v4m1 -3v3m1 -4v3m1 -2v3m1 -4v4m3 -5v4m1 -2v3m1 -4v3m1 -2v3m2 -3v3m1 -4v3m2 -3v4m1 -3v3m1 -3v4m1 -5v4m3 -4v3m2 -2v3m2 -3v4m1 -7v8m1 -9v11m1 -14v14m1 -15v16m1 -14v16m1 -29v47m1 -36v18m1 -14v13m1 -16v16m1 -11v10m1 -12v9m1 -7v7m1 -6v4m3 -3v3m3 -4v4m1 -4v4m3 -4v4m2 -3v3m2 -3v3m1 -3v3m2 -3v3m2 -3v3m3 -4v4m1 -4v3m2 -3v3m1 -2v3m1 -3v3m1 -4v3m1 -3v3m1 -3v4m1 -4v3m1 -2v3m1 -3v3m1 -4v3m1 -2v3m1 -3v3m2 -4v3m2 -3v4m1 -3v3m1 -3v3m1 -4v3m1 -3v3m2 -3v3m1 -2v3m1 -4v3m1 -2v3m1 -4v3m1 -4v5m3 -4v3m1 -2v3m1 -3v3m1 -4v4m1 -3v3m1 -3v3m1 -4v4m1 -3v3m1 -4v3m1 -3v3m1 -2v3m4 -3v3m1 -4v3m1 -3v4m4 -4v3m2 -2v3m1 -4v4m1 -5v6m1 -7v8m1 -9v10m1 -11v8m1 -6v11m1 -13v11m1 -11v11m1 -9v6m1 -7v8m1 -5v5m1 -5v4m2 -3v3m1 -4v4m1 -4v4m1 -4v4m1 -4v3m1 -3v3m1 -3v4m1 -4v3m1 -3v4m1 -4v3m1 -3v4m1 -4v3m1 -3v4m1 -3v3m1 -3v3m1 -4v3m2 -3v3m1 -3v4m2 -3v3m2 -4v3m1 -3v3m1 -3v4m1 -3v3m1 -4v4m2 -3v3m1 -3v3m2 -4v4m3 -4v4m3 -4v4m1 -3v3m1 -4v4m2 -3v3m1 -4v4m2 -4v3m1 -3v4m1 -3v3m1 -3v3m1 -3v3m1 -4v3m2 -3v3m1 -3v4m1 -4v4m1 -4v3m1 -4v5m1 -6v6m1 -14v15m1 -7v7m1 -8v9m1 -6v4m1 -7v9m1 -7v8m1 -11v9m1 -7v7m1 -8v11m1 -9v7m1 -8v7m1 -7v8m1 -6v5m1 -6v5m1 -3v3m1 -4v4m1 -4v4m1 -3v3m1 -4v3m2 -2v4m3 -5v3m1 -2v3m1 -3v3m2 -3v3m3 -3v3m1 -4v3m1 -3v4m1 -3v3m1 -3v3m1 -4v4m1 -4v3m1 -2v3m1 -4v4m1 -4v3m1 -3v3m3 -3v3m2 -2v3m1 -6v6m1 -5v7m1 -9v18m1 -16v7m1 -7v7m1 -6v5m1 -4v3m1 -4v4m3 -3v3m1 -4v4m1 -4v3m2 -4v4m1 -3v3m1 -3v3m1 -3v3m1 -3v3m1 -2v3m1 -3v3m1 -4v3m3 -3v3m1 -2v3m1 -4v4m1 -4v3m2 -2v3m1 -3v3m1 -4v4m1 -4v4m1 -3v3m1 -3v3m3 -4v4m1 -4v3m1 -4v5m1 -4v4m1 -4v4m2 -3v3m2 -4v4m2 -3v3m2 -3v3m1 -3v3m1 -4v4m1 -3v3m2 -4v3m2 -3v3m1 -2v3m1 -4v3m1 -3v4m1 -3v3m2 -3v3m1 -4v4m1 -3v3m1 -4v4m1 -3v3m1 -4v3m1 -3v3m1 -3v3m1 -3v4m1 -4v4m3 -4v4m1 -3v3m1 -4v3m3 -2v3m1 -3v3m1 -3v3m3 -4v3m1 -2v3m1 -4v3m2 -3v3m1 -7v11m1 -40v87m1 -59v14m1 -12v12m1 -12v9m1 -9v9m1 -9v10m1 -7v4m1 -5v7m1 -7v7m1 -6v4m1 -4v5m1 -5v4m1 -4v4m1 -4v4m3 -4v4m1 -3v3m1 -3v3m2 -4v4m1 -4v3m2 -2v3m3 -4v4m1 -4v4m1 -4v3m1 -3v3m2 -3v3m1 -3v3m1 -2v3m5 -3v3m2 -3v3m2 -4v4m1 -4v4m1 -3v3m1 -4v4m2 -4v3m3 -3v3m2 -2v3m1 -4v3m1 -3v4m3 -4v3m2 -2v3m2 -3v3m1 -4v4m2 -4v3m1 -4v4m1 -3v4m2 -4v4m1 -7v11m1 -33v78m1 -56v11m1 -9v7m1 -8v7m1 -5v5m1 -6v6m1 -5v4m1 -5v5m1 -3v3m3 -4v4m1 -3v3m1 -4v3m2 -3v3m1 -3v4m1 -3v3m2 -3v3m1 -4v4m3 -4v3m1 -3v3m2 -3v4m1 -4v3m1 -3v4m2 -3v3m3 -4v4m1 -4v4m1 -4v3m1 -3v3m1 -2v3m2 -4v4m1 -4v3m2 -3v3m1 -3v3m1 -2v3m2 -3v3m1 -3v3m3 -4v4m1 -4v3m1 -3v3m1 -2v3m1 -3v3m2 -4v4m2 -4v4m1 -3v3m1 -4v3m3 -2v3m1 -4v4m2 -3v3m1 -3v4m1 -5v3m1 -3v4m2 -4v4m5 -4v4m3 -4v3m1 -3v3m1 -3v3m2 -3v4m1 -4v5m1 -4v3m2 -5v5m3 -4v3m1 -2v3m1 -5v6m1 -5v5m1 -7v6m1 -5v6m1 -6v6m1 -5v4m1 -3v3m1 -3v3m1 -4v4m1 -3v3m1 -3v3m1 -3v3m1 -4v3m1 -3v3m1 -2v3m3 -3v3m1 -4v3m1 -3v3m2 -3v3m2 -2v3m2 -4v4m1 -4v4m1 -4v4m1 -5v6m1 -5v4m1 -5v6m1 -7v7m1 -5v5m1 -4v4m1 -5v4m1 -4v3m3 -2v3m1 -4v3m1 -3v3m1 -2v3m1 -3v3m3 -3v3m2 -3v3m2 -4v4m1 -4v3m1 -2v3m3 -4v4m3 -4v3m1 -3v3m2 -2v3m1 -3v3m3 -3v3m5 -3v3m2 -4v3m1 -3v4m1 -4v3m1 -3v4m1 -4v3m1 -3v4m1 -3v3m2 -4v4m1 -3v4m1 -4v4m1 -6v4m1 -3v5m1 -4v3m1 -3v3m3 -3v3m1 -4v4m1 -5v4m1 -2v3m1 -3v3m1 -4v3m1 -3v4m2 -3v3m1 -4v3m1 -3v4m3 -3v3m1 -4v3m1 -2v3m1 -4v3m1 -3v3m2 -4v5m1 -3v3m1 -4v3m3 -4v5m1 -3v3m2 -4v3m2 -2v3m1 -4v3m3 -3v3m4 -2v3m1 -4v4m1 -3v3m1 -3v3m5 -3v3m2 -4v3m3 -3v3m1 -3v3m2 -3v3m2 -3v4m1 -4v3m1 -2v3m1 -3v3m3 -4v3m1 -3v4m1 -5v4m1 -3v3m1 -3v4m1 -4v3m1 -2v3m1 -4v4m3 -4v3m2 -2v3m1 -3v3m1 -4v4m1 -4v4m1 -4v3m1 -3v4m1 -4v4m4 -5v6m1 -7v8m1 -7v5m1 -7v10m1 -13v12m1 -13v16m1 -15v13m1 -11v11m1 -12v13m1 -11v10m1 -9v8m1 -6v4m3 -4v3m2 -3v3m1 -2v3m1 -4v3m1 -2v3m3 -4v4m1 -3v3m1 -4v4m1 -4v3m2 -2v3m1 -3v3m1 -3v3m2 -3v3m1 -4v4m1 -4v4m3 -4v4m1 -3v3m1 -4v3m1 -3v4m1 -4v3m1 -2v3m3 -4v4m2 -3v3m1 -3v3m2 -3v3m2 -4v3m1 -3v3m1 -3v4m1 -4v3m1 -3v3m1 -3v3m1 -2v3m1 -4v4m2 -4v3m1 -3v3m1 -3v4m3 -4v3m1 -3v3m1 -2v3m1 -3v3m2 -4v3m1 -3v4m1 -3v3m1 -3v3m1 -3v3m1 -5v6m1 -6v7m1 -7v5m1 -7v11m1 -10v8m1 -12v12m1 -12v14m1 -12v12m1 -9v9m1 -9v5m1 -6v8m1 -6v4m1 -4v4m1 -4v3m2 -3v3m1 -3v4m1 -3v3m1 -3v3m1 -5v4m1 -3v4m2 -4v3m1 -2v3m1 -4v4m2 -4v3m1 -2v3m1 -4v4m1 -4v4m2 -3v3m2 -4v4m1 -4v4m1 -4v3m1 -3v3m1 -3v3m2 -3v3m1 -3v3m2 -2v3m3 -4v3m2 -3v3m1 -2v3m1 -4v4m2 -4v3m1 -2v3m1 -3v3m4 -4v3m1 -3v4m1 -4v3m1 -3v3m2 -2v3m1 -3v3m2 -4v4m1 -4v3m1 -3v3m1 -3v4m3 -4v3m1 -3v3m2 -3v3m1 -3v3m1 -3v3m3 -3v4m1 -4v3m1 -2v3m2 -3v3m2 -3v3m2 -4v3m3 -3v3m2 -3v4m1 -4v3m2 -3v3m1 -3v3m1 -2v3m1 -4v4m1 -4v3m1 -3v3m2 -2v3m2 -4v4m1 -3v3m1 -4v3m2 -3v4m1 -3v3m1 -3v3m1 -4v4m1 -3v3m1 -4v4m3 -3v3m2 -3v3m1 -4v4m1 -3v3m1 -4v3m1 -2v3m1 -4v3m3 -3v4m2 -4v3m1 -3v3m2 -2v3m2 -4v3m1 -4v5m2 -5v4m1 -2v4m1 -5v5m1 -7v8m1 -7v6m1 -6v5m1 -4v4m1 -4v4m1 -3v3m1 -4v3m2 -2v3m2 -4v4m1 -5v5m1 -3v3m1 -3v3m2 -3v3m1 -4v3"/>
<rect x="71" y="373" width="945" height="2" fill="#0000ff"/>
<path stroke="#0000ff" d="M71.5 370v8m1 -8v7m1 -5v5m1 -5v4m2 -3v3m1 -4v4m1 -4v4m2 -4v3m1 -3v4m1 -4v4m1 -4v3m1 -3v3m1 -2v3m1 -4v3m1 -2v3m1 -5v4m1 -4v6m1 -5v3m1 -2v3m2 -4v4m1 -3v3m1 -4v4m1 -5v4m1 -4v5m2 -4v3m1 -4v4m1 -2v4m1 -6v5m1 -3v3m2 -4v3m1 -2v3m1 -3v3m1 -3v3m1 -4v4m1 -4v4m1 -4v3m1 -3v3m1 -3v4m1 -3v3m1 -3v3m2 -3v3m1 -5v5m1 -4v4m1 -3v3m1 -4v3m1 -3v4m1 -4v3m1 -2v3m1 -4v4m1 -4v5m1 -5v4m3 -3v3m1 -3v3m2 -3v3m1 -4v4m1 -3v4m1 -4v3m2 -4v4m1 -4v3m1 -2v3m2 -4v4m1 -4v3m1 -4v7m1 -10v13m1 -34v64m1 -41v10m1 -12v10m1 -10v12m1 -10v8m1 -7v7m1 -6v4m1 -4v5m1 -5v4m1 -5v5m1 -4v4m1 -3v3m1 -4v5m1 -5v4m1 -3v3m1 -4v3m1 -2v4m1 -4v3m1 -3v3m1 -4v3m2 -3v4m1 -3v3m1 -4v3m3 -3v4m1 -4v4m1 -4v4m1 -5v5m3 -3v3m1 -4v4m1 -4v5m1 -5v4m1 -3v3m1 -3v3m1 -3v3m1 -3v3m1 -4v3m1 -3v4m1 -3v3m2 -3v3m1 -5v4m1 -3v3m1 -4v5m4 -4v4m1 -4v4m2 -4v3m1 -3v3m2 -3v3m1 -2v4m1 -6v6m1 -5v4m1 -4v4m1 -4v3m2 -2v4m2 -5v4m1 -4v4m1 -4v3m1 -2v4m1 -5v3m1 -3v4m1 -4v3m2 -2v3m1 -5v5m1 -3v3m1 -4v5m1 -6v6m1 -4v3m2 -5v5m1 -4v4m1 -3v3m1 -4v5m2 -5v3m1 -3v4m1 -4v5m1 -6v5m1 -4v4m1 -4v5m1 -6v5m1 -7v9m1 -9v10m1 -10v8m1 -7v10m1 -12v11m1 -11v9m1 -8v10m1 -8v5m1 -3v4m1 -7v6m1 -5v4m1 -4v6m2 -5v4m1 -4v3m1 -3v5m1 -5v3m1 -3v4m1 -4v3m2 -3v4m1 -4v4m1 -3v3m2 -4v4m1 -3v3m1 -5v4m1 -2v3m1 -5v6m1 -5v4m2 -4v5m1 -5v4m1 -3v4m1 -4v3m1 -4v3m2 -3v4m4 -4v4m2 -4v3m1 -3v4m1 -3v3m3 -3v3m2 -3v3m1 -4v3m2 -4v5m1 -3v3m1 -4v4m1 -4v4m2 -4v5m2 -10v14m1 -14v14m1 -28v40m1 -28v15m1 -16v19m1 -16v16m1 -16v15m1 -20v20m1 -28v30m1 -20v52m1 -64v80m1 -76v28m1 -24v28m1 -30v23m1 -24v44m1 -48v35m1 -33v46m1 -44v31m1 -35v32m1 -28v23m1 -17v24m1 -20v13m1 -14v16m1 -13v10m1 -9v8m1 -10v13m1 -14v14m1 -13v12m1 -13v12m1 -11v13m1 -10v8m1 -7v8m1 -9v9m1 -12v13m1 -17v21m1 -18v18m1 -21v17m1 -14v11m1 -28v43m1 -28v20m1 -16v15m1 -16v15m1 -17v19m1 -17v16m1 -18v15m1 -16v15m1 -15v16m1 -15v14m1 -10v12m1 -16v13m1 -11v10m1 -10v12m1 -9v8m1 -11v12m1 -11v9m1 -7v7m1 -8v8m1 -7v6m1 -6v6m1 -4v3m1 -4v4m1 -4v4m1 -4v3m1 -3v3m2 -3v3m1 -2v3m1 -4v4m1 -3v3m1 -3v3m1 -4v4m1 -4v4m3 -4v4m1 -3v3m1 -5v4m1 -2v4m1 -5v4m2 -3v3m1 -4v3m1 -3v3m1 -4v6m1 -5v4m2 -5v5m1 -4v5m1 -5v3m1 -3v4m1 -3v3m1 -5v5m1 -4v3m1 -3v4m1 -5v5m1 -4v4m2 -4v3m1 -3v4m1 -5v4m2 -4v5m2 -4v3m1 -3v3m1 -3v3m1 -3v3m1 -2v3m2 -3v3m1 -4v3m1 -2v4m1 -6v4m2 -3v4m1 -3v3m1 -4v3m1 -3v4m1 -4v3m1 -4v5m4 -4v4m3 -4v3m1 -3v4m3 -3v3m1 -3v3m1 -3v3m1 -3v3m1 -4v4m1 -4v4m1 -4v4m1 -3v3m1 -3v3m1 -3v3m1 -5v5m1 -4v3m1 -3v4m1 -3v3m1 -4v4m1 -4v4m2 -3v3m1 -4v4m1 -4v4m1 -4v4m1 -3v3m1 -4v3m2 -3v3m1 -3v3m1 -3v5m1 -5v3m1 -4v5m4 -4v3m1 -3v3m1 -2v4m1 -5v3m1 -2v3m1 -4v5m1 -5v4m4 -3v3m1 -4v3m1 -2v4m1 -5v3m3 -3v3m1 -2v3m1 -3v3m1 -4v4m1 -5v5m1 -4v3m1 -3v3m1 -3v4m1 -3v3m1 -4v4m1 -4v3m1 -3v3m1 -3v3m1 -3v4m1 -4v3m2 -3v3m2 -3v3m1 -2v4m1 -5v4m1 -4v5m1 -5v4m1 -5v4m1 -2v3m1 -5v5m2 -4v4m1 -5v4m1 -3v5m2 -4v3m1 -5v4m1 -3v3m1 -3v4m1 -5v5m1 -4v3m1 -2v3m2 -4v3m2 -2v4m1 -5v5m1 -5v4m1 -4v4m2 -5v5m1 -4v3m1 -3v3m1 -3v4m4 -4v4m1 -4v4m1 -5v4m1 -3v4m2 -4v4m2 -4v4m1 -3v4m1 -5v5m2 -5v4m1 -4v4m1 -4v3m1 -3v4m1 -3v3m1 -5v6m1 -5v5m1 -5v3m2 -3v3m3 -3v4m1 -5v5m1 -3v3m2 -5v5m1 -3v3m3 -4v4m2 -4v3m1 -2v3m1 -3v3m1 -3v3m1 -4v4m2 -5v5m1 -5v5m2 -4v3m1 -3v4m1 -4v4m1 -4v4m1 -4v5m2 -5v4m1 -3v3m1 -4v4m1 -4v3m1 -2v3m1 -4v5m1 -4v3m1 -4v3m1 -3v5m1 -5v4m1 -3v3m1 -5v4m2 -3v3m1 -2v4m1 -5v3m1 -3v3m2 -2v3m1 -4v3m2 -3v3m1 -3v4m2 -4v3m1 -3v3m1 -4v6m1 -4v3m1 -4v3m1 -2v4m1 -6v4m1 -2v3m1 -4v3m2 -2v3m1 -4v4m2 -4v3m1 -3v4m1 -3v4m1 -6v4m1 -2v3m1 -4v4m1 -4v4m2 -4v3m2 -3v3m1 -4v5m1 -3v3m1 -4v3m1 -2v3m2 -4v4m1 -5v4m1 -4v4m1 -3v3m2 -3v3m1 -3v5m1 -4v3m1 -5v4m1 -3v3m2 -3v5m1 -4v3m1 -4v4m2 -5v4m1 -4v5m1 -5v4m1 -3v4m1 -5v5m2 -3v3m1 -4v4m1 -4v3m1 -3v3m1 -3v4m1 -4v3m1 -2v4m1 -5v5m1 -4v3m1 -4v4m1 -5v4m1 -3v3m1 -2v3m1 -3v3m1 -5v5m1 -4v4m1 -4v3m1 -4v4m1 -2v4m1 -6v5m1 -4v4m1 -3v3m1 -4v3m1 -2v3m1 -4v3m1 -2v3m1 -4v3m1 -2v3m1 -4v4m1 -5v4m1 -3v4m1 -4v3m2 -2v3m1 -3v3m1 -5v5m1 -3v3m1 -3v3m1 -4v3m1 -2v3m1 -3v3m1 -3v3m1 -4v4m1 -5v5m2 -3v3m2 -4v4m2 -3v3m1 -4v4m2 -3v3m2 -4v4m1 -3v3m1 -4v4m1 -5v5m1 -3v3m1 -5v5m1 -3v4m1 -5v3m2 -4v5m1 -4v4m1 -4v5m2 -6v4m1 -2v3m1 -4v4m1 -3v3m1 -3v4m1 -5v4m1 -3v3m1 -4v4m1 -4v5m1 -5v3m1 -2v3m1 -4v4m2 -4v12m1 -12v4m1 -4v3m1 -2v3m1 -4v3m1 -2v3m1 -3v3m3 -3v3m1 -4v5m2 -4v3m1 -4v5m2 -4v4m1 -5v3m1 -3v3m1 -2v3m1 -5v6m1 -5v3m2 -3v4m1 -3v4m2 -4v3m1 -4v3m1 -2v3m1 -4v4m1 -5v5m1 -4v4m1 -5v6m1 -6v7m1 -8v8m1 -7v8m1 -8v7m1 -8v8m1 -8v8m1 -7v6m1 -6v7m1 -7v6m1 -6v5m1 -4v5m1 -5v4m3 -4v3m1 -2v3m1 -4v3m1 -3v4m1 -4v3m1 -3v3m1 -4v4m1 -3v4m1 -4v3m2 -2v3m1 -4v3m3 -3v5m1 -4v3m1 -5v5m1 -4v5m1 -4v4m1 -4v3m1 -3v3m1 -3v3m2 -4v3m1 -3v4m2 -3v3m1 -4v3m2 -2v3m1 -4v3m3 -2v3m1 -3v3m1 -4v4m2 -4v3m1 -3v3m1 -2v3m1 -4v3m2 -2v3m2 -5v5m1 -4v4m1 -4v4m1 -3v3m2 -3v3m1 -4v4m3 -4v5m1 -4v4m1 -5v3m2 -4v5m1 -4v4m1 -4v4m1 -4v5m1 -6v6m1 -4v3m1 -3v3m1 -3v3m2 -4v3m3 -3v3m1 -3v3m1 -2v4m3 -4v3m1 -3v3m1 -4v4m1 -4v4m3 -4v4m1 -4v4m1 -4v4m1 -3v3m1 -4v3m1 -4v5m1 -3v4m1 -6v6m1 -5v5m1 -5v4m1 -4v4m2 -4v4m1 -4v3m1 -3v3m1 -3v5m2 -4v4m1 -4v3m1 -4v4m1 -5v5m2 -4v4m1 -4v4m1 -3v3m2 -5v5m1 -4v3m1 -4v4m1 -4v4m2 -3v3m2 -3v3m1 -3v4m1 -7v9m1 -12v14m1 -21v30m1 -22v13m1 -13v13m1 -11v9m1 -6v4m1 -5v4m1 -3v4m1 -5v5m1 -4v4m1 -5v4m1 -2v4m2 -4v3m1 -3v3m1 -3v3m1 -4v4m1 -3v3m1 -3v4m1 -4v3m1 -4v4m1 -4v3m2 -3v4m2 -5v4m1 -2v3m1 -4v3m1 -3v3m2 -2v4m1 -4v3m1 -3v3m1 -3v4m1 -5v3m2 -3v4m1 -4v3m1 -3v4m1 -4v3m1 -3v3m1 -3v3m1 -3v4m2 -3v3m1 -3v3m3 -5v4m1 -3v4m1 -5v4m1 -3v3m1 -3v3m1 -4v4m1 -3v4m1 -4v4m1 -4v5m1 -5v4m1 -4v4m1 -5v4m1 -5v8m1 -9v8m1 -7v7m1 -7v9m1 -9v7m1 -6v6m1 -5v5m1 -5v5m1 -5v4m1 -4v3m1 -2v3m1 -4v4m1 -3v3m1 -4v4m1 -4v3m1 -2v4m2 -5v3m1 -2v4m2 -4v3m3 -3v3m1 -3v3m1 -3v3m2 -3v3m2 -4v5m1 -5v3m1 -2v3m1 -3v3m1 -4v5m1 -4v3m1 -3v3m1 -3v3m1 -5v4m1 -2v3m1 -4v5m1 -5v4m1 -3v4m1 -4v3m1 -4v5m1 -6v5m1 -3v3m1 -4v3m1 -2v3m1 -4v4m1 -4v4m1 -5v4m1 -4v5m1 -5v5m1 -4v4m1 -3v4m1 -5v4m1 -3v3m1 -5v5m1 -4v3m1 -3v5m1 -5v4"/>
<rect x="71" y="388" width="945" height="2" fill="#ff0033"/>
<path stroke="#ff0033" d="M72.5 388v3m2 -4v3m1 -2v3m5 -4v3m3 -3v3m1 -3v3m1 -3v3m1 -3v4m3 -4v3m7 -3v3m1 -2v3m2 -4v3m1 -3v3m3 -2v3m1 -3v3m1 -3v3m1 -4v3m3 -3v3m1 -3v4m8 -4v3m3 -3v3m2 -2v3m4 -4v4m1 -3v3m3 -4v3m1 -3v4m5 -3v3m3 -3v3m1 -4v3m3 -3v3m1 -2v3m8 -4v3m4 -3v3m1 -3v3m4 -2v3m11 -3v3m1 -3v3m1 -3v3m1 -4v3m2 -2v3m2 -4v3m2 -3v3m4 -3v3m2 -3v3m1 -3v3m1 -3v3m2 -2v3m2 -4v3m1 -3v3m4 -3v4m1 -4v3m2 -2v3m3 -4v3m8 -2v3m1 -4v3m4 -2v3m1 -3v3m11 -3v3m5 -3v3m2 -3v3m3 -4v3m1 -2v3m3 -3v3m1 -3v3m1 -4v3m2 -3v3m1 -2v3m2 -3v3m6 -3v3m5 -4v3m3 -2v3m3 -4v3m1 -2v3m1 -4v3m3 -2v3m3 -4v3m3 -3v3m1 -2v3m1 -4v4m1 -4v3m1 -3v4m3 -4v3m3 -2v3m1 -3v3m9 -4v3m3 -3v4m3 -3v3m1 -3v3m1 -4v3m8 -3v3m1 -3v3m3 -3v3m2 -3v3m1 -3v3m8 -3v3m1 -2v3m2 -3v3m2 -3v3m1 -3v3m1 -4v3m1 -2v3m1 -4v3m1 -3v3m9 -2v3m1 -3v3m21 -4v3m4 -2v3m1 -4v3m2 -3v3m7 -3v3m1 -2v3m1 -4v3m4 -3v3m3 -3v4m1 -4v3m1 -2v3m1 -4v4m1 -4v4m1 -4v4m2 -4v3m2 -3v3m2 -3v3m1 -3v3m3 -2v3m3 -4v3m1 -3v3m1 -3v3m5 -2v3m1 -3v3m3 -4v3m1 -2v3m4 -4v3m1 -3v3m2 -2v3m1 -4v3m2 -2v3m1 -3v3m1 -4v3m1 -3v3m1 -3v4m1 -4v3m2 -3v4m1 -3v3m2 -4v3m3 -3v3m2 -3v3m2 -3v3m1 -2v3m5 -4v3m4 -3v3m2 -3v4m1 -4v3m2 -2v3m3 -4v3m1 -3v3m6 -2v3m4 -3v3m5 -4v3m3 -2v3m2 -4v3m2 -3v4m2 -3v3m2 -4v3m5 -3v4m1 -4v3m2 -3v3m2 -3v4m3 -3v3m4 -3v3m1 -4v4m7 -4v3m1 -2v3m2 -3v3m1 -4v4m1 -3v3m3 -3v3m1 -3v3m1 -4v3m2 -3v3m3 -3v3m2 -2v3m2 -3v3m1 -4v3m5 -3v3m1 -3v4m1 -4v4m5 -4v4m4 -4v4m6 -3v3m1 -4v3m1 -3v3m7 -2v3m4 -3v3m2 -4v4m1 -3v3m1 -4v3m1 -2v3m2 -4v4m1 -5v5m1 -3v3m1 -6v8m1 -7v7m1 -9v9m1 -9v10m1 -9v7m1 -8v10m1 -9v7m1 -7v7m1 -5v5m1 -6v5m1 -3v3m3 -3v3m2 -4v3m1 -2v3m2 -3v3m3 -3v3m1 -4v4m2 -3v3m4 -4v3m2 -2v3m1 -3v3m1 -4v4m1 -3v3m6 -3v3m3 -4v3m4 -3v3m7 -2v3m1 -4v3m6 -3v3m2 -3v3m4 -3v4m4 -4v3m1 -3v3m1 -3v3m1 -2v3m3 -4v3m1 -2v3m1 -3v3m2 -4v4m1 -6v7m1 -6v6m1 -9v13m1 -11v9m1 -10v9m1 -8v7m11 -5v3m2 -2v3m3 -3v3m8 -3v3m7 -3v3m3 -4v4m4 -4v3m1 -3v4m1 -4v3m4 -2v3m1 -3v3m1 -3v3m6 -4v3m2 -3v3m2 -3v3m4 -3v4m1 -5v6m1 -7v8m1 -9v10m1 -8v10m1 -13v10m1 -11v13m1 -8v7m1 -9v8m1 -6v5m1 -5v4m1 -3v3m2 -3v3m1 -4v3m2 -2v3m2 -3v3m4 -4v4m1 -5v6m1 -7v9m1 -10v10m1 -11v14m1 -14v12m1 -10v9m1 -8v5m1 -4v4m2 -3v3m2 -4v4m3 -3v3m2 -4v3m3 -3v4m3 -3v3m1 -4v3m3 -2v3m2 -4v4m6 -4v3m2 -2v3m6 -3v3m3 -3v3m3 -3v3m2 -4v3m1 -3v3m3 -2v3m3 -4v4m4 -4v4m1 -4v3m3 -2v3m6 -4v3m1 -2v3m8 -3v3m4 -3v3m9 -4v3m2 -2v3m1 -3v3m3 -4v3m5 -3v4m2 -4v3m5 -3v4m2 -4v4m2 -4v4m4 -4v3m3 -3v3m4 -2v3m1 -4v3m5 -3v3m2 -3v3m1 -2v3m2 -3v3m2 -3v3m1 -4v3m1 -3v4m1 -4v3m1 -3v3m7 -2v3m2 -4v3m1 -2v3m3 -3v3m1 -4v3m3 -3v3m1 -3v4m1 -3v3m3 -4v3m1 -2v3m1 -3v3m1 -4v3m1 -3v3m1 -2v3m1 -3v3m4 -3v3m2 -3v3m10 -4v3m1 -3v3m2 -2v3m1 -4v3m1 -3v4m1 -3v3m2 -3v3m1 -4v3m1 -3v3m2 -2v3m3 -3v3m1 -3v3m1 -4v3m1 -2v3m1 -3v3m3 -3v3m1 -4v3m12 -3v4m5 -3v3m4 -4v3m1 -3v3m1 -3v3m4 -2v3m2 -4v4m1 -4v4m1 -4v4m1 -4v3m1 -3v3m3 -3v3m2 -3v3m1 -2v3m3 -4v3m2 -3v3m2 -3v3m1 -3v4m2 -4v3"/>
<rect x="71" y="402" width="945" height="2" fill="#0000ff"/>
<path stroke="#0000ff" d="M71.5 401v3m1 -4v4m1 -4v7m1 -8v8m1 -10v12m1 -11v8m1 -6v5m1 -5v6m1 -5v5m1 -5v3m1 -3v4m2 -3v3m3 -4v3m2 -3v3m14 -2v3m23 -3v3m5 -3v3m22 -3v3m5 -4v3m29 -2v3m4 -4v3m7 -2v3m4 -3v3m12 -3v3m33 -3v3m9 -4v3m7 -2v3m2 -4v3m7 -2v3m12 -3v3m2 -4v3m2 -2v3m1 -4v3m21 -3v3m2 -3v3m9 -3v3m9 -2v3m7 -4v3m8 -3v3m2 -2v3m1 -3v3m7 -3v3m12 -4v3m1 -2v3m6 -4v3m1 -3v3m3 -3v3m7 -3v3m2 -2v3m4 -3v3m5 -4v3m18 -3v3m4 -3v3m20 -2v3m1 -5v6m6 -4v3m14 -4v4m7 -3v3m2 -4v3m1 -3v4m1 -5v5m1 -5v6m1 -5v6m1 -7v5m1 -5v6m1 -5v4m6 -4v3m10 -2v3m3 -4v3m2 -2v3m1 -3v3m1 -3v3m6 -4v3m11 -3v3m6 -3v3m3 -3v3m3 -2v3m9 -3v3m6 -3v3m8 -4v3m2 -2v3m4 -3v3m3 -4v3m5 -2v3m20 -3v3m14 -4v3m14 -3v3m16 -3v4m1 -3v4m1 -7v7m1 -5v5m1 -6v4m1 -2v3m1 -4v3m6 -3v3m3 -2v3m5 -3v3m6 -3v3m2 -4v3m3 -3v3m6 -3v3m10 -3v3m18 -2v3m11 -3v3m2 -3v3m4 -4v3m5 -3v3m20 -3v3m5 -2v3m12 -3v3m17 -3v3m3 -4v3m23 -2v3m21 -3v3m6 -4v3m2 -3v4m6 -4v4m4 -4v3m7 -3v3m6 -3v3m6 -2v3m3 -4v3m13 -3v3m28 -3v4m5 -3v3m6 -3v3m14 -4v3m11 -3v3m8 -3v3m4 -3v3m12 -3v3m20 -3v3m3 -3v3m3 -2v3m1 -3v3m4 -3v3m21 -4v3m3 -2v3m2 -4v3"/>
<rect x="71" y="416" width="945" height="2" fill="#ff0033"/>
<path stroke="#ff0033" d="M209.5 415v3m1 -3v3m1 -4v6m1 -6v6m1 -6v5m1 -3v4m1 -6v6m1 -7v8m1 -8v8m1 -7v5m1 -4v6m1 -6v6m1 -6v6m1 -9v8m1 -7v8m1 -8v8m1 -7v5m1 -5v7m1 -7v6m1 -6v7m1 -7v5m1 -8v12m1 -8v4m1 -5v5m2 -4v4m1 -3v3m110 -4v3m2 -3v3m2 -2v3m438 -4v3m3 -2v3m5 -3v3m1 -4v4m2 -4v4m1 -4v4m1 -4v4m1 -4v5m1 -6v5m1 -5v5m1 -4v5m1 -4v3m1 -4v4m1 -3v4m1 -6v5m1 -4v4m1 -4v4m1 -4v3m1 -2v3m2 -4v3m4 -2v3m3 -3v3m8 -4v4m1 -3v4m1 -5v3m1 -2v3m1 -4v3m15 -3v3m1 -4v6m1 -6v6m1 -7v9m1 -8v8m1 -8v7m1 -8v8m1 -27v46m1 -32v15m1 -13v15m1 -16v15m1 -11v10m1 -11v11m1 -10v9m1 -11v10m1 -8v9m1 -9v8m1 -7v5"/>
<rect x="71" y="431" width="945" height="2" fill="#0000ff"/>
<path stroke="#0000ff" d="M71.5 430v3m2 -3v3m1 -2v3m1 -4v3m1 -3v3m1 -3v4m2 -4v3m1 -3v4m2 -4v4m1 -3v3m2 -3v3m1 -3v3m1 -4v4m1 -4v4m1 -4v4m1 -5v5m1 -4v3m1 -2v3m1 -4v3m2 -2v3m1 -4v4m1 -3v3m1 -4v4m1 -3v3m1 -4v4m2 -3v3m2 -4v3m1 -3v4m4 -4v4m1 -4v3m2 -3v3m3 -3v4m1 -4v4m4 -3v3m1 -4v4m1 -3v3m3 -3v3m1 -4v4m2 -4v4m1 -4v3m1 -2v3m2 -4v4m1 -4v4m2 -3v3m1 -4v4m1 -4v4m1 -4v3m1 -3v3m1 -3v3m4 -3v3m1 -3v4m3 -4v4m1 -4v3m1 -3v3m2 -3v4m1 -3v4m1 -5v4m1 -4v3m5 -3v3m1 -2v3m1 -4v3m1 -3v3m1 -3v3m1 -2v3m3 -4v4m1 -3v3m1 -4v4m3 -3v3m1 -3v3m1 -4v3m1 -3v3m2 -2v3m1 -3v3m1 -4v4m1 -4v4m1 -4v3m2 -3v4m1 -3v3m1 -4v4m1 -4v4m1 -4v4m1 -3v3m5 -4v3m1 -3v3m1 -3v3m1 -3v3m2 -3v3m2 -3v3m2 -3v3m1 -3v4m1 -3v3m1 -4v4m1 -4v3m1 -2v3m1 -4v3m1 -2v3m1 -4v3m1 -3v4m1 -4v3m1 -3v3m2 -3v3m1 -3v3m1 -3v3m1 -2v3m4 -3v3m1 -4v3m3 -3v3m1 -3v3m1 -3v3m1 -3v3m1 -3v3m3 -2v3m1 -4v3m5 -2v3m1 -4v3m1 -2v3m1 -4v3m1 -2v3m1 -4v4m2 -4v4m1 -4v4m1 -4v3m1 -3v3m1 -3v3m1 -3v4m1 -3v3m1 -4v3m2 -3v3m3 -2v4m3 -4v3m1 -4v3m1 -3v3m1 -3v4m1 -4v3m3 -3v3m2 -2v3m1 -4v3m1 -3v3m1 -3v4m1 -4v3m1 -2v3m1 -4v4m1 -4v3m1 -2v3m1 -4v4m1 -3v3m1 -4v3m1 -3v4m1 -4v3m2 -2v3m1 -4v3m1 -2v3m1 -4v3m1 -3v3m2 -2v3m5 -4v3m2 -3v3m1 -3v3m1 -2v3m1 -4v3m1 -3v4m1 -3v3m1 -3v3m1 -3v3m1 -4v3m2 -3v3m1 -3v3m1 -3v3m1 -3v4m1 -4v3m1 -2v3m1 -4v3m1 -3v4m1 -4v3m1 -2v3m1 -4v3m2 -3v4m1 -4v4m2 -4v3m3 -3v4m1 -3v3m1 -3v3m1 -3v3m1 -4v4m2 -4v3m1 -2v3m1 -3v3m1 -3v3m1 -4v3m1 -2v3m1 -3v3m3 -3v3m1 -4v3m1 -2v3m1 -3v3m1 -4v4m1 -4v3m3 -3v3m1 -3v3m1 -3v4m2 -4v3m1 -2v3m2 -4v3m1 -3v3m1 -3v4m3 -4v4m3 -3v3m1 -4v4m4 -4v3m1 -3v3m1 -3v3m1 -3v3m2 -3v3m2 -3v3m3 -3v4m4 -4v4m1 -3v3m3 -3v3m1 -4v3m1 -2v3m1 -4v4m1 -4v4m6 -4v4m2 -4v3m2 -3v4m2 -4v3m3 -2v3m1 -4v3m2 -3v4m2 -4v3m3 -3v4m1 -4v3m1 -3v3m1 -2v3m1 -3v3m2 -4v4m3 -4v3m3 -3v4m1 -4v4m1 -4v4m1 -4v3m1 -2v3m1 -4v3m2 -3v4m1 -4v4m1 -4v3m1 -2v3m1 -5v4m1 -3v3m3 -3v4m1 -3v3m1 -4v3m1 -2v3m1 -4v4m1 -3v3m2 -4v3m2 -2v3m1 -4v4m1 -4v4m1 -4v3m1 -2v3m1 -3v3m1 -4v3m1 -3v4m2 -4v3m2 -2v3m1 -3v3m2 -4v3m1 -3v3m2 -3v4m1 -3v3m1 -3v3m1 -4v4m2 -4v4m2 -4v3m1 -2v3m1 -3v3m1 -4v4m1 -3v3m1 -3v3m1 -3v3m1 -4v4m1 -4v4m2 -4v4m2 -4v3m1 -2v3m1 -3v3m1 -3v3m2 -3v3m1 -3v3m2 -4v4m1 -4v3m1 -2v3m1 -4v4m1 -4v4m2 -3v3m1 -3v3m2 -4v3m1 -3v4m1 -3v3m1 -4v4m1 -3v3m1 -4v3m1 -3v4m1 -4v3m2 -3v4m3 -3v3m2 -4v4m1 -4v4m1 -3v3m1 -4v3m1 -3v3m1 -2v3m1 -4v5m4 -5v3m2 -3v3m1 -2v3m5 -3v3m4 -5v4m1 -3v4m1 -3v3m1 -4v4m1 -3v3m2 -4v4m1 -4v3m2 -3v4m2 -4v4m1 -3v3m1 -3v3m2 -4v3m1 -3v3m1 -2v3m1 -4v4m1 -4v3m6 -3v4m4 -3v3m1 -4v3m2 -3v3m1 -3v3m2 -2v3m1 -4v3m1 -2v3m4 -4v4m1 -4v4m1 -3v3m1 -4v3m3 -2v3m1 -4v3m1 -3v3m4 -2v3m1 -4v4m1 -4v4m1 -4v3m7 -3v3m1 -3v3m1 -3v3m1 -2v3m1 -3v3m1 -4v3m2 -3v3m1 -3v4m1 -4v5m1 -4v3m1 -5v7m1 -6v4m1 -5v6m1 -6v6m1 -8v10m1 -10v9m1 -7v6m1 -8v10m1 -9v6m1 -10v14m1 -9v5m1 -4v4m1 -4v5m1 -5v4m1 -4v4m1 -3v3m2 -4v4m1 -3v3m1 -3v3m1 -3v3m1 -4v4m1 -4v4m1 -4v3m1 -2v3m2 -4v4m1 -3v3m2 -3v3m1 -4v3m3 -3v3m1 -2v3m1 -4v3m1 -3v3m1 -3v4m2 -4v4m2 -3v3m1 -3v3m2 -4v4m1 -4v4m2 -4v4m1 -3v3m2 -4v3m1 -2v4m1 -6v5m1 -4v3m1 -3v4m2 -3v3m2 -5v4m1 -2v3m1 -4v4m1 -3v3m1 -4v4m4 -4v3m1 -2v3m1 -3v3m5 -4v4m1 -3v3m1 -4v4m1 -4v4m1 -4v3m2 -3v3m1 -3v4m2 -4v3m1 -2v3m1 -4v3m1 -2v3m1 -4v3m2 -2v3m1 -4v4m1 -4v4m1 -3v3m1 -3v3m1 -4v3m1 -2v3m1 -3v3m1 -3v3m2 -3v3m1 -4v3m2 -2v4m1 -5v3m1 -3v3m1 -2v3m2 -4v3m2 -3v3m2 -2v3m1 -4v3m4 -2v3m1 -3v3m1 -4v3m1 -4v4m1 -3v3m1 -3v3m1 -3v3m1 -3v3m1 -3v3m1 -3v3m1 -3v4m2 -4v4m1 -4v3m1 -3v3m1 -2v3m3 -3v3m1 -3v3m1 -4v3m2 -3v4m1 -3v3m2 -4v3m1 -3v4m2 -3v3m3 -4v3m1 -2v4m1 -5v3m1 -2v3m1 -4v3m1 -2v3m1 -4v3m1 -3v4m1 -4v4m2 -3v3m1 -4v4m2 -4v3m1 -3v4m1 -4v3m1 -3v3m2 -2v3m1 -4v3m1 -2v3m1 -4v3m3 -2v3m1 -4v3m3 -3v3m2 -2v3m1 -4v4m1 -4v3m1 -3v3m1 -3v3m2 -2v3m3 -4v3m2 -3v3m1 -3v4m1 -4v3m2 -3v3m1 -3v3m2 -3v3m2 -3v4m5 -4v4m3 -3v3m3 -3v3m3 -4v4m2 -3v3m3 -3v3m1 -4v4m2 -3v3m2 -3v3m1 -4v3m3 -3v3m2 -3v4m1 -4v3m1 -3v3m1 -3v3m1 -2v3m2 -4v3m6 -3v3m1 -2v3m2 -4v4m1 -3v3m1 -4v4m1 -4v4m1 -4v3m1 -2v3m3 -3v3m1 -3v3m1 -4v3m2 -3v3m1 -2v3m1 -3v3m3 -4v4m1 -4v3m2 -2v3m2 -3v3m1 -4v3m1 -3v3m1 -3v3m1 -3v4m1 -4v4m3 -4v3m1 -3v3m2 -3v4m2 -4v3m1 -3v3m1 -3v3m2 -3v3m3 -3v4m2 -3v3m1 -4v4m2 -3v3m1 -4v4m1 -5v6m1 -5v6m1 -8v8m1 -9v9m1 -9v10m1 -9v8m1 -8v7m1 -6v6m1 -6v6m3 -5v3m1 -3v4m1 -4v4m1 -4v4m1 -4v3m1 -3v4m1 -3v3m2 -3v3m1 -3v3m1 -3v3m1 -4v3m1 -3v4m1 -4v4m5 -4v3m2 -3v3m1 -3v4m3 -4v3m2 -3v3m1 -4v4m1 -2v3m2 -3v3m1 -4v3m7 -3v4m1 -4v4m1 -3v3m2 -4v3m1 -3v3m1 -2v3m1 -4v3m1 -3v4m1 -4v3m1 -3v3m1 -3v3m1 -2v3m3 -4v3m1 -3v3m3 -3v3m1 -2v3m1 -4v4m2 -3v3m1 -4v4m2 -4v3m2 -2v3m1 -4v3m1 -2v3m1 -4v4m4 -4v3m3 -3v3m1 -3v4m2 -4v4m2 -5v5m1 -3v3m1 -3v3m1 -4v3m1 -3v4m1 -4v5m1 -6v4m1 -3v3m1 -3v3m1 -3v3m1 -3v4m1 -3v3m1 -3v3m2 -4v4m2 -3v3m1 -4v4m1 -4v3m1 -3v3"/>
<rect x="71" y="445" width="945" height="2" fill="#ff0033"/>
<path stroke="#ff0033" d="M255.5 444v5m1 -6v7m1 -8v10m1 -10v9m1 -8v6m1 -6v4m1 -2v3m170 -4v4m1 -4v4m1 -4v4m1 -4v4m1 -4v4m1 -4v4m1 -4v3m25 -3v3m1 -2v3m2 -6v6m1 -4v4m1 -5v4m1 -6v10m1 -8v5m1 -6v6m1 -6v7m1 -4v3m1 -3v4m1 -5v4m89 -4v3m1 -4v6m1 -13v20m1 -14v7m1 -8v7m1 -7v9m1 -9v11m1 -10v12m1 -15v15m1 -12v11m1 -14v11m1 -10v12m1 -11v9m1 -9v9m1 -8v6m1 -5v6m1 -6v6m1 -6v6m1 -6v5m1 -5v5m1 -4v4m1 -3v3m34 -4v3m1 -4v4m1 -4v6m1 -6v7m1 -7v7m1 -6v6m1 -6v4m1 -3v3m1 -4v3m67 -2v3m1 -3v4m1 -6v6m1 -5v3m280 -3v4m1 -4v5m1 -6v6m1 -6v7m1 -8v8m1 -9v8m1 -7v9m1 -9v9m1 -9v8m1 -5v3m1 -4v5m1 -5v4m1 -4v3"/>
<rect x="71" y="459" width="945" height="2" fill="#0000ff"/>
<path stroke="#0000ff" d="M130.5 458v4m1 -4v5m1 -5v5m1 -6v5m1 -4v5m1 -6v6m1 -7v9m1 -9v8m1 -9v10m1 -8v8m1 -15v20m1 -15v10m1 -8v8m1 -9v9m1 -9v8m1 -7v7m1 -8v7m1 -5v4m1 -5v4m1 -3v4m1 -3v3m1 -4v4m1 -3v3m221 -4v4m1 -4v3m1 -3v4m1 -4v5m1 -5v3m1 -3v4m1 -4v3m1 -3v3m13 -3v3m1 -4v4m1 -6v7m1 -7v9m1 -12v16m1 -12v8m1 -7v8m1 -7v4m1 -4v4m11 -4v4m1 -4v4m1 -4v4m1 -5v5m1 -5v8m1 -9v8m1 -6v3m1 -4v5m1 -4v4m16 -4v3m1 -3v3m1 -3v3m1 -3v4m149 -3v3m1 -3v3m2 -4v3m1 -2v4m1 -6v5m1 -3v3m1 -4v4m1 -3v3m1 -5v5m1 -4v5m1 -5v4m1 -3v3m2 -3v3"/>
<rect x="71" y="474" width="945" height="2" fill="#ff0033"/>
<path stroke="#ff0033" d="M71.5 474v3m1 -3v3m1 -3v3m1 -4v3m1 -2v3m2 -4v4m1 -3v3m3 -3v3m2 -4v3m6 -3v3m1 -2v3m2 -4v4m2 -3v3m1 -4v3m1 -3v3m2 -2v3m1 -4v3m1 -3v4m2 -4v3m1 -3v4m1 -4v4m2 -4v4m1 -3v3m1 -3v3m1 -4v3m4 -3v3m2 -2v3m1 -4v4m1 -4v3m4 -3v3m1 -2v3m1 -4v3m1 -3v3m1 -3v4m1 -3v3m2 -4v4m3 -4v4m3 -4v3m4 -3v3m1 -3v4m2 -4v4m2 -3v3m2 -4v3m3 -3v4m1 -4v4m6 -3v3m1 -4v3m1 -2v3m2 -4v4m2 -4v3m1 -3v4m1 -4v3m1 -2v3m1 -3v3m2 -4v3m2 -2v3m1 -3v3m1 -3v3m1 -4v3m1 -3v3m1 -2v3m2 -4v4m2 -4v3m1 -3v3m3 -3v3m3 -3v4m1 -3v3m2 -4v4m1 -4v4m2 -3v3m1 -4v4m2 -4v4m3 -3v3m2 -3v3m2 -4v4m2 -3v3m4 -4v3m2 -2v3m3 -4v3m2 -2v3m3 -3v3m2 -4v3m1 -3v3m1 -2v3m3 -4v3m1 -3v3m1 -3v4m2 -4v4m2 -3v3m3 -4v4m1 -3v3m2 -3v3m1 -4v3m1 -2v3m1 -4v3m2 -2v3m2 -4v3m1 -2v3m3 -4v4m1 -4v3m4 -3v3m1 -3v3m2 -2v3m1 -4v3m1 -3v3m1 -3v3m1 -2v3m1 -4v3m1 -3v4m7 -3v3m1 -4v3m1 -2v3m3 -4v4m3 -4v3m1 -2v3m1 -3v3m1 -3v3m1 -3v3m1 -4v4m1 -4v4m1 -4v3m3 -2v3m1 -4v3m1 -2v3m1 -4v3m2 -3v3m1 -2v3m3 -4v4m1 -3v3m3 -4v3m2 -3v3m2 -3v3m1 -2v3m1 -3v3m2 -4v4m1 -4v3m4 -2v3m1 -4v4m1 -3v3m2 -4v3m1 -3v3m1 -3v4m2 -3v3m2 -4v3m2 -3v3m1 -3v4m1 -4v3m1 -3v3m1 -3v4m1 -3v3m2 -4v4m2 -3v3m1 -4v4m1 -3v3m3 -4v4m1 -4v3m2 -2v3m2 -4v3m4 -2v3m3 -3v3m2 -4v3m1 -2v3m3 -4v3m2 -3v4m1 -4v3m2 -2v3m2 -4v3m2 -2v3m4 -4v3m2 -3v3m2 -3v3m1 -2v3m1 -3v3m3 -4v4m3 -3v3m2 -3v3m3 -3v3m2 -4v3m1 -2v3m1 -4v4m2 -4v3m2 -3v4m1 -3v3m1 -4v3m1 -3v4m1 -3v3m1 -4v4m1 -4v3m1 -2v3m4 -3v3m2 -3v3m1 -3v3m6 -4v4m2 -4v4m3 -4v4m2 -3v3m3 -4v3m1 -3v3m3 -3v3m1 -3v3m1 -2v3m1 -3v3m3 -4v3m1 -3v3m3 -2v3m2 -4v3m1 -2v3m1 -3v3m1 -4v3m1 -3v4m1 -4v3m2 -3v3m1 -2v3m1 -3v3m1 -4v4m1 -4v3m2 -3v3m1 -2v3m2 -4v3m1 -3v3m3 -3v3m2 -2v3m2 -3v3m1 -4v3m2 -3v4m1 -3v3m2 -3v3m3 -3v3m4 -4v4m1 -3v3m1 -3v3m2 -4v3m1 -3v4m1 -4v3m1 -3v3m1 -2v3m2 -4v3m2 -3v3m1 -2v3m1 -3v3m1 -3v3m1 -4v3m1 -2v3m1 -4v4m2 -4v3m1 -3v4m1 -3v3m1 -4v3m1 -3v3m1 -2v3m2 -3v3m1 -4v3m1 -2v3m6 -3v3m1 -4v3m2 -2v3m2 -4v4m1 -3v3m6 -4v4m1 -3v3m1 -3v3m2 -4v3m1 -3v3m1 -2v3m5 -4v3m1 -3v3m1 -3v4m1 -4v3m3 -3v3m2 -3v4m2 -3v3m1 -3v3m2 -3v3m2 -3v3m2 -4v3m1 -3v4m1 -3v3m1 -3v3m3 -4v3m2 -2v3m2 -4v4m5 -4v3m3 -3v3m1 -3v3m1 -3v4m5 -4v3m4 -3v3m2 -3v4m1 -3v3m2 -4v3m2 -3v4m1 -4v3m3 -3v3m1 -3v4m4 -4v4m1 -3v3m3 -3v3m3 -3v3m1 -3v3m3 -4v4m1 -3v3m1 -3v3m2 -3v3m1 -3v3m3 -3v3m5 -3v3m3 -4v3m5 -3v4m1 -4v3m1 -2v3m1 -4v3m2 -2v3m2 -4v4m1 -3v3m1 -4v3m1 -3v4m2 -3v3m1 -3v3m1 -3v3m2 -3v3m2 -3v3m1 -3v3m4 -4v3m3 -2v3m1 -4v3m1 -3v3m2 -2v3m2 -4v4m1 -4v3m1 -2v3m1 -4v4m1 -4v3m5 -3v3m1 -2v3m5 -3v3m1 -4v3m1 -2v3m1 -3v3m5 -3v3m1 -4v3m3 -3v3m2 -2v3m1 -4v3m2 -3v4m3 -4v3m2 -3v4m1 -3v3m1 -4v3m4 -3v3m1 -3v3m1 -3v4m1 -4v3m1 -2v3m2 -4v3m1 -2v3m1 -4v4m2 -3v3m2 -3v3m2 -3v3m1 -4v4m1 -4v3m1 -3v3m3 -3v4m2 -4v4m1 -4v4m1 -3v3m1 -3v3m1 -4v3m1 -3v3m9 -3v3m1 -3v3m4 -2v3m1 -4v3m1 -2v3m1 -4v4m2 -4v4m1 -4v3m1 -2v3m1 -3v3m1 -4v4m1 -4v4m1 -3v3m1 -4v5m1 -6v5m1 -4v5m1 -7v8m1 -8v6m1 -6v8m1 -7v7m1 -9v10m1 -11v11m1 -8v10m1 -14v12m1 -9v10m1 -12v10m1 -11v13m1 -13v13m1 -13v11m1 -8v9m1 -11v12m1 -9v7m1 -9v8m1 -6v7m1 -9v10m1 -8v6m1 -5v5m1 -5v5m1 -5v5m1 -5v4m1 -4v4m2 -3v3m4 -4v4m1 -4v3m1 -2v3m1 -4v3m1 -3v3m1 -3v4m2 -4v4m1 -4v3m1 -2v3m4 -3v3m1 -3v3m1 -4v3m1 -2v3m1 -3v3m1 -4v3m4 -2v3m6 -4v4m1 -4v4m1 -4v3m2 -3v4m1 -4v3m1 -3v3m2 -3v4m1 -3v3m3 -4v4m1 -3v3m5 -4v3m1 -3v3m2 -3v3m1 -2v3m2 -3v3m1 -4v4m2 -4v3m1 -2v3m2 -4v3m1 -3v3m5 -2v3m2 -3v3m1 -3v3m1 -4v3m1 -3v3m2 -3v3m5 -3v4m2 -4v3m3 -2v3m1 -4v3m4 -2v3m2 -4v3m2 -2v3m2 -4v4m2 -4v3m1 -3v3m2 -2v3m1 -3v3m2 -3v3m1 -4v3m2 -3v3m3 -3v3m5 -3v3m1 -2v3m1 -4v3m1 -3v3m3 -2v3m4 -4v3m1 -3v3m2 -3v3m1 -3v3m3 -2v3m1 -3v3m1 -4v4m1 -4v3m2 -3v4m2 -3v3m1 -4v3m1 -2v3m1 -3v3m2 -4v4m1 -4v3m1 -2v3m1 -4v3m3 -2v3m3 -4v3m1 -3v3m1 -2v3m2 -4v4m5 -4v3m1 -3v4m1 -4v4m4 -3v3m2 -3v3m3 -3v3m3 -4v4m1 -4v3m1 -3v3m1 -3v3m3 -3v3m2 -3v3m2 -2v3m1 -4v3m5 -3v4m2 -4v3m2 -2v3m1 -3v3m1 -4v3m1 -3v3m1 -3v4m1 -4v3m2 -3v4m4 -4v4m1 -4v3m1 -2v3m1 -4v3m2 -2v3m3 -4v3m1 -2v3m2 -3v3m2 -3v3m1 -4v3m5 -3v3m1 -2v3"/>
<rect x="71" y="488" width="945" height="2" fill="#0000ff"/>
<path stroke="#0000ff" d="M395.5 487v3m1 -3v4m1 -4v3m2 -3v3m4 -3v3m1 -3v4m3 -4v3m3 -3v3m84 -3v4m1 -5v5m1 -4v5m1 -7v6m1 -6v7m1 -8v9m1 -12v15m1 -11v8m1 -9v11m1 -11v10m1 -11v9m1 -7v8m1 -8v8m1 -7v6m1 -7v6m1 -4v5m1 -5v3m9 -2v3m1 -4v3m2 -2v3m1 -4v4m1 -4v5m1 -4v4m1 -6v5m1 -4v5m1 -6v6m1 -5v6m1 -6v5m1 -5v5m1 -6v6m1 -5v5m1 -5v5m3 -5v4m2 -3v3m9 -4v4m1 -5v4m1 -4v7m1 -9v10m1 -10v10m1 -10v11m1 -11v12m1 -15v17m1 -20v22m1 -18v14m1 -14v13m1 -13v12m1 -11v10m1 -7v7m1 -7v7m1 -7v6m1 -5v3m90 -25v55m1 -33v5m1 -5v5m1 -5v4"/>
<rect x="71" y="502" width="945" height="2" fill="#ff0033"/>
<path stroke="#ff0033" d="M73.5 502v3m10 -3v3m13 -4v3m3 -2v3m7 -4v3m3 -3v4m1 -4v3m6 -2v3m3 -4v3m1 -3v3m1 -3v3m4 -2v3m3 -4v3m13 -3v3m13 -2v3m10 -3v3m7 -3v3m4 -4v4m4 -4v3m4 -3v3m11 -3v3m5 -2v3m13 -4v4m2 -3v3m3 -4v3m12 -3v3m18 -3v3m3 -3v3m2 -2v3m16 -4v3m3 -3v3m7 -2v3m2 -3v3m3 -4v3m5 -3v3m8 -2v3m6 -3v3m7 -4v3m1 -2v3m15 -4v4m1 -4v3m1 -4v5m1 -4v4m1 -3v4m1 -13v20m1 -13v6m1 -6v4m1 -3v4m1 -5v7m1 -7v8m1 -9v7m1 -7v9m1 -9v9m1 -11v10m1 -10v10m1 -9v8m1 -6v8m1 -18v25m1 -14v6m1 -9v9m1 -6v6m1 -8v8m1 -8v7m1 -5v4m1 -5v6m1 -5v5m1 -5v5m1 -5v5m1 -6v5m1 -4v4m1 -4v3m11 -2v3m6 -3v3m3 -3v3m9 -3v3m4 -4v3m4 -2v3m14 -3v3m2 -3v3m1 -3v3m17 -4v3m1 -2v3m7 -4v3m2 -2v3m1 -3v3m1 -4v3m1 -3v4m1 -5v5m1 -5v6m1 -6v5m1 -3v4m1 -6v4m1 -2v3m1 -5v5m1 -4v3m2 -2v3m3 -4v4m3 -4v3m1 -4v5m1 -4v5m1 -6v7m1 -9v9m1 -8v8m1 -7v9m1 -12v13m1 -14v12m1 -11v12m1 -9v9m1 -10v8m1 -8v9m1 -8v6m1 -4v3m1 -4v3m7 -2v3m1 -5v7m1 -9v9m1 -8v9m1 -12v13m1 -19v24m1 -17v11m1 -12v16m1 -17v16m1 -13v10m1 -11v10m1 -7v8m1 -7v6m1 -6v3m2 -3v3m8 -2v3m11 -4v3m1 -2v4m1 -6v6m1 -6v6m1 -7v7m1 -6v7m1 -8v9m1 -9v8m1 -8v6m1 -4v4m1 -3v3m1 -4v4m1 -4v3m16 -2v3m3 -3v3m6 -4v3m24 -3v3m1 -3v3m3 -3v3m2 -3v3m4 -2v3m2 -3v3m11 -3v3m4 -3v3m9 -4v3m1 -3v3m9 -3v3m4 -2v3m13 -3v3m13 -4v3m4 -2v3m1 -4v4m1 -4v3m1 -2v3m1 -4v3m1 -3v3m22 -2v3m26 -3v3m4 -3v3m12 -4v3m2 -2v3m4 -3v3m10 -3v3m12 -4v3m1 -2v3m1 -3v4m1 -5v4m1 -4v4m1 -5v5m1 -6v6m1 -5v6m1 -5v5m1 -6v6m1 -6v6m1 -5v4m1 -4v4m1 -4v4m9 -4v3m26 -3v3m2 -2v3m2 -3v3m14 -4v3m1 -2v3m4 -3v3m5 -4v3m3 -2v3m10 -3v3m6 -4v3m14 -3v3m4 -2v3m8 -3v3m4 -3v3m8 -4v3m12 -3v3m4 -2v3m15 -4v3m4 -2v3m1 -3v3m5 -3v3m1 -4v3m2 -3v3m1 -2v3m1 -3v3m2 -4v3m1 -3v3m1 -2v3m3 -4v4m16 -4v3m13 -2v3m5 -3v3m9 -3v3m3 -4v3m17 -2v3m14 -3v3"/>
<rect x="71" y="517" width="945" height="2" fill="#0000ff"/>
<path stroke="#0000ff" d="M71.5 517v3m1 -4v3m1 -3v4m3 -4v3m1 -2v3m1 -3v3m5 -4v3m1 -3v3m3 -2v3m1 -4v3m1 -2v3m1 -4v3m5 -3v3m3 -3v3m1 -3v3m1 -3v4m3 -4v3m5 -3v4m3 -4v3m2 -3v4m1 -3v3m1 -3v3m1 -4v4m1 -4v3m3 -2v3m4 -4v3m1 -3v4m2 -4v4m2 -4v3m1 -3v4m1 -4v3m1 -3v3m1 -2v3m1 -3v3m1 -4v3m1 -3v3m1 -2v3m2 -3v3m2 -3v3m1 -3v3m1 -4v3m1 -2v3m1 -3v3m1 -4v3m1 -2v3m1 -4v3m1 -2v3m1 -3v3m1 -3v3m1 -4v3m6 -2v3m4 -4v4m1 -4v4m1 -4v4m2 -4v3m1 -3v4m2 -4v3m1 -3v3m7 -3v3m2 -3v3m1 -3v4m1 -4v3m2 -3v3m1 -3v4m2 -4v3m1 -3v3m2 -2v3m2 -3v3m1 -4v3m1 -3v4m2 -3v3m1 -3v3m3 -4v3m1 -3v3m1 -3v4m3 -3v3m2 -4v4m1 -3v3m1 -4v3m1 -3v4m1 -4v4m3 -3v3m1 -4v4m2 -4v4m2 -4v3m1 -2v3m1 -3v3m1 -3v3m1 -4v4m1 -4v3m1 -2v3m1 -4v3m1 -3v3m1 -2v3m1 -3v3m1 -3v3m2 -3v3m1 -4v4m1 -3v3m1 -3v3m1 -4v3m2 -3v4m1 -3v3m1 -4v4m1 -4v3m1 -3v3m5 -3v4m4 -3v3m1 -4v3m1 -3v4m1 -3v3m1 -4v4m1 -3v3m1 -4v3m1 -3v4m3 -4v4m3 -4v3m3 -3v4m3 -4v3m1 -2v3m1 -4v4m4 -4v4m1 -4v3m4 -3v4m1 -4v3m1 -2v3m1 -4v4m3 -4v4m1 -3v3m2 -4v3m2 -3v3m2 -2v3m2 -4v3m1 -3v3m2 -2v3m1 -3v3m1 -4v3m1 -3v3m1 -3v3m1 -3v4m1 -3v3m1 -4v4m1 -3v3m1 -3v3m2 -3v3m3 -3v3m3 -4v3m1 -2v3m1 -4v3m1 -3v3m2 -3v3m1 -3v4m1 -3v3m2 -3v3m1 -3v3m1 -4v3m1 -2v3m1 -3v3m1 -4v4m1 -3v3m1 -3v3m3 -4v4m1 -4v3m1 -3v3m1 -3v4m1 -4v4m2 -4v3m1 -2v3m2 -3v3m2 -4v3m1 -3v4m1 -4v3m1 -2v3m2 -3v3m3 -4v4m1 -3v3m1 -4v3m2 -3v4m3 -4v3m1 -2v3m2 -3v3m1 -4v3m1 -3v3m1 -3v4m3 -3v3m1 -4v3m1 -2v3m2 -4v3m1 -3v3m2 -3v3m1 -2v3m1 -3v3m1 -3v3m1 -4v3m1 -2v3m2 -4v3m2 -3v3m2 -2v3m2 -4v3m1 -2v3m1 -4v3m4 -2v3m1 -4v3m1 -3v3m2 -3v3m1 -2v3m1 -4v3m2 -2v3m2 -4v3m1 -3v3m1 -3v4m1 -4v3m2 -2v3m1 -4v3m1 -2v3m1 -4v3m4 -3v4m1 -4v4m3 -4v3m1 -3v3m1 -3v4m1 -4v3m1 -2v3m1 -3v3m1 -3v3m1 -4v4m1 -3v3m2 -4v3m1 -2v3m2 -4v4m1 -4v3m2 -3v3m2 -2v3m1 -4v3m2 -3v4m1 -3v3m2 -4v4m3 -3v3m1 -3v3m2 -4v3m1 -2v3m3 -3v3m2 -4v4m1 -3v3m1 -4v4m1 -4v4m1 -4v3m1 -3v3m2 -3v4m1 -4v3m3 -3v3m1 -2v3m2 -3v3m4 -4v4m1 -4v4m1 -4v3m2 -2v3m1 -3v3m1 -4v3m1 -2v3m1 -4v4m1 -4v4m1 -4v3m3 -3v3m1 -3v4m2 -3v3m2 -4v3m1 -3v3m1 -3v4m2 -4v3m1 -3v3m2 -2v3m2 -4v3m1 -2v3m1 -4v3m1 -3v4m2 -4v4m1 -4v3m2 -2v3m2 -3v3m1 -3v3m2 -3v3m4 -4v3m5 -3v3m1 -2v3m1 -4v3m2 -3v3m2 -2v3m1 -4v4m1 -4v4m1 -4v3m1 -2v3m1 -3v3m1 -4v4m1 -4v3m1 -2v3m2 -4v4m1 -4v3m3 -2v3m1 -3v3m2 -3v3m2 -4v3m1 -2v3m1 -3v3m2 -3v3m1 -4v4m1 -3v3m1 -3v3m1 -3v3m2 -3v3m1 -4v3m1 -3v3m1 -2v3m1 -4v3m1 -2v3m1 -4v3m1 -2v3m1 -3v3m3 -4v3m1 -3v3m1 -3v4m3 -4v4m2 -4v4m1 -4v4m2 -4v4m1 -4v3m1 -2v3m1 -3v3m1 -3v3m2 -3v3m1 -4v3m1 -3v3m2 -3v3m1 -3v4m1 -4v3m6 -3v3m1 -2v3m2 -4v3m1 -3v4m1 -4v3m4 -3v4m2 -3v3m1 -4v3m1 -3v3m2 -3v3m1 -3v3m2 -2v3m4 -4v3m1 -3v3m1 -3v3m1 -3v3m1 -3v4m1 -3v3m1 -4v3m2 -3v4m1 -3v3m2 -4v4m5 -4v3m1 -2v3m2 -3v3m2 -4v3m2 -2v3m1 -4v4m1 -4v4m1 -3v3m3 -3v3m1 -3v3m2 -3v3m2 -4v3m2 -3v3m1 -3v4m1 -4v4m1 -4v3m5 -3v3m1 -3v3m1 -4v6m1 -7v7m1 -7v8m1 -9v9m1 -8v9m1 -10v10m1 -10v10m1 -10v9m1 -9v12m1 -13v12m1 -13v13m1 -20v28m1 -20v11m1 -10v10m1 -8v7m1 -8v8m1 -8v8m1 -5v3m1 -4v3m1 -3v3m1 -3v4m1 -4v3m1 -3v4m1 -4v4m1 -4v3m1 -3v3m2 -3v3m1 -3v3m1 -3v3m1 -4v5m1 -4v6m1 -6v6m1 -7v8m1 -10v11m1 -9v8m1 -30v50m1 -31v11m1 -11v10m1 -8v8m1 -12v17m1 -36v55m1 -37v13m1 -8v12m1 -14v13m1 -12v10m1 -11v11m1 -9v8m1 -8v8m1 -9v9m1 -8v9m1 -8v5m2 -4v4m1 -4v4m1 -4v4m4 -4v3m1 -2v3m1 -4v3m1 -3v3m2 -2v3m1 -4v3m2 -3v3m1 -3v4m1 -3v3m1 -4v4m1 -3v3m1 -3v3m2 -4v4m1 -4v3m2 -2v3m1 -3v3m2 -3v3m1 -4v3m1 -2v3m2 -3v3m1 -4v3m1 -2v3m2 -4v4m1 -3v3m1 -4v3m2 -3v3m1 -3v3m1 -3v3m3 -3v3m1 -3v4m1 -3v3m1 -3v3m1 -4v3m1 -3v3m1 -2v3m1 -3v3m1 -4v4m1 -3v3m1 -4v3m2 -2v3m1 -4v3m3 -2v3m1 -3v3m1 -4v3m1 -3v3m1 -3v3m1 -3v4m1 -4v3m1 -3v3m1 -3v3m1 -2v3m1 -3v3m1 -4v4m1 -4v3m3 -3v3m1 -3v3m1 -3v3m1 -3v4m1 -4v4m1 -4v4m1 -3v3m2 -4v4m1 -3v3m1 -3v3m1 -3v3m1 -3v3m1 -3v3m1 -3v3m1 -4v4m1 -3v3m1 -4v3m2 -3v3m1 -3v4m1 -4v3m2 -2v3m2 -3v3m1 -3v3m1 -4v4m3 -4v3m1 -3v4m2 -4v3m2 -2v3m2 -3v3m2 -4v3m2 -3v3m1 -3v3m3 -2v3m3 -3v3m2 -3v3m2 -4v3m1 -3v4m2 -4v3m2 -3v4m1 -4v3m1 -3v4m1 -3v3m3 -4v3m1 -3v4m1 -3v3m2 -4v4m2 -3v3m1 -3v3m3 -4v3m1 -3v3m3 -2v3m2 -4v3m3 -2v3m2 -4v4m2 -4v3m1 -3v3m1 -3v4m1 -4v4m1 -4v3m3 -3v3m1 -3v3m2 -3v4m3 -4v3m1 -2v3m1 -4v4m2 -3v3m1 -3v3m1 -4v4m1 -4v3m1 -2v3m1 -4v3m4 -3v3m1 -3v4m1 -4v5m1 -5v4m2 -3v3m2 -3v3m2 -3v3m1 -3v3m1 -4v3m1 -3v4m7 -4v3m1 -2v3m1 -4v4m2 -3v3m7 -4v3m1 -2v3m1 -4v4m2 -4v4m1 -3v3m1 -4v3m1 -2v3m1 -4v4m2 -3v3m1 -4v3m2 -3v4m1 -4v4m1 -3v3m1 -4v3m1 -3v3m2 -2v3m10 -4v3m1 -3v3m2 -2v3m1 -4v3m1 -3v3m1 -3v3m1 -2v3m1 -4v3m1 -3v4m1 -3v3m2 -3v3m1 -4v4m1 -4v3m2 -3v3m2 -3v4m1 -3v3m1 -4v3m1 -3v3m1 -2v3m2 -4v3m1 -3v3m3 -3v4m1 -4v3m1 -2v3m4 -4v4m1 -4v4m1 -3v3m1 -3v3m1 -3v3m3 -3v3m1 -3v3m2 -4v3m4 -3v3m1 -2v3m1 -4v3"/>
<rect x="71" y="531" width="945" height="2" fill="#ff0033"/>
<path stroke="#ff0033" d="M79.5 531v3m5 -3v3m2 -3v3m2 -3v3m6 -4v3m1 -3v3m1 -4v6m1 -6v7m1 -8v7m6 -4v3m2 -4v3m4 -3v3m1 -2v3m1 -4v3m1 -3v4m3 -4v3m2 -2v3m2 -4v3m7 -2v3m2 -4v3m1 -3v3m1 -2v3m1 -3v3m2 -3v3m3 -4v3m3 -3v3m1 -3v3m2 -3v3m2 -3v4m1 -3v3m7 -4v3m1 -2v3m3 -3v3m5 -3v3m1 -4v3m20 -3v4m12 -4v3m4 -2v3m1 -4v3m1 -3v3m1 -3v4m1 -4v4m5 -3v3m2 -3v3m2 -3v3m3 -4v3m3 -2v3m3 -3v3m1 -3v3m1 -4v4m2 -4v3m1 -3v3m1 -3v3m4 -2v3m2 -4v3m2 -2v3m2 -3v3m1 -4v3m7 -3v4m1 -4v4m1 -4v3m2 -3v3m1 -3v3m1 -3v3m7 -3v3m2 -3v3m1 -3v3m7 -2v3m1 -3v3m1 -3v3m2 -3v3m2 -3v3m2 -3v3m3 -4v3m3 -2v3m1 -3v3m3 -3v3m7 -3v3m1 -3v3m1 -4v3m3 -3v3m2 -3v3m3 -3v3m2 -3v4m2 -4v4m1 -4v3m5 -2v3m2 -3v3m9 -4v3m6 -2v3m4 -3v3m1 -4v3m4 -3v3m1 -2v3m1 -3v3m9 -4v3m7 -3v3m3 -2v3m3 -4v3m1 -2v3m2 -3v3m6 -4v3m2 -2v3m3 -3v3m2 -4v3m1 -3v4m4 -4v3m4 -2v3m2 -3v3m3 -4v3m4 -2v3m1 -4v3m5 -3v4m4 -3v3m2 -4v4m1 -4v4m1 -4v3m11 -3v3m3 -2v3m6 -3v3m2 -4v4m1 -4v4m1 -4v4m1 -4v4m1 -4v3m1 -3v3m1 -3v3m3 -3v3m1 -3v4m2 -3v3m4 -4v3m6 -3v3m1 -2v3m4 -4v3m4 -2v3m4 -4v3m1 -3v3m4 -2v3m6 -4v3m1 -3v3m3 -2v3m4 -4v3m3 -3v3m5 -3v3m3 -2v3m3 -4v3m1 -2v3m2 -4v3m1 -3v3m1 -2v3m15 -4v5m1 -6v6m1 -8v11m1 -11v12m1 -17v20m1 -19v19m1 -15v14m1 -15v13m1 -13v11m1 -8v7m1 -6v5m1 -5v3m2 -2v3m4 -3v3m2 -3v3m1 -3v3m1 -3v3m6 -4v3m1 -3v3m3 -2v3m3 -4v3m1 -3v4m2 -4v5m1 -6v5m1 -6v8m1 -9v10m1 -8v6m1 -6v6m1 -5v5m1 -5v4m2 -4v3m3 -3v3m1 -3v4m2 -3v3m2 -4v3m2 -3v3m1 -3v3m2 -3v3m1 -2v3m1 -4v4m1 -4v4m1 -4v4m1 -3v4m1 -6v5m1 -4v3m1 -3v4m1 -4v3m1 -2v3m3 -4v4m3 -4v3m3 -3v3m4 -3v3m1 -2v3m4 -4v4m3 -3v3m2 -4v4m2 -4v3m3 -2v3m10 -3v3m1 -3v3m1 -3v3m5 -3v3m1 -4v3m3 -3v4m2 -4v4m1 -4v3m6 -3v3m4 -2v3m9 -4v4m3 -4v3m8 -3v3m5 -2v3m1 -3v3m3 -3v3m9 -4v3m1 -3v4m1 -3v3m1 -4v3m2 -2v3m1 -3v3m1 -4v3m2 -3v3m1 -3v3m3 -2v3m2 -4v3m4 -2v3m4 -3v3m1 -3v3m1 -3v3m1 -4v3m3 -3v3m2 -2v3m1 -3v3m2 -4v3m4 -3v3m1 -3v3m1 -3v3m6 -3v3m1 -2v3m3 -3v3m1 -3v3m1 -4v4m1 -3v3m1 -4v3m11 -2v3m3 -4v3m3 -2v3m3 -3v3m4 -4v3m2 -2v3m1 -3v3m2 -3v3m7 -3v3m1 -3v3m5 -4v4m1 -4v3m2 -2v3m3 -3v3m2 -3v3m1 -3v3m3 -3v3m3 -3v3m1 -3v3m2 -4v4m4 -4v3m3 -2v3m7 -3v3m4 -3v3m1 -5v4m1 -2v4m1 -6v5m1 -5v5m1 -4v5m7 -5v3m1 -3v4m2 -4v3m2 -2v3m1 -4v3m2 -2v3m3 -4v4m2 -3v3m2 -3v3m5 -4v3m1 -2v3m2 -4v3m4 -3v3m1 -2v3m1 -3v3m1 -4v3m1 -2v3m1 -4v5m1 -6v4m1 -3v6m1 -6v5m1 -7v8m1 -8v7m1 -7v10m1 -13v13m1 -11v9m1 -11v14m1 -15v13m1 -14v18m1 -18v19m1 -20v16m1 -17v22m1 -21v19m1 -19v19m1 -14v14m1 -16v16m1 -15v14m1 -15v15m1 -52v86m1 -52v14m1 -12v16m1 -16v16m1 -12v12m1 -16v16m1 -12v10m1 -12v12m1 -11v10m1 -10v9m1 -7v7m1 -8v7m1 -6v6m2 -4v3m1 -3v3m2 -3v3m1 -3v3m1 -5v7m1 -5v5m1 -8v8m1 -9v7m1 -5v7m1 -7v6m1 -10v12m1 -10v10m1 -11v11m1 -8v6m1 -5v7m1 -11v8m1 -6v8m1 -7v6m1 -5v5m1 -6v6m1 -5v4m3 -4v3m1 -3v3m3 -2v3m2 -3v3m2 -4v3m2 -2v3m4 -4v3m1 -2v3m4 -4v3m1 -3v4m3 -3v3m1 -3v3m1 -4v3m3 -3v3m2 -3v3m1 -2v3m2 -4v3m1 -2v3m3 -4v3m1 -3v4m4 -4v4m9 -4v3m7 -2v3m4 -3v3m2 -3v3m1 -3v3m9 -3v3m2 -4v3m2 -3v4m2 -3v3m2 -4v3m1 -3v3m2 -3v4m3 -4v4m1 -4v3"/>
<rect x="71" y="545" width="945" height="2" fill="#0000ff"/>
<path stroke="#0000ff" d="M370.5 544v3m2 -3v3m1 -3v3m294 -2v3m1 -4v4m1 -4v4m1 -5v4m1 -3v4m1 -6v5m1 -5v7m1 -9v10m1 -8v10m1 -11v11m1 -12v12m1 -8v9m1 -15v12m1 -13v17m1 -15v10m1 -7v9m1 -11v9m1 -7v9m1 -10v8m1 -6v6m1 -7v8m1 -7v6m1 -4v3m1 -5v6m25 -5v4m1 -4v3m1 -4v4m1 -3v5m1 -5v5m1 -7v7m1 -6v7m1 -7v5m1 -5v5m1 -4v5m1 -5v4m1 -3v3m1 -4v4m286 -5v6m1 -5v3"/>
<rect x="71" y="560" width="945" height="2" fill="#ff0033"/>
<path stroke="#ff0033" d="M72.5 559v3m3 -2v3m1 -3v3m1 -4v4m1 -4v3m1 -4v5m1 -4v5m1 -6v4m1 -3v3m1 -2v3m1 -4v4m2 -3v3m1 -3v3m3 -3v3m6 -3v3m1 -3v4m1 -6v5m1 -4v6m1 -9v8m1 -7v7m1 -6v7m1 -10v12m1 -11v9m1 -10v11m1 -8v7m1 -9v9m1 -7v7m1 -6v4m1 -6v8m1 -7v5m1 -4v3m9 -3v3m5 -3v3m21 -2v3m8 -4v3m1 -3v3m1 -2v3m1 -4v3m6 -2v3m14 -4v3m4 -3v3m2 -2v3m5 -3v3m10 -3v3m3 -3v3m8 -4v3m16 -3v3m3 -3v3m2 -2v3m1 -3v3m9 -3v3m8 -4v3m1 -2v3m8 -4v3m4 -2v3m4 -4v3m8 -3v3m38 -3v3m2 -2v3m4 -3v3m3 -3v3m2 -3v3m4 -3v3m11 -3v3m3 -4v3m6 -2v3m1 -3v3m3 -4v3m24 -3v3m8 -3v3m1 -4v5m1 -5v6m1 -7v7m1 -6v7m1 -8v7m1 -5v5m1 -6v5m1 -4v3m3 -2v3m4 -4v3m1 -3v3m4 -3v3m3 -3v3m1 -3v5m1 -5v4m1 -5v5m1 -4v4m23 -3v3m13 -4v3m2 -2v3m6 -3v3m9 -4v3m8 -3v3m2 -2v3m24 -3v3m5 -3v3m23 -4v3m16 -3v4m24 -4v3m1 -2v3m4 -3v3m3 -4v3m4 -3v3m1 -2v3m4 -3v3m13 -4v3m19 -2v3m10 -4v3m1 -3v3m16 -3v3m6 -2v3m2 -3v3m12 -3v3m3 -12v16m1 -23v29m1 -22v21m1 -18v15m1 -20v17m1 -10v13m1 -14v15m1 -18v17m1 -17v15m1 -13v11m1 -12v13m1 -12v11m1 -10v10m1 -10v12m1 -10v8m1 -9v10m1 -10v8m1 -6v8m1 -10v8m1 -6v6m1 -8v8m1 -7v7m1 -7v5m1 -4v5m1 -5v6m1 -6v5m1 -5v5m1 -4v4m1 -4v5m1 -5v3m1 -3v4m1 -3v3m1 -4v4m1 -4v4m2 -4v4m5 -4v3m2 -3v3m20 -3v3m31 -2v3m8 -3v3m2 -3v3m5 -4v3m2 -2v3m3 -4v3m16 -3v3m14 -2v3m13 -3v3m7 -3v3m15 -3v3m8 -4v3m30 -2v3m2 -4v3m9 -3v3m6 -2v3m9 -3v3m2 -4v3m1 -3v4m12 -3v3m4 -4v3m3 -2v3m7 -3v3m9 -4v3m2 -2v3m7 -3v3m28 -3v3m21 -4v3m3 -2v3m1 -4v3m3 -3v3m6 -2v3"/>
<rect x="71" y="574" width="945" height="2" fill="#0000ff"/>
<path stroke="#0000ff" d="M71.5 573v3m2 -3v3m1 -3v3m3 -3v3m2 -2v3m2 -4v3m1 -2v3m2 -3v3m1 -4v4m2 -4v3m1 -2v3m4 -4v4m1 -3v3m4 -4v4m1 -4v3m4 -3v4m1 -4v3m1 -2v3m7 -4v3m2 -3v3m1 -3v3m1 -2v3m3 -3v3m1 -3v3m1 -4v4m9 -4v3m4 -3v3m5 -3v3m9 -2v3m1 -4v3m2 -3v3m3 -3v3m3 -2v3m2 -3v3m1 -4v4m4 -4v3m1 -2v3m1 -4v3m1 -3v3m1 -2v3m1 -3v3m1 -4v4m1 -3v3m1 -4v4m1 -3v3m2 -4v4m2 -4v4m1 -4v3m1 -3v4m4 -4v3m1 -3v4m1 -4v5m1 -6v6m1 -5v5m1 -6v7m1 -8v8m1 -7v8m1 -11v10m1 -8v7m1 -10v12m1 -8v8m1 -11v9m1 -11v17m1 -14v12m1 -12v11m1 -12v12m1 -11v9m1 -10v8m1 -7v10m1 -9v7m1 -8v10m1 -9v8m1 -8v7m1 -5v4m1 -3v3m1 -4v4m1 -4v4m1 -4v3m2 -3v3m1 -3v4m2 -3v3m1 -4v3m3 -3v3m2 -2v3m2 -4v3m1 -2v3m1 -4v4m1 -4v4m1 -5v4m1 -3v4m1 -3v3m1 -4v3m2 -2v3m2 -3v3m1 -3v3m4 -4v4m1 -3v3m5 -4v3m1 -3v3m9 -3v3m1 -3v3m1 -2v3m2 -4v3m6 -2v3m4 -3v3m6 -3v3m2 -3v3m5 -4v3m1 -3v3m1 -3v3m2 -2v3m1 -4v3m1 -3v3m2 -2v3m3 -3v3m1 -4v4m5 -4v3m7 -2v3m2 -4v3m2 -3v4m7 -3v3m2 -4v4m2 -3v3m5 -3v3m1 -4v3m2 -3v3m1 -2v3m2 -4v4m2 -3v3m2 -3v3m4 -3v3m11 -4v3m2 -3v3m1 -2v3m2 -3v3m3 -3v3m3 -3v3m6 -3v3m4 -4v3m16 -2v3m1 -3v3m1 -4v3m1 -3v4m1 -5v7m1 -9v10m1 -10v11m1 -11v11m1 -14v13m1 -15v16m1 -14v13m1 -16v20m1 -18v18m1 -22v24m1 -16v13m1 -15v14m1 -11v11m1 -13v11m1 -10v11m1 -11v9m1 -9v9m1 -8v8m1 -8v8m1 -8v8m1 -7v6m1 -6v5m1 -4v5m1 -6v5m1 -4v4m1 -4v4m1 -3v3m1 -4v3m1 -3v3m1 -3v3m3 -3v3m17 -3v3m3 -3v3m4 -3v3m1 -2v3m5 -3v3m10 -3v3m1 -3v3m2 -4v3m14 -2v3m4 -3v3m3 -3v3m2 -3v3m2 -3v3m2 -4v3m2 -3v3m3 -3v3m8 -3v3m6 -2v3m8 -4v3m1 -3v4m2 -3v3m7 -3v3m6 -4v4m1 -4v3m2 -3v3m1 -2v3m2 -3v3m4 -3v3m6 -4v3m1 -3v4m4 -3v3m6 -3v3m2 -3v3m1 -3v3m6 -3v3m2 -4v3m2 -3v3m3 -3v3m1 -2v3m1 -3v3m10 -4v3m3 -3v3m1 -3v3m2 -3v3m9 -3v3m5 -3v3m4 -2v3m1 -3v3m4 -3v3m1 -4v3m1 -3v3m2 -3v4m4 -4v3m5 -2v3m1 -4v3m1 -3v4m1 -3v3m1 -4v3m1 -3v3m1 -2v3m3 -3v3m6 -4v4m1 -4v3m2 -2v3m2 -3v3m3 -4v4m1 -4v3m5 -2v3m2 -3v8m1 -8v3m4 -4v3m1 -2v3m11 -3v3m1 -3v3m1 -3v3m2 -3v3m5 -3v3m1 -3v3m3 -3v3m8 -4v3m4 -3v3m2 -2v3m2 -4v3m1 -3v3m5 -3v3m4 -2v3m3 -4v3m1 -2v3m1 -3v3m2 -3v3m1 -4v3m1 -2v3m8 -3v3m2 -4v4m2 -3v3m3 -3v3m1 -4v3m1 -2v3m3 -4v3m2 -3v3m1 -3v3m2 -3v3m2 -3v3m3 -3v3m3 -2v3m3 -4v3m1 -3v3m5 -3v4m3 -4v3m2 -3v3m4 -2v3m1 -4v3m1 -3v3m2 -2v3m2 -4v3m2 -3v3m2 -3v3m3 -3v3m1 -2v3m15 -3v3m2 -4v4m3 -4v3m1 -3v3m3 -3v3m4 -3v3m4 -3v4m1 -4v3m3 -2v3m4 -4v4m1 -4v6m1 -9v11m1 -11v10m1 -15v20m1 -16v11m1 -10v8m1 -6v5m1 -5v5m1 -3v3m5 -4v3m2 -3v4m6 -3v3m6 -4v4m1 -4v3m1 -3v4m1 -4v4m1 -4v4m1 -4v3m1 -3v3m5 -2v3m1 -4v3m4 -3v3m1 -3v3m1 -3v3m2 -3v3m5 -3v3m9 -2v3m2 -3v3m3 -4v3m5 -2v3m4 -4v4m1 -4v6m1 -6v5m1 -7v9m1 -9v9m1 -16v20m1 -16v12m1 -12v11m1 -7v10m1 -12v11m1 -10v9m1 -8v8m1 -7v6m1 -7v6m1 -5v5m1 -4v3m6 -4v3m9 -3v3m1 -3v4m1 -5v6m1 -6v5m1 -6v7m1 -6v7m1 -6v5m1 -6v6m1 -5v5m1 -5v4m1 -4v3m1 -3v3m1 -2v3m5 -3v3m1 -4v4m2 -3v3m3 -3v3m1 -4v3m4 -3v3m1 -2v3m1 -4v3m1 -3v3m1 -3v4m4 -4v3m1 -2v3m2 -4v3m3 -3v3m1 -2v3m5 -3v3m9 -3v3m1 -4v3m2 -3v3m3 -2v3m6 -4v3m3 -2v3"/>
<rect x="71" y="588" width="945" height="2" fill="#ff0033"/>
<path stroke="#ff0033" d="M576.5 587v3m1 -3v3m1 -3v4m1 -3v3m1 -4v5m1 -5v4m1 -4v4m1 -4v5m1 -6v6m1 -5v4m1 -3v4m1 -5v4m1 -4v3m1 -3v3m18 -2v3m1 -3v3m1 -5v6m1 -6v7m1 -7v5m1 -7v10m1 -10v11m1 -12v13m1 -11v10m1 -15v18m1 -14v12m1 -12v10m1 -8v7m1 -10v10m1 -7v6m1 -5v6m1 -7v5m1 -4v4m143 -4v4m178 -4v3m1 -3v3m1 -3v3m1 -3v4m1 -3v3m1 -4v4m1 -4v4m1 -5v4m1 -3v5m1 -5v4m1 -4v3m1 -3v4m1 -4v4m1 -4v3m1 -3v5m1 -5v4m1 -4v4m1 -3v3m1 -4v4m2 -3v3"/>
<rect x="71" y="602" width="945" height="2" fill="#0000ff"/>
<path stroke="#0000ff" d="M136.5 601v3m1 -2v3m1 -4v5m1 -6v7m1 -7v4m1 -4v6m1 -7v7m1 -7v8m1 -6v6m1 -7v6m1 -5v4m1 -3v3m1 -3v3m1 -4v3m11 -3v4m1 -3v3m1 -5v5m1 -7v7m1 -7v10m1 -10v9m1 -9v9m1 -9v10m1 -23v36m1 -25v12m1 -11v11m1 -10v10m1 -7v5m1 -6v7m1 -8v8m1 -7v6m1 -7v7m1 -5v4m270 -4v4m1 -4v5m1 -6v5m1 -7v7m1 -6v8m1 -9v9m1 -13v18m1 -14v11m1 -13v15m1 -14v13m1 -14v11m1 -8v8m1 -9v10m1 -9v7m1 -6v6m1 -6v5m1 -4v4m15 -3v3m1 -4v3m1 -3v4m2 -3v3m1 -5v5m1 -3v3m1 -4v4m3 -4v3m103 -2v3m1 -4v3"/>
<rect x="71" y="617" width="945" height="2" fill="#ff0033"/>
<path stroke="#ff0033" d="M72.5 616v3m1 -2v3m1 -4v4m2 -3v3m1 -4v4m1 -3v3m1 -4v3m4 -3v4m3 -3v3m1 -4v4m1 -4v3m1 -3v3m1 -3v3m2 -3v3m1 -3v3m2 -3v3m1 -3v4m2 -3v3m2 -4v4m3 -4v3m1 -3v3m1 -3v3m4 -2v3m1 -4v3m5 -2v3m1 -3v3m1 -4v3m1 -2v3m2 -4v3m1 -2v3m2 -4v4m1 -4v3m3 -3v3m1 -3v4m1 -4v3m1 -2v3m1 -3v3m2 -4v4m1 -3v3m1 -4v3m1 -3v3m1 -2v3m1 -4v3m1 -2v3m1 -4v4m1 -4v3m4 -3v3m2 -2v3m1 -3v3m2 -4v4m3 -4v4m1 -3v3m2 -4v4m1 -3v3m3 -4v3m1 -3v3m3 -3v4m1 -3v3m2 -3v3m3 -3v3m1 -4v3m2 -3v4m1 -4v4m1 -4v3m1 -3v3m3 -3v4m1 -3v3m2 -4v3m1 -3v3m4 -3v4m1 -3v3m2 -3v3m1 -4v3m3 -2v3m2 -4v4m6 -4v3m2 -2v3m2 -3v3m4 -4v3m2 -3v4m5 -4v4m1 -4v3m1 -3v3m1 -3v4m3 -3v3m1 -3v3m1 -3v3m6 -3v3m2 -3v3m2 -3v3m3 -3v3m2 -4v4m1 -3v3m1 -4v4m3 -4v3m1 -3v3m2 -3v4m3 -3v3m1 -4v3m2 -3v4m4 -3v3m1 -4v3m1 -3v4m1 -3v3m6 -3v3m1 -4v3m2 -2v3m6 -3v3m1 -4v3m1 -2v3m6 -3v3m1 -4v4m1 -4v3m2 -3v3m2 -3v3m2 -3v3m1 -3v3m1 -3v4m2 -4v3m2 -2v3m1 -4v3m1 -3v3m1 -2v3m3 -4v4m1 -4v4m2 -4v4m1 -5v6m1 -5v3m1 -3v4m1 -4v4m1 -3v3m1 -4v4m1 -4v3m2 -2v3m2 -4v4m2 -4v3m1 -3v4m5 -4v4m1 -4v3m2 -2v3m1 -4v3m1 -2v3m1 -4v4m2 -4v5m1 -5v6m1 -9v9m1 -7v6m1 -11v16m1 -12v11m1 -14v13m1 -11v10m1 -9v7m1 -8v7m1 -6v7m1 -6v5m1 -3v3m3 -4v4m3 -4v4m6 -4v3m2 -2v3m3 -4v3m1 -3v3m2 -3v3m1 -3v3m2 -3v4m1 -3v3m1 -4v3m1 -3v3m1 -2v3m1 -4v4m1 -3v3m4 -4v4m1 -4v3m2 -3v3m4 -2v3m1 -4v3m1 -2v3m2 -4v3m1 -3v4m2 -4v3m1 -2v3m1 -3v3m1 -4v4m1 -5v6m1 -5v4m1 -4v4m1 -4v4m2 -3v3m1 -4v3m1 -3v4m3 -4v4m1 -4v3m5 -2v3m3 -4v3m1 -2v3m1 -3v3m1 -4v4m2 -4v4m2 -3v3m1 -4v4m3 -3v3m3 -3v3m1 -4v3m1 -2v3m1 -4v3m1 -3v4m1 -4v3m1 -2v3m1 -3v3m2 -4v3m4 -2v3m2 -3v3m1 -3v3m2 -4v3m1 -3v3m2 -3v4m3 -4v3m1 -3v4m1 -3v3m1 -4v3m2 -2v3m1 -4v4m2 -4v4m1 -4v4m1 -4v4m2 -3v3m1 -3v3m6 -4v3m1 -2v3m1 -4v3m4 -3v3m1 -3v3m2 -2v3m2 -4v4m4 -4v4m4 -4v3m1 -3v3m1 -2v3m2 -3v3m3 -4v3m2 -2v3m1 -4v3m3 -2v3m3 -4v3m1 -3v4m2 -3v3m1 -4v4m1 -4v4m1 -4v4m2 -3v3m8 -4v4m1 -4v3m2 -3v3m1 -2v3m1 -3v3m1 -3v3m1 -4v4m3 -3v3m2 -4v3m1 -3v4m1 -3v3m1 -3v3m1 -4v4m1 -4v3m5 -2v3m3 -4v3m1 -2v3m2 -3v3m1 -4v3m2 -3v4m1 -3v3m1 -3v3m1 -3v3m2 -4v4m1 -4v3m1 -2v3m6 -4v3m2 -3v4m3 -4v4m3 -4v3m1 -2v3m1 -3v3m2 -4v3m5 -2v3m3 -4v4m4 -3v3m2 -4v4m1 -3v3m3 -4v3m1 -2v3m10 -4v3m1 -2v3m2 -3v3m2 -4v3m2 -3v3m1 -3v3m1 -3v3m4 -3v4m2 -3v3m1 -3v3m1 -4v3m1 -2v3m1 -3v3m1 -4v3m2 -3v3m1 -3v3m6 -3v3m2 -3v3m4 -3v3m2 -3v3m4 -3v3m3 -2v3m2 -4v3m2 -2v3m4 -4v3m1 -2v3m3 -4v4m1 -4v4m2 -3v3m1 -4v3m4 -3v3m2 -3v3m1 -3v4m1 -4v3m3 -3v3m1 -3v3m1 -2v3m1 -3v3m2 -3v3m1 -4v3m2 -2v3m1 -3v3m1 -3v3m1 -3v3m7 -4v4m2 -4v3m2 -3v3m1 -3v3m4 -3v3m2 -2v3m2 -4v3m1 -3v3m1 -3v3m1 -2v3m1 -4v3m1 -3v3m1 -3v3m2 -3v4m2 -4v4m1 -3v3m1 -4v3m1 -3v4m1 -4v3m1 -2v3m3 -3v3m2 -4v4m2 -4v4m2 -3v3m1 -4v3m3 -2v3m6 -4v3m1 -2v3m1 -4v4m1 -4v3m2 -2v3m1 -4v3m1 -3v3m2 -3v3m1 -3v3m2 -2v3m1 -4v3m2 -3v3m2 -3v4m1 -3v3m1 -4v4m1 -3v3m1 -3v3m1 -4v4m1 -4v4m1 -4v3m1 -3v3m1 -2v3m2 -4v3m1 -3v3m1 -3v4m3 -4v4m1 -4v4m1 -4v3m5 -2v3m2 -4v3m1 -3v3m2 -2v3m1 -3v3m2 -4v3m2 -2v3m1 -4v3m3 -2v3m3 -3v3m3 -3v3m3 -4v4m1 -3v3m2 -4v3m3 -3v4m1 -4v4m1 -3v3m1 -4v3m3 -2v3m2 -4v3m3 -3v3m2 -3v4m2 -3v3m2 -4v4m1 -4v3m1 -3v3m3 -3v4m1 -4v3m2 -3v3m2 -2v3m1 -4v3m1 -3v3m4 -2v3m3 -4v3m3 -2v3m2 -3v3m1 -4v3m1 -2v3m1 -3v3m3 -4v3m1 -3v4m3 -4v3m5 -2v3m2 -4v3m4 -2v3m8 -3v3m2 -3v3m1 -3v3m2 -4v4m1 -4v3m1 -2v3m2 -3v3m1 -4v3m5 -3v3m3 -2v3m2 -3v3m1 -4v4m1 -3v3m1 -3v3m5 -3v3m2 -4v4m1 -4v3m1 -2v3m2 -4v3m1 -3v3m1 -3v3m2 -2v3m2 -4v3m1 -3v4m1 -4v4m1 -4v4m1 -3v3m1 -3v3m1 -4v3m4 -2v3m4 -4v4m1 -3v3m1 -4v3m2 -2v3m5 -4v4m2 -4v3m2 -3v3m3 -3v4m3 -4v4m1 -4v4m5 -4v3m5 -2v3m1 -4v3m1 -3v3m2 -3v4m3 -4v4m1 -4v4m1 -4v3m2 -3v4m2 -3v3m2 -4v3m1 -3v4m7 -3v3m1 -4v3m4 -3v3m2 -3v3m1 -3v4m2 -4v3m2 -3v4m1 -3v3m1 -3v3m3 -3v3m2 -4v4m1 -4v3m3 -2v3m1 -3v3"/>
<rect x="71" y="631" width="945" height="2" fill="#0000ff"/>
<path stroke="#0000ff" d="M83.5 630v4m1 -4v4m1 -4v5m1 -5v6m1 -8v8m1 -7v6m1 -8v10m1 -8v7m1 -7v7m1 -7v5m1 -5v6m2 -4v3m19 -3v3m1 -5v5m1 -3v3"/>
<rect x="71" y="645" width="945" height="2" fill="#ff0033"/>
<path stroke="#ff0033" d="M310.5 644v4m1 -4v4m1 -5v6m1 -5v5m1 -5v4m1 -3v3m2 -4v4m620 -4v3m1 -3v4m1 -4v4m1 -5v5m1 -3v3m1 -3v3"/>
<rect x="71" y="660" width="945" height="2" fill="#0000ff"/>
<path stroke="#0000ff" d="M71.5 659v3m2 -2v3m2 -4v3m5 -2v3m1 -3v3m1 -3v3m1 -4v3m1 -2v3m1 -4v3m1 -2v3m1 -3v3m1 -3v3m1 -3v3m1 -4v3m1 -2v3m1 -4v3m2 -3v3m1 -3v4m1 -3v3m1 -4v4m2 -4v4m2 -3v3m1 -4v3m1 -3v4m1 -3v3m2 -3v3m1 -4v3m3 -3v3m1 -2v3m2 -4v3m2 -3v3m1 -3v4m1 -3v3m4 -3v3m1 -3v3m7 -3v3m2 -4v3m1 -3v4m4 -3v3m1 -3v3m1 -4v4m1 -4v3m1 -3v4m1 -4v5m1 -6v6m1 -6v5m1 -5v6m1 -6v6m1 -5v4m1 -5v5m1 -4v5m1 -5v3m1 -3v3m2 -3v4m1 -4v4m3 -4v3m1 -3v4m1 -3v3m1 -3v3m1 -3v3m1 -4v4m2 -4v3m2 -3v3m4 -2v3m1 -4v4m1 -4v3m2 -3v3m3 -3v3m2 -3v4m1 -3v3m1 -4v3m1 -3v3m2 -3v3m1 -3v3m1 -3v4m1 -4v4m1 -4v3m1 -3v4m2 -4v3m2 -3v3m1 -3v3m1 -2v3m2 -3v3m1 -4v4m1 -3v3m1 -4v3m2 -3v3m1 -3v3m1 -3v3m2 -2v3m1 -3v3m4 -4v3m5 -3v4m3 -3v3m1 -4v3m1 -3v3m3 -3v3m1 -2v3m4 -3v3m1 -4v3m6 -3v3m1 -3v3m1 -3v3m1 -2v3m1 -3v3m1 -4v3m1 -3v4m2 -4v3m1 -2v3m2 -3v3m1 -4v3m1 -2v3m1 -3v3m1 -4v3m2 -3v3m1 -2v3m1 -4v4m6 -4v3m3 -2v3m1 -4v3m1 -2v3m4 -4v3m1 -2v3m1 -3v3m1 -4v3m3 -2v3m1 -3v3m7 -4v3m3 -3v3m1 -2v3m1 -4v3m2 -3v3m1 -3v3m1 -3v3m2 -3v3m1 -2v3m4 -4v3m1 -2v3m3 -4v3m2 -2v3m1 -3v3m2 -3v3m2 -4v4m2 -4v3m1 -3v3m1 -3v3m4 -3v3m4 -2v3m1 -3v3m2 -3v3m1 -4v3m1 -2v3m4 -3v3m5 -4v3m1 -3v3m3 -3v3m1 -3v4m3 -4v3m1 -3v3m1 -2v3m2 -3v3m2 -4v3m2 -3v4m2 -4v4m1 -4v3m2 -3v3m1 -2v3m1 -3v3m1 -3v3m1 -3v3m1 -3v3m1 -4v4m3 -4v3m1 -3v3m1 -3v4m2 -3v3m4 -4v3m1 -3v3m3 -2v3m2 -3v3m2 -4v3m4 -3v3m5 -3v4m1 -3v3m1 -4v3m1 -3v3m1 -2v3m1 -3v3m1 -4v3m4 -2v3m1 -4v4m4 -3v3m1 -4v3m1 -3v4m1 -4v4m3 -3v3m1 -4v4m1 -3v3m1 -3v3m1 -4v3m3 -2v3m1 -4v3m4 -3v3m2 -3v3m2 -3v3m1 -3v4m1 -4v4m1 -4v3m1 -2v3m3 -4v3m1 -2v3m4 -4v4m2 -4v3m2 -2v3m1 -4v3m1 -2v3m2 -3v3m1 -4v3m1 -3v3m5 -3v3m1 -2v3m2 -3v3m2 -4v4m4 -3v3m1 -4v3m3 -3v3m5 -3v4m6 -3v3m1 -3v3m2 -4v3m1 -3v4m1 -4v3m2 -3v3m1 -2v3m1 -4v3m1 -3v3m1 -3v3m1 -3v4m1 -3v3m1 -4v3m2 -3v4m1 -3v3m2 -3v3m4 -3v3m2 -3v3m4 -3v3m5 -4v3m1 -3v4m3 -3v3m2 -4v3m2 -3v3m3 -2v3m1 -4v3m3 -2v3m1 -4v3m1 -2v3m1 -4v3m1 -2v3m1 -3v3m3 -4v3m1 -2v3m1 -3v3m1 -4v4m1 -3v3m1 -3v3m1 -4v4m1 -3v3m1 -4v3m1 -2v3m2 -3v3m1 -4v3m3 -2v3m8 -4v3m1 -3v4m1 -4v3m1 -2v3m2 -3v3m4 -4v4m2 -3v3m1 -4v3m1 -3v3m2 -3v3m1 -3v3m1 -3v3m2 -3v4m3 -3v3m1 -4v3m1 -2v3m2 -4v3m5 -3v4m3 -3v3m1 -4v3m1 -3v4m2 -3v3m1 -4v3m1 -2v3m5 -4v3m1 -3v4m2 -3v3m1 -3v3m1 -4v3m2 -2v3m1 -4v3m1 -3v3m1 -2v3m1 -3v3m1 -3v3m1 -3v3m2 -4v3m1 -2v3m1 -3v3m4 -4v3m2 -2v3m9 -4v3m2 -3v3m1 -2v3m1 -3v3m2 -4v4m1 -4v4m1 -3v3m3 -3v3m5 -4v3m3 -3v3m1 -2v3m1 -4v3m3 -2v3m1 -4v3m2 -3v4m2 -3v3m2 -4v3m1 -2v3m1 -4v3m1 -3v3m1 -3v3m1 -3v4m1 -4v3m1 -3v4m1 -4v3m1 -2v3m1 -3v3m1 -4v3m2 -3v3m2 -2v3m1 -4v3m3 -3v3m1 -3v3m1 -3v3m2 -2v3m1 -4v3m2 -3v4m1 -4v3m1 -2v3m1 -3v3m1 -4v3m2 -3v3m1 -3v3m1 -3v5m1 -5v4m1 -5v6m1 -7v8m1 -7v6m1 -7v9m1 -10v9m1 -6v5m1 -6v6m1 -5v4m1 -3v3m1 -4v3m1 -3v4m5 -4v3m3 -2v3m2 -4v3m1 -3v3m2 -2v3m3 -3v3m1 -3v3m1 -4v4m1 -3v3m3 -4v4m1 -4v4m4 -4v3m4 -2v3m1 -3v3m1 -4v3m1 -3v4m1 -4v3m2 -3v4m3 -3v3m1 -4v4m1 -4v3m1 -3v4m3 -4v3m2 -3v3m1 -2v3m1 -3v3m3 -4v3m2 -2v3m1 -4v4m2 -3v3m1 -4v3m3 -3v3m2 -2v3m2 -4v3m3 -2v3m1 -4v3m1 -3v3m2 -2v3m3 -3v3m6 -3v3m1 -4v3m2 -3v3m2 -2v3m1 -3v3m3 -4v3m2 -3v3m8 -3v3m1 -3v3m1 -3v3m1 -2v3m1 -4v3m1 -2v3m1 -4v3m3 -3v4m1 -3v3m1 -4v3m4 -2v3m1 -3v3m1 -4v3m1 -3v3m1 -2v3m1 -4v3m1 -3v3m1 -2v3m1 -3v3m1 -4v3m3 -3v3m6 -3v4m4 -4v3m1 -2v3m1 -4v3m1 -3v3m1 -3v4m1 -4v4m5 -4v4m1 -4v4m1 -3v3m2 -4v3m1 -3v3m2 -3v3m1 -2v3m1 -4v4m5 -4v3m2 -2v3m1 -4v3m1 -3v3m3 -2v3m5 -4v3m1 -2v3m1 -4v4m1 -3v3m2 -3v3m1 -3v3m3 -4v4m2 -3v3m2 -3v3m2 -3v3m1 -3v3m1 -4v4m1 -3v3m2 -4v3m1 -3v4m3 -4v4m1 -4v3m1 -3v3m1 -3v4m1 -3v3m1 -3v3m2 -3v3m1 -3v3m3 -4v3m1 -2v3m3 -3v3m1 -4v3m1 -2v3m1 -3v3m1 -3v3m2 -4v3m1 -2v3m3 -3v3m1 -4v3m1 -2v3m3 -4v3m1 -3v3m1 -3v4m2 -4v3m2 -3v3m1 -2v3m2 -4v3m2 -3v3m3 -3v4m2 -3v3m2 -3v3m2 -3v3m3 -4v4m2 -4v3m2 -3v3m2 -2v3m1 -3v3m2 -4v3m1 -2v3m1 -3v3m1 -4v3m3 -2v3m2 -3v3m1 -3v3m1 -4v3m1 -3v3m1 -2v3m1 -3v3m1 -4v4m1 -4v4m2 -4v3m1 -2v3m1 -3v3m1 -4v4m4 -4v3m1 -2v3m2 -4v3m1 -2v3m1 -4v4m3 -4v4m1 -4v3m2 -3v4m1 -4v4m3 -4v4m2 -4v3m1 -2v3"/>
<rect x="71" y="674" width="945" height="2" fill="#ff0033"/>
<path stroke="#ff0033" d="M276.5 673v4m5 -4v3m1 -2v3m1 -4v3m1 -2v3m1 -3v3m1 -4v3m1 -2v3m3 -4v3m3 -3v4m1 -4v4m1 -5v6m1 -6v6m1 -7v8m1 -8v7m1 -7v8m1 -7v6m1 -5v5m1 -5v4m91 -5v6m1 -6v6m1 -6v7m1 -8v9m1 -10v10m1 -12v14m1 -12v9m1 -8v8m1 -7v6m1 -6v7m1 -7v7m1 -5v3m1 -4v3m17 -3v3m2 -3v4m1 -4v4m1 -5v5m1 -4v5m1 -5v4m1 -4v3m350 -3v4m1 -4v5m1 -7v7m1 -4v5m1 -8v6m1 -6v7m1 -8v9m1 -8v8m1 -6v8m1 -14v14m1 -10v8m1 -7v6m1 -7v6m1 -5v5m1 -5v6m1 -5v3m1 -3v4m1 -4v4m103 -4v4m1 -5v5m1 -5v6m1 -7v7m1 -6v5m1 -5v6m1 -7v8m1 -8v8m1 -12v19m1 -15v9m1 -8v8m1 -10v9m1 -8v9m1 -9v8m1 -9v9m1 -9v9m1 -9v9m1 -7v8m1 -8v7m1 -7v6m1 -6v5m1 -4v5m1 -5v4m1 -4v4m1 -4v4m43 -4v3m1 -4v5m1 -6v7m1 -8v9m1 -11v14m1 -12v11m1 -10v7m1 -6v6m1 -5v4"/>
<rect x="71" y="688" width="945" height="2" fill="#0000ff"/>
<path stroke="#0000ff" d="M74.5 687v3m1 -3v5m1 -13v18m1 -13v10m1 -11v10m1 -10v12m1 -11v10m1 -7v4m5 -4v3m1 -2v3m8 -3v3m4 -3v3m2 -3v3m2 -4v4m6 -3v3m11 -5v5m1 -6v9m1 -11v10m1 -12v14m1 -14v17m1 -17v19m1 -21v20m1 -22v22m1 -19v19m1 -18v13m1 -9v9m1 -9v8m1 -9v10m1 -8v6m4 -4v3m5 -3v3m10 -3v3m2 -4v3m5 -2v3m16 -4v3m22 -2v3m2 -4v3m17 -2v3m1 -3v3m21 -4v3m3 -3v3m14 -2v3m24 -3v3m3 -4v3m8 -3v3m3 -3v3m17 -3v3m5 -3v3m5 -3v3m4 -2v3m10 -3v3m10 -4v4m1 -4v3m1 -4v7m1 -8v6m1 -5v6m1 -8v9m1 -8v8m1 -6v4m1 -10v16m1 -11v6m1 -6v4m1 -3v4m8 -3v3m2 -4v3m7 -3v3m9 -2v3m2 -3v3m5 -4v3m7 -3v3m5 -3v3m1 -3v3m3 -2v3m3 -3v3m1 -3v3m2 -3v3m10 -4v3m1 -3v3m24 -3v3m13 -2v3m2 -4v3m1 -3v3m8 -3v4m24 -4v4m9 -3v3m5 -3v3m1 -4v3m11 -3v3m10 -3v3m4 -3v4m1 -3v3m1 -3v3m5 -3v3m17 -4v3m5 -3v3m2 -2v3m4 -4v3m1 -3v3m2 -3v3m8 -3v3m2 -3v3m10 -2v3m4 -4v3m7 -2v3m3 -4v3m13 -2v3m11 -3v3m7 -3v3m1 -3v3m8 -3v3m1 -3v3m1 -4v4m2 -4v3m3 -3v3m3 -3v3m7 -3v3m7 -2v3m14 -4v3m34 -3v3m18 -3v4m1 -4v3m2 -2v3m14 -3v3m5 -4v3m3 -3v3m14 -3v3m1 -3v3m13 -3v4m1 -3v3m17 -4v3m9 -2v3m2 -4v3m15 -3v3m12 -3v3m4 -2v3m3 -4v3m2 -3v3m7 -3v3m3 -3v3m3 -3v3m3 -2v3m10 -4v3m9 -3v3m18 -3v4m1 -4v4m1 -4v5m1 -6v5m1 -5v4m1 -3v5m11 -5v4m2 -4v3m5 -2v3m2 -4v3m5 -3v3m3 -3v3m7 -2v3m8 -4v3m3 -2v3m8 -4v3m6 -2v3m5 -4v3m2 -3v3m18 -2v3m14 -4v3"/>
<rect x="71" y="703" width="945" height="2" fill="#ff0033"/>
<path stroke="#ff0033" d="M71.5 699v10m1 -7v4m1 -4v4m2 -4v4m1 -4v3m1 -2v3m1 -5v5m1 -4v3m1 -3v4m3 -4v3m1 -2v4m2 -5v4m1 -4v3m1 -2v4m1 -5v3m1 -2v3m1 -4v5m1 -5v3m1 -2v3m1 -4v3m1 -2v3m1 -4v3m1 -2v3m1 -4v3m1 -4v5m1 -5v4m1 -3v4m1 -3v3m1 -4v3m1 -3v4m1 -3v3m1 -3v3m1 -3v4m1 -4v3m2 -3v3m2 -3v3m1 -4v3m3 -3v4m2 -3v3m1 -3v3m1 -3v3m1 -3v4m2 -4v3m2 -4v3m1 -2v3m1 -4v4m1 -3v3m1 -3v3m1 -4v3m1 -2v3m1 -4v4m3 -3v3m2 -4v3m1 -3v3m2 -3v3m1 -3v4m1 -4v3m1 -3v3m1 -4v5m1 -4v3m1 -2v3m1 -5v5m1 -3v3m1 -3v3m1 -4v4m2 -4v4m2 -4v3m1 -3v3m1 -3v5m1 -5v4m1 -4v3m1 -2v3m1 -4v3m1 -3v5m1 -5v4m1 -3v3m1 -5v5m1 -4v3m1 -2v3m1 -4v4m1 -4v3m2 -3v4m2 -5v4m1 -2v4m2 -5v3m1 -2v3m1 -3v3m1 -4v4m3 -3v3m1 -4v4m1 -4v3m1 -4v4m2 -3v3m1 -2v3m4 -3v3m1 -4v3m1 -3v4m1 -4v3m2 -3v3m1 -3v5m1 -4v4m1 -4v3m1 -4v3m1 -3v3m2 -3v3m1 -2v3m1 -4v4m1 -3v3m1 -4v5m1 -6v4m2 -3v3m1 -3v4m2 -4v4m2 -4v4m2 -3v4m1 -5v4m1 -5v5m1 -4v4m1 -4v3m2 -4v5m1 -4v4m1 -4v3m1 -4v5m1 -4v4m2 -4v4m1 -3v3m1 -4v3m1 -3v4m1 -4v4m2 -5v5m1 -4v4m1 -3v3m1 -4v4m1 -4v4m1 -4v4m1 -5v5m1 -4v4m2 -4v3m1 -2v3m2 -3v4m1 -6v4m1 -3v3m1 -2v3m1 -3v3m2 -4v3m2 -2v3m2 -4v4m1 -4v4m1 -5v6m1 -9v12m1 -9v6m1 -5v4m1 -5v5m2 -4v3m1 -4v5m1 -3v3m1 -4v4m2 -4v4m2 -3v3m1 -3v4m1 -4v3m2 -3v3m2 -3v3m1 -4v3m2 -4v5m1 -4v4m1 -4v4m1 -4v3m2 -3v3m2 -2v3m1 -8v8m1 -3v3m1 -4v4m1 -3v3m1 -3v3m1 -4v4m1 -3v4m1 -5v3m1 -3v3m1 -3v5m1 -5v4m1 -5v4m1 -2v3m1 -4v3m1 -2v3m1 -3v3m1 -3v4m1 -5v3m1 -3v3m1 -3v3m1 -3v3m1 -3v4m1 -4v3m2 -2v3m1 -4v4m1 -3v4m1 -5v4m1 -3v4m3 -4v3m3 -4v4m1 -4v3m1 -4v5m4 -3v3m1 -3v3m1 -4v4m1 -4v4m1 -4v4m1 -3v3m1 -3v3m1 -3v3m1 -4v3m2 -4v5m1 -4v3m1 -2v3m1 -3v3m1 -4v3m1 -2v3m2 -4v4m1 -4v3m1 -4v5m1 -4v4m1 -5v4m2 -3v4m1 -4v3m1 -4v6m2 -5v4m1 -4v4m1 -3v3m1 -4v5m1 -5v4m1 -3v3m3 -3v3m1 -4v4m2 -4v4m1 -4v4m1 -4v4m1 -4v3m2 -3v4m1 -3v3m1 -3v3m1 -4v5m1 -5v4m1 -4v4m1 -3v3m1 -4v3m1 -3v5m1 -5v4m1 -4v4m1 -4v3m1 -2v3m1 -4v4m1 -4v3m1 -3v4m1 -4v3m1 -2v3m2 -3v4m1 -5v3m3 -2v3m3 -3v3m1 -3v4m1 -4v3m1 -3v3m1 -4v3m1 -2v3m1 -3v3m1 -4v3m3 -3v3m2 -3v3m2 -2v3m2 -5v4m1 -3v3m1 -2v3m1 -4v3m1 -3v3m1 -3v4m1 -4v4m1 -3v3m3 -3v4m1 -6v4m1 -3v4m1 -4v3m1 -3v4m1 -3v3m2 -3v3m1 -4v4m1 -4v4m5 -4v4m2 -4v3m1 -3v4m1 -3v3m2 -5v4m1 -2v3m1 -3v3m1 -5v5m1 -5v6m2 -4v3m1 -4v4m1 -4v3m1 -3v3m1 -3v5m1 -5v3m1 -3v3m1 -3v3m1 -2v3m1 -4v3m1 -3v4m2 -4v3m2 -2v3m2 -4v3m1 -3v5m1 -5v4m1 -4v4m1 -3v3m1 -3v3m1 -4v3m1 -2v3m2 -4v4m1 -5v4m1 -3v3m1 -2v3m1 -4v4m1 -4v4m1 -5v7m1 -6v4m1 -5v6m1 -5v4m1 -4v4m1 -3v3m1 -3v3m1 -4v3m2 -2v3m1 -4v3m1 -3v4m2 -4v3m4 -3v4m1 -4v4m3 -4v5m1 -5v3m1 -3v4m1 -4v3m1 -2v3m1 -4v5m1 -6v6m1 -6v6m1 -5v5m1 -4v3m1 -3v4m1 -4v3m2 -4v3m2 -3v4m1 -4v3m1 -2v3m1 -4v4m3 -4v4m1 -3v3m2 -4v3m1 -3v3m1 -3v3m1 -3v3m1 -2v4m3 -5v3m1 -3v3m1 -3v4m1 -3v3m1 -4v3m1 -2v3m1 -4v4m1 -3v3m1 -3v3m2 -3v3m1 -3v3m1 -4v3m1 -2v3m1 -5v4m1 -3v4m3 -3v3m1 -4v3m1 -3v4m1 -4v4m1 -4v3m1 -2v3m2 -5v5m1 -4v4m1 -6v7m1 -7v8m1 -9v10m1 -9v10m1 -10v10m1 -10v7m1 -8v10m1 -7v4m1 -5v7m1 -6v5m1 -6v5m1 -4v4m1 -4v3m2 -3v4m1 -3v3m1 -3v3m2 -4v4m1 -3v4m2 -5v4m2 -3v4m1 -5v3m1 -3v4m1 -4v3m1 -3v4m1 -5v5m1 -3v3m1 -3v3m1 -4v5m1 -5v3m3 -4v4m1 -3v3m1 -3v3m1 -2v3m2 -3v3m1 -3v3m1 -4v3m3 -2v3m2 -3v3m1 -3v3m1 -4v4m1 -4v4m1 -3v3m1 -4v3m1 -3v5m1 -6v6m1 -7v8m1 -9v9m1 -9v10m1 -8v7m1 -7v7m1 -6v5m1 -6v5m1 -4v3m1 -2v3m1 -4v4m1 -5v4m1 -2v3m1 -3v3m1 -4v5m1 -5v4m1 -4v4m1 -4v4m1 -4v4m1 -3v3m1 -4v4m1 -4v3m1 -2v4m3 -5v4m1 -3v3m3 -3v3m1 -4v5m1 -5v4m1 -4v4m2 -3v3m1 -3v3m1 -3v3m1 -4v3m2 -3v3m2 -4v6m1 -6v7m1 -7v6m2 -6v5m1 -4v4m1 -4v4m1 -4v3m1 -3v3m3 -3v4m3 -3v3m1 -3v3m1 -4v4m3 -5v5m1 -4v4m1 -4v4m1 -5v6m1 -5v5m1 -7v8m1 -10v11m1 -10v10m1 -9v9m1 -8v7m1 -6v5m1 -6v6m1 -5v5m1 -5v3m3 -2v3m1 -4v4m1 -4v3m2 -2v3m1 -3v3m1 -3v3m1 -4v4m1 -4v3m1 -3v3m1 -3v5m1 -5v4m1 -4v4m2 -5v5m4 -3v3m1 -4v3m1 -3v4m1 -3v3m1 -4v3m1 -3v4m2 -4v4m1 -3v4m1 -5v3m1 -3v4m1 -4v3m1 -3v4m1 -3v3m1 -4v5m1 -7v8m1 -9v7m1 -7v10m1 -11v12m1 -12v14m1 -12v10m1 -10v9m1 -9v8m1 -7v6m1 -4v3m2 -4v3m2 -3v3m1 -3v4m3 -4v4m2 -4v4m1 -4v3m1 -2v3m1 -4v3m1 -3v4m1 -4v3m1 -3v3m1 -2v3m2 -3v3m2 -5v5m2 -4v3m1 -2v3m1 -4v3m1 -3v3m1 -3v3m1 -2v3m1 -3v3m1 -4v4m1 -4v3m1 -3v3m1 -3v4m1 -4v4m1 -4v3m1 -3v4m1 -3v3m1 -4v4m2 -4v4m3 -3v4m1 -4v3m1 -4v3m2 -3v4m1 -3v3m1 -3v3m1 -4v4m1 -4v4m1 -3v3m1 -4v4m3 -4v4m1 -4v4m1 -4v3m1 -2v3m2 -4v3m1 -2v3m2 -3v3m1 -4v4m1 -3v3m2 -3v3m1 -3v4m1 -4v3m1 -4v4m1 -5v6m1 -6v7m1 -8v10m1 -13v12m1 -10v10m1 -12v12m1 -13v15m1 -29v47m1 -32v16m1 -15v14m1 -15v14m1 -14v14m1 -12v9m1 -10v12m1 -11v10m1 -8v7m1 -8v7m1 -5v4m1 -4v4m1 -3v3m1 -3v3m1 -3v3m1 -4v5m1 -4v3m1 -4v4m2 -4v4m1 -4v3m1 -2v3m1 -3v3m1 -4v3m1 -2v4m2 -5v5m1 -5v3m1 -2v3m1 -5v5m1 -4v3m1 -3v4m2 -4v4m2 -3v3m1 -3v3m1 -4v3m1 -2v4m1 -4v3m2 -3v3m3 -4v4m1 -4v4m1 -3v3m1 -6v8m1 -10v11m1 -10v11m1 -13v13m1 -12v10m1 -14v15m1 -13v16m1 -13v12m1 -12v11m1 -11v10m1 -8v7m1 -6v4m1 -3v3m1 -4v3m2 -3v3m1 -2v3m1 -4v4m1 -3v3m2 -3v3m1 -4v3m1 -3v4m2 -4v4m1 -3v3m1 -4v3m1 -2v3m1 -4v4m2 -4v4m3 -4v3m1 -3v3m3 -3v3m1 -3v4m1 -5v4m1 -3v4m1 -6v7m1 -8v9m1 -7v7m1 -10v10m1 -10v12m1 -14v16m1 -15v15m1 -16v15m1 -12v11m1 -10v8m1 -8v8m1 -7v6m1 -5v3m1 -3v4m1 -3v3m1 -3v3m1 -3v3m1 -4v3m1 -2v3m1 -4v3m1 -3v4m1 -4v3m1 -2v3m1 -4v3m1 -3v3m1 -3v4m1 -4v4m2 -4v4m2 -4v4m1 -4v3m1 -3v4m1 -4v4m1 -5v5m1 -5v6m1 -7v8m1 -8v9m1 -10v7m1 -7v11m1 -14v12m1 -8v10m1 -15v17m1 -18v16m1 -15v17m1 -15v13m1 -13v14m1 -13v10m1 -8v8m1 -12v15m1 -11v11m1 -12v11m1 -11v11m1 -10v6m1 -6v8m1 -7v5m1 -54v78m1 -56v50m1 -22v5m1 -4v3m3 -4v3m1 -3v4m1 -4v4m1 -4v4m1 -4v3m1 -3v3m1 -3v3m1 -4v4m1 -3v3m1 -3v4m2 -3v3m1 -4v3m1 -3v3m1 -3v4m1 -3v4m2 -4v3m1 -4v4m1 -4v5m1 -4v4m1 -5v5m1 -6v6m1 -9v11m1 -9v9m1 -8v5m2 -3v3m1 -4v4m1 -5v4m1 -3v3m1 -4v5m1 -5v8m1 -11v12m1 -13v13m1 -11v10m1 -10v10m1 -7v4m1 -4v3m1 -2v3m2 -5v5m2 -4v4m1 -3v4m1 -7v8m1 -8v8m1 -7v8m1 -7v9m1 -13v10m1 -10v12m1 -11v11m1 -9v6m1 -6v6m1 -5v4"/>
<rect x="71" y="717" width="945" height="2" fill="#0000ff"/>
<path stroke="#0000ff" d="M71.5 714v7m1 -5v4m1 -5v6m1 -8v7m1 -5v7m1 -10v11m1 -10v9m1 -10v14m1 -16v15m1 -14v13m1 -16v19m1 -64v111m1 -65v20m1 -19v19m1 -14v11m1 -16v16m1 -12v12m1 -12v8m1 -10v11m1 -9v10m1 -9v7m1 -8v7m1 -6v4m1 -2v4m1 -5v4m1 -4v4m1 -4v4m1 -4v4m1 -6v8m1 -7v7m1 -8v8m1 -9v9m1 -8v9m1 -9v10m1 -10v10m1 -10v9m1 -11v12m1 -11v11m1 -9v5m1 -5v6m1 -7v8m1 -6v6m1 -7v6m1 -6v6m1 -5v4m1 -4v4m1 -5v5m1 -6v5m1 -3v3m1 -4v4m1 -108v169m2 -65v7m1 -6v3m1 -5v8m1 -9v11m1 -14v15m1 -15v13m1 -13v17m1 -16v15m1 -16v15m1 -13v10m1 -7v6m1 -5v4m2 -3v5m1 -8v5m2 -5v8m1 -6v3m1 -3v4m1 -4v4m1 -5v6m1 -5v6m1 -6v4m1 -5v6m1 -6v5m1 -6v8m1 -6v5m1 -7v8m1 -10v11m1 -8v7m1 -6v7m1 -8v7m1 -8v8m1 -7v5m1 -6v7m1 -6v5m1 -5v5m1 -5v4m1 -3v5m2 -6v6m1 -5v5m1 -5v6m2 -7v5m1 -4v6m1 -6v3m1 -3v3m1 -5v5m1 -3v7m1 -48v105m1 -66v9m1 -11v10m1 -10v10m1 -9v12m1 -16v16m1 -16v13m1 -34v50m1 -30v21m1 -23v19m1 -15v22m1 -21v17m1 -21v21m1 -18v16m1 -14v17m1 -20v17m1 -15v12m1 -12v14m1 -12v11m1 -11v10m1 -10v8m1 -7v6m1 -5v5m2 -4v4m1 -6v6m1 -5v6m2 -5v6m1 -6v3m1 -2v4m1 -5v6m1 -5v4m1 -4v5m1 -6v3m1 -4v4m1 -4v8m1 -9v5m1 -4v5m1 -5v4m1 -3v3m1 -4v5m1 -4v6m1 -5v3m1 -4v4m1 -4v3m1 -4v6m1 -4v4m1 -5v5m1 -5v3m1 -5v6m1 -4v4m1 -4v3m1 -5v8m1 -5v4m1 -6v7m1 -7v7m1 -9v8m1 -8v9m1 -8v8m1 -9v11m1 -11v9m1 -7v10m1 -13v13m1 -14v13m1 -13v13m1 -12v14m1 -14v11m1 -9v9m1 -10v11m1 -9v5m1 -6v7m1 -6v6m1 -6v5m1 -6v7m1 -5v5m1 -6v6m1 -5v6m1 -7v6m1 -6v5m1 -4v5m1 -6v5m1 -5v6m1 -5v3m1 -4v6m1 -4v3m1 -4v3m2 -4v6m1 -5v6m1 -9v9m1 -9v11m1 -11v9m1 -9v9m1 -7v6m1 -6v6m1 -7v7m1 -7v7m1 -5v5m1 -5v4m1 -5v7m1 -8v5m1 -3v3m1 -5v6m2 -4v3m1 -6v9m1 -7v7m1 -5v3m2 -6v5m1 -2v5m1 -6v6m1 -8v6m1 -4v5m1 -7v6m1 -6v6m1 -5v6m1 -7v9m1 -9v9m1 -8v8m1 -10v10m1 -11v13m1 -11v10m1 -12v13m1 -15v16m1 -15v12m1 -15v19m1 -17v14m1 -10v13m1 -14v12m1 -13v12m1 -10v8m1 -10v11m1 -12v12m1 -9v9m1 -10v9m1 -8v8m1 -8v6m1 -6v8m1 -6v6m1 -6v4m1 -4v4m1 -5v7m2 -6v4m2 -4v6m1 -7v7m1 -8v7m1 -5v6m1 -5v5m1 -6v6m1 -6v5m1 -7v8m2 -6v4m1 -4v3m1 -4v5m1 -6v8m1 -7v5m2 -4v3m1 -4v8m1 -9v6m1 -6v8m1 -10v11m1 -11v13m1 -28v43m1 -28v16m1 -15v12m1 -15v18m1 -28v33m1 -23v13m1 -11v12m1 -12v13m1 -27v42m1 -24v6m1 -7v5m1 -6v5m1 -5v5m1 -5v7m1 -4v4m1 -4v4m1 -4v3m1 -3v3m1 -4v3m1 -3v4m1 -12v20m1 -11v4m1 -6v5m1 -4v7m1 -9v8m1 -6v4m1 -3v3m1 -5v5m1 -4v5m1 -7v7m1 -6v7m1 -5v4m1 -4v3m1 -4v6m1 -5v5m2 -5v5m1 -7v6m1 -5v4m1 -6v6m1 -7v6m1 -4v5m1 -5v6m1 -5v4m1 -5v6m1 -4v4m1 -6v5m1 -4v5m1 -6v4m2 -2v5m1 -5v4m1 -4v5m1 -5v3m1 -6v7m1 -7v8m1 -8v8m1 -11v12m1 -12v13m1 -11v13m1 -13v13m1 -17v16m1 -15v15m1 -13v15m1 -14v8m1 -27v44m1 -24v11m1 -30v45m1 -28v11m1 -25v38m1 -22v7m1 -7v6m1 -7v8m1 -6v6m1 -7v8m1 -7v6m1 -6v6m1 -6v5m1 -4v5m1 -6v5m1 -4v4m1 -4v5m1 -5v3m1 -4v4m1 -3v5m3 -7v5m1 -3v6m1 -7v7m1 -5v4m1 -5v5m1 -6v7m1 -8v6m1 -5v7m1 -8v8m1 -7v7m1 -8v6m1 -5v5m1 -3v3m1 -3v3m1 -5v7m1 -7v4m1 -2v4m1 -4v4m1 -5v4m1 -3v3m1 -4v3m1 -3v5m1 -6v4m1 -2v4m1 -5v4m1 -4v3m1 -5v7m1 -5v6m1 -7v7m2 -6v3m1 -5v7m1 -7v8m1 -16v24m1 -16v9m1 -10v13m1 -14v12m1 -12v12m1 -14v16m1 -12v13m1 -14v13m1 -12v11m1 -13v10m1 -8v8m1 -8v8m1 -8v6m1 -6v7m1 -7v7m1 -5v4m1 -4v5m1 -6v6m1 -7v6m1 -4v6m1 -7v6m1 -5v5m1 -7v8m1 -7v7m1 -8v7m1 -6v5m1 -5v6m1 -4v4m1 -5v6m1 -8v5m1 -3v4m1 -4v4m1 -5v4m2 -2v4m1 -7v8m1 -7v5m1 -6v6m1 -3v3m1 -4v5m1 -6v6m1 -4v3m1 -6v6m1 -5v4m1 -3v6m1 -6v4m1 -3v3m1 -6v6m1 -5v4m1 -4v5m1 -5v4m1 -4v5m1 -6v7m1 -5v3m1 -3v3m1 -4v6m1 -5v5m1 -7v7m1 -4v5m1 -6v3m1 -3v3m1 -4v6m1 -7v9m1 -9v8m1 -7v6m1 -5v3m1 -2v5m1 -6v4m1 -3v3m1 -5v6m2 -6v6m1 -6v4m1 -5v6m1 -3v3m1 -4v7m1 -8v4m1 -4v4m1 -4v4m1 -2v4m1 -6v6m1 -4v5m1 -7v4m1 -3v4m1 -5v7m1 -20v29m1 -14v3m2 -3v5m1 -6v3m1 -5v6m1 -3v4m1 -6v4m1 -3v4m1 -3v3m2 -4v4m1 -6v8m1 -8v5m1 -3v3m1 -3v5m1 -5v4m1 -3v3m1 -6v5m1 -4v6m1 -4v4m1 -5v5m1 -6v6m1 -7v5m1 -5v6m1 -4v4m1 -4v3m1 -4v5m1 -3v4m1 -5v4m2 -5v5m1 -4v4m1 -5v5m1 -3v4m1 -7v9m1 -9v6m1 -6v7m1 -7v7m2 -5v6m1 -6v5m1 -6v6m1 -7v8m1 -8v7m1 -7v6m1 -4v4m1 -4v5m1 -5v5m1 -8v8m1 -6v5m1 -5v5m1 -3v3m1 -5v7m1 -7v5m1 -4v3m1 -4v5m1 -6v5m1 -3v3m1 -2v4m1 -6v7m1 -6v3m1 -4v5m1 -3v5m1 -5v5m1 -7v4m1 -3v6m1 -7v6m1 -4v5m1 -8v9m1 -10v9m1 -8v10m1 -13v11m1 -14v28m1 -23v9m1 -14v19m1 -17v14m1 -11v10m1 -11v11m1 -12v11m1 -9v9m1 -8v9m1 -7v6m1 -8v6m1 -3v5m1 -6v5m2 -4v4m1 -5v4m1 -5v7m1 -7v7m1 -5v5m1 -7v7m2 -8v7m1 -4v5m1 -7v5m1 -5v4m2 -3v3m1 -3v3m1 -2v3m1 -5v8m1 -6v3m1 -4v3m1 -3v4m1 -3v4m1 -5v5m1 -4v4m1 -5v4m1 -4v4m1 -4v3m1 -4v6m3 -6v6m1 -5v5m1 -4v5m1 -5v4m1 -6v7m1 -10v10m1 -10v10m1 -9v9m1 -8v8m1 -8v7m1 -12v18m1 -13v12m1 -12v12m1 -13v11m1 -12v10m1 -10v12m1 -10v8m1 -8v7m1 -6v6m1 -6v6m1 -7v7m1 -6v5m1 -6v5m1 -3v4m1 -3v4m1 -7v6m1 -4v4m1 -5v7m1 -7v5m1 -5v6m2 -5v4m1 -4v3m1 -3v4m1 -6v7m2 -6v6m1 -4v5m1 -8v7m1 -9v14m1 -14v12m1 -11v11m1 -10v8m1 -8v8m1 -15v18m1 -14v10m1 -9v13m1 -11v10m1 -11v11m1 -9v8m1 -8v7m1 -7v6m1 -5v5m1 -5v4m1 -5v6m2 -5v3m2 -3v4m1 -3v5m2 -5v3m1 -3v3m1 -5v5m1 -4v4m1 -5v6m1 -7v7m1 -5v5m1 -6v7m1 -8v8m1 -5v3m1 -4v4m1 -5v4m2 -2v6m1 -8v5m1 -4v5m1 -5v5m1 -6v7m2 -7v6m1 -6v5m1 -4v3m1 -2v3m1 -6v6m1 -5v7m1 -8v5m1 -6v8m1 -4v3m1 -3v5m1 -6v3m1 -2v3m1 -5v8m1 -6v3m1 -6v7m1 -5v5m1 -4v4m2 -6v4m1 -3v5m1 -5v5m1 -6v7m1 -9v9m1 -8v9m1 -11v11m1 -11v12m1 -13v12m1 -13v15m1 -15v16m1 -16v17m1 -16v13m1 -13v14m1 -11v12m1 -16v14m1 -10v11m1 -9v7m1 -10v8m1 -6v6m1 -7v7m1 -6v7m1 -8v8m1 -8v6m1 -3v5m1 -6v3m1 -5v5m1 -4v4m1 -3v4m2 -3v4m1 -5v4m1 -4v4m1 -5v4m1 -4v4m1 -2v5m1 -7v5m3 -4v4m1 -6v6m1 -4v4m1 -3v3m1 -5v7m1 -8v6m1 -6v6m1 -5v6m1 -6v6m1 -7v9m1 -7v6m1 -7v7m1 -8v7m1 -5v4m3 -4v5m1 -6v7m1 -5v4m1 -7v8m1 -6v3m1 -5v7m1 -6v5m1 -4v4m1 -4v5m1 -7v6m1 -3v4m1 -5v3m1 -4v5m1 -5v4m1 -4v5m1 -5v7m1 -7v6m1 -6v8m1 -12v12m1 -11v11m1 -9v8m1 -7v5m1 -4v4m1 -3v3m1 -4v4m1 -3v5m1 -5v4m1 -4v4m1 -6v6m1 -5v3m1 -2v3m1 -4v4m1 -3v3m1 -5v5m1 -3v3m1 -3v3m1 -5v6m1 -5v5m1 -6v4m1 -2v3m2 -3v4m1 -5v3m1 -3v3m1 -6v6m1 -2v5m1 -8v7m1 -8v7m1 -4v3m1 -2v4m1 -7v6m1 -4v4m1 -4v3m1 -4v4m1 -4v5m1 -5v4m1 -3v6m1 -6v4m1 -5v5m1 -6v6m1 -5v6m1 -7v7m1 -7v9m1 -10v7m1 -5v7m1 -8v8m1 -7v6m1 -5v4m1 -5v5m1 -4v3m1 -3v5m1 -5v3m1 -3v5m1 -4v3m1 -4v3m1 -4v4m1 -3v3m1 -4v5m1 -4v6m1 -5v3m1 -7v10m1 -7v7m1 -9v6m2 -5v6m1 -6v4m1 -4v4m1 -6v6m1 -2v3m1 -4v6m1 -5v3m1 -3v5m1 -7v7m1 -7v5m1 -4v5m1 -5v6m1 -6v6m1 -5v3m1 -4v6m1 -8v8m1 -9v6m1 -2v3m2 -3v3m1 -5v7m1 -8v5m1 -2v6m1 -9v7m1 -4v3m1 -3v5m1 -8v8m1 -5v3m1 -5v6m1 -6v7m1 -8v9m1 -9v8m1 -8v9m1 -8v8m1 -11v10m1 -7v7m1 -8v7m1 -6v6m1 -6v6m1 -5v4m1 -5v7m1 -6v6m1 -6v3m1 -3v3m1 -4v5m1 -4v3m1 -3v3m1 -4v7m1 -5v3m1 -4v6m1 -6v4m1 -3v4m1 -5v5m1 -6v4m1 -5v8m1 -7v6m1 -5v4m1 -6v6m1 -4v4m1 -5v4m1 -2v5m1 -5v3m2 -4v3m1 -5v7m1 -8v9m1 -8v7m1 -5v4m1 -6v5m1 -3v5m2 -7v5m1 -6v9m1 -6v3m1 -4v5m1 -3v3m1 -3v3m1 -4v4m1 -3v3m1 -4v5m1 -4v4m2 -5v5m1 -5v4m1 -4v5m2 -5v3m2 -2v3m1 -4v4m1 -5v4m1 -4v5m1 -3v4m1 -6v5m2 -3v3m1 -6v6m1 -3v4m1 -4v3m1 -5v4m1 -3v5m2 -7v6m1 -3v6m1 -7v4m1 -3v3m1 -4v3m1 -2v5m1 -8v8m1 -9v9m1 -8v6m1 -4v3m1 -3v5m1 -5v3m1 -2v4m1 -6v9m1 -10v10m1 -8v6"/>
<rect x="71" y="731" width="945" height="2" fill="#ff0033"/>
<path stroke="#ff0033" d="M71.5 722v15m1 -12v14m1 -14v10m1 -8v10m1 -9v9m1 -9v7m1 -6v6m1 -6v6m1 -5v4m1 -4v4m1 -4v3m1 -2v3m1 -4v4m5 -3v3m2 -3v3m1 -3v4m1 -6v4m1 -3v4m1 -3v4m1 -4v3m1 -4v4m1 -3v4m1 -5v3m1 -4v4m2 -3v4m2 -4v3m1 -2v3m1 -4v5m1 -4v4m1 -5v3m1 -4v5m1 -4v4m1 -3v3m1 -5v6m1 -6v4m1 -2v4m2 -6v4m1 -2v3m1 -4v4m2 -4v5m1 -6v5m1 -4v3m1 -4v6m1 -6v5m1 -3v3m1 -4v5m1 -5v5m1 -5v3m1 -3v4m1 -5v4m1 -3v3m1 -4v6m1 -5v4m1 -3v3m1 -5v5m1 -3v3m1 -3v3m1 -4v3m1 -3v4m1 -3v4m2 -4v4m1 -6v4m2 -4v4m2 -4v4m1 -3v3m1 -3v4m1 -4v3m1 -4v4m1 -3v3m1 -3v4m1 -5v5m1 -3v3m1 -4v3m1 -4v5m1 -5v6m1 -6v6m1 -6v6m1 -6v6m1 -7v8m1 -8v9m1 -8v6m1 -5v4m1 -6v8m1 -7v7m1 -6v3m1 -3v4m1 -5v5m1 -4v4m1 -3v3m1 -4v4m1 -4v4m1 -4v4m1 -5v4m1 -4v4m1 -4v5m1 -4v3m1 -2v3m1 -4v3m1 -2v4m1 -4v4m2 -4v3m1 -3v3m2 -5v5m1 -5v5m1 -3v3m1 -4v3m2 -4v6m1 -4v3m1 -3v3m1 -5v5m1 -3v3m1 -4v4m1 -4v4m2 -4v4m2 -5v5m2 -4v3m1 -4v6m2 -6v5m1 -4v4m1 -4v4m1 -4v3m1 -2v3m1 -5v5m1 -5v6m1 -5v3m1 -2v4m1 -5v4m2 -5v6m1 -4v3m1 -5v5m2 -3v3m1 -5v6m1 -5v3m1 -3v3m1 -3v3m1 -3v3m1 -4v4m2 -3v3m1 -2v3m1 -4v3m2 -4v4m1 -3v3m1 -2v4m1 -4v3m2 -5v5m1 -5v4m1 -4v5m1 -4v3m1 -3v4m1 -4v4m1 -3v3m1 -3v4m1 -4v3m1 -3v4m1 -5v3m1 -3v4m1 -5v4m1 -4v5m3 -4v5m3 -5v3m2 -2v3m1 -4v3m1 -4v4m1 -3v4m1 -3v3m1 -5v5m1 -5v5m2 -4v4m1 -5v5m1 -3v3m1 -3v3m2 -4v3m1 -3v3m1 -4v4m1 -3v4m1 -4v3m1 -2v3m1 -5v5m1 -3v4m1 -6v4m1 -3v4m1 -4v5m1 -5v3m3 -2v3m1 -3v4m1 -6v5m1 -4v4m1 -5v5m1 -5v4m2 -2v4m1 -4v4m1 -5v5m1 -5v3m1 -3v4m1 -4v3m2 -3v4m1 -5v4m1 -3v3m1 -3v3m1 -2v3m1 -4v3m1 -2v4m3 -4v3m1 -4v4m1 -4v3m1 -2v3m1 -4v4m1 -3v4m1 -4v4m1 -5v3m2 -3v4m2 -4v3m1 -3v3m2 -4v5m1 -3v3m1 -5v5m1 -4v4m1 -5v5m1 -5v4m1 -3v3m1 -2v4m1 -6v6m1 -5v5m1 -6v5m1 -5v5m1 -4v5m1 -7v7m1 -7v7m1 -6v5m1 -3v4m1 -5v4m2 -4v3m1 -3v3m2 -3v3m1 -3v4m1 -3v3m2 -3v3m1 -3v3m1 -4v4m1 -4v4m1 -4v3m2 -3v3m1 -3v4m1 -4v3m1 -2v3m1 -4v3m1 -2v4m1 -4v3m1 -3v4m2 -5v3m1 -2v4m2 -5v4m2 -3v3m1 -4v3m2 -2v3m1 -4v3m1 -4v4m1 -2v3m1 -4v5m2 -5v4m1 -4v3m1 -4v4m2 -3v3m1 -2v3m1 -4v4m1 -3v4m2 -6v5m1 -5v6m1 -4v4m1 -6v6m1 -4v3m1 -4v3m1 -4v4m2 -2v3m1 -5v5m1 -5v5m1 -4v5m1 -5v4m1 -5v5m1 -4v6m1 -8v8m1 -7v7m1 -7v7m1 -6v5m2 -5v3m1 -3v4m1 -5v6m1 -5v4m1 -4v3m1 -4v4m1 -2v3m1 -5v6m1 -4v3m1 -5v4m1 -3v3m1 -3v3m1 -4v6m1 -4v3m1 -3v3m1 -3v4m1 -6v4m1 -4v4m1 -3v4m1 -4v3m4 -4v5m1 -3v4m1 -4v3m1 -4v3m1 -2v3m1 -4v4m1 -5v6m1 -5v3m1 -2v4m1 -5v4m2 -3v3m1 -3v3m1 -4v3m1 -2v3m1 -5v4m1 -4v5m1 -4v3m1 -3v3m1 -2v3m1 -3v4m1 -4v3m1 -4v3m1 -2v4m1 -4v3m1 -3v3m1 -3v4m2 -4v3m1 -4v4m1 -6v8m1 -10v11m1 -15v22m1 -19v14m1 -19v21m1 -17v16m1 -14v11m1 -8v9m1 -8v4m1 -4v4m1 -4v4m1 -4v3m1 -2v3m1 -3v3m1 -5v4m1 -2v3m1 -4v4m1 -3v4m1 -6v4m1 -3v4m2 -4v4m2 -4v3m1 -4v5m1 -4v3m1 -3v4m2 -3v3m1 -4v3m1 -3v4m1 -4v3m1 -4v5m1 -4v4m1 -4v3m1 -3v4m1 -5v6m1 -6v6m1 -7v8m1 -7v7m1 -10v11m1 -8v6m1 -6v5m1 -4v5m1 -5v4m1 -4v5m1 -5v3m1 -4v5m1 -3v4m1 -5v3m1 -2v4m1 -5v3m1 -3v4m1 -3v3m1 -3v3m2 -3v3m1 -3v3m3 -4v3m4 -2v3m1 -5v6m1 -4v3m1 -4v4m1 -4v5m1 -5v5m1 -5v3m2 -2v3m1 -5v6m1 -4v4m1 -6v6m1 -4v3m1 -4v3m1 -4v4m2 -3v4m1 -4v4m1 -4v3m1 -4v5m1 -4v4m1 -4v4m1 -4v5m1 -4v3m1 -4v3m1 -3v4m1 -5v5m1 -5v5m1 -5v4m3 -2v3m1 -3v3m1 -4v4m1 -5v5m1 -4v5m1 -4v4m1 -5v3m1 -3v3m1 -4v4m1 -2v3m1 -3v4m1 -12v18m1 -15v14m1 -12v11m1 -11v7m1 -7v8m1 -7v6m1 -5v5m1 -6v6m1 -5v3m1 -3v3m1 -3v3m1 -3v4m1 -4v3m1 -2v4m1 -4v3m1 -4v3m1 -4v4m1 -2v4m1 -4v3m1 -4v3m1 -2v3m1 -4v5m1 -4v3m2 -3v3m1 -3v3m2 -4v3m2 -3v4m1 -4v3m1 -3v4m1 -3v3m2 -5v4m1 -3v3m1 -2v3m1 -3v3m1 -3v3m1 -4v3m1 -4v5m1 -3v4m1 -5v5m1 -6v5m1 -5v6m1 -6v5m1 -4v4m1 -3v3m1 -5v4m1 -4v6m1 -6v6m1 -5v4m1 -4v4m1 -4v4m2 -3v3m1 -4v4m1 -4v5m1 -4v3m1 -4v4m1 -4v5m2 -5v3m2 -3v5m1 -6v5m1 -5v5m2 -4v4m1 -5v5m1 -4v5m1 -6v5m2 -5v4m1 -2v3m1 -4v3m1 -3v5m1 -5v4m1 -4v4m1 -5v6m1 -6v5m1 -4v5m1 -6v6m1 -6v7m1 -8v8m1 -7v7m1 -9v10m1 -8v8m1 -9v7m1 -6v8m1 -10v11m1 -12v9m1 -10v11m1 -11v11m1 -8v11m1 -12v11m1 -9v8m1 -11v11m1 -10v12m1 -13v12m1 -11v11m1 -12v10m1 -8v8m1 -8v6m1 -6v9m1 -9v8m1 -8v8m1 -7v7m1 -7v6m1 -5v5m1 -6v5m1 -3v4m1 -6v5m1 -3v3m1 -3v4m1 -5v3m1 -2v3m1 -4v4m1 -5v4m1 -3v3m1 -3v4m2 -3v4m2 -4v3m1 -3v3m1 -3v3m1 -4v3m1 -4v5m1 -4v4m1 -4v4m2 -5v5m1 -4v4m1 -4v4m1 -4v6m1 -7v6m1 -5v5m1 -6v5m1 -3v3m3 -3v3m1 -4v5m1 -4v3m1 -4v3m1 -4v6m1 -5v3m1 -3v4m1 -3v4m1 -5v4m1 -5v5m3 -5v6m1 -5v3m1 -2v3m1 -4v3m1 -3v3m1 -4v4m2 -3v4m1 -3v3m1 -3v3m1 -5v4m1 -3v4m1 -4v4m1 -4v3m2 -4v4m4 -2v3m1 -5v4m1 -4v5m1 -4v4m1 -3v4m1 -5v4m1 -3v3m1 -3v3m1 -4v3m1 -2v3m1 -4v3m1 -4v5m1 -3v3m4 -4v5m1 -6v5m1 -5v5m1 -3v3m1 -5v6m1 -5v3m1 -2v3m2 -3v3m1 -5v5m1 -4v4m1 -5v4m1 -3v4m1 -5v5m1 -5v5m1 -5v6m1 -5v5m1 -6v7m1 -7v8m1 -10v10m1 -9v9m1 -11v10m1 -9v10m1 -10v9m1 -7v7m1 -9v8m1 -6v5m1 -6v7m1 -7v8m1 -7v6m1 -6v5m1 -4v5m1 -5v5m1 -6v6m1 -4v3m1 -3v3m1 -3v3m1 -5v5m1 -5v4m1 -2v3m2 -4v5m1 -6v6m1 -5v3m1 -3v3m1 -2v4m1 -5v4m1 -3v3m1 -3v3m1 -3v3m1 -5v4m1 -3v5m1 -5v4m1 -4v3m1 -2v3m1 -4v3m1 -3v5m3 -6v4m1 -2v3m1 -5v5m2 -3v3m1 -3v3m1 -5v4m1 -3v3m1 -2v4m1 -4v3m1 -4v4m2 -3v3m1 -3v3m1 -3v4m1 -4v4m1 -4v3m1 -4v3m1 -2v3m1 -4v5m1 -4v3m1 -5v5m1 -3v4m1 -6v5m1 -4v3m1 -3v3m2 -2v3m1 -4v3m1 -4v6m1 -5v3m1 -3v5m1 -4v4m1 -5v3m1 -4v4m1 -3v5m1 -6v4m1 -3v4m1 -4v4m1 -3v3m2 -3v3m1 -3v3m1 -4v3m1 -2v3m1 -4v3m1 -4v5m1 -3v3m1 -4v4m1 -4v3m1 -3v3m1 -3v3m1 -2v3m1 -3v3m1 -4v5m1 -6v4m1 -3v5m1 -5v4m1 -3v3m1 -4v3m1 -4v5m1 -4v5m1 -5v5m1 -5v4m1 -5v6m1 -5v4m1 -5v6m1 -6v5m1 -5v5m1 -4v4m1 -4v4m1 -4v4m1 -3v4m1 -6v5m1 -4v5m1 -5v3m1 -2v3m1 -4v4m2 -5v4m1 -2v3m1 -4v3m1 -4v5m1 -4v3m1 -3v5m1 -5v4m1 -3v3m3 -4v3m1 -3v5m1 -6v5m1 -4v4m2 -3v3m1 -4v3m1 -2v3m3 -3v3m1 -4v4m1 -3v3m1 -4v5m2 -5v3m2 -3v4m1 -3v3m2 -3v3m1 -4v5m1 -4v4m1 -9v12m1 -11v9m1 -14v24m1 -16v6m1 -7v6m1 -7v7m1 -6v6m1 -5v5m1 -5v4m1 -5v5m1 -4v4m1 -4v4m1 -3v3m1 -4v4m1 -4v3m1 -3v5m1 -4v4m1 -6v5m1 -3v3m1 -3v3m2 -4v4m2 -5v5m1 -3v4m1 -5v4m1 -3v3m1 -3v3m1 -4v3m1 -3v4m1 -5v4m1 -2v3m1 -4v5m1 -5v4m2 -5v5m1 -4v4m1 -5v6m2 -5v5m1 -5v5m1 -5v5m1 -6v4m1 -3v3m1 -3v3m2 -4v5m2 -3v3m1 -5v6m1 -5v4m1 -4v4m2 -5v5m1 -3v3m1 -5v5m1 -4v4m1 -3v4m1 -6v6m1 -5v3m1 -2v3m1 -4v3m1 -4v5m1 -4v3m1 -2v3m1 -5v5m1 -3v3m1 -4v5m1 -5v5m2 -5v3m1 -3v3m1 -2v4m2 -5v3m1 -3v3m1 -2v3m2 -4v4m1 -3v3m1 -3v3m2 -4v3m2 -3v3m1 -4v4m1 -3v3m1 -3v3m1 -3v3"/>
<rect x="71" y="746" width="945" height="2" fill="#0000ff"/>
<path stroke="#0000ff" d="M71.5 746v3m1 -4v4m1 -3v3m1 -3v3m4 -3v3m1 -4v3m1 -2v3m2 -4v4m1 -3v3m1 -4v3m2 -3v4m2 -3v3m1 -4v4m1 -4v3m1 -2v3m1 -4v4m1 -3v3m1 -3v3m3 -4v3m1 -3v3m1 -2v3m1 -4v4m1 -4v3m2 -2v3m1 -4v4m4 -4v4m1 -4v3m1 -3v3m3 -3v3m1 -2v3m4 -3v3m2 -4v4m1 -4v3m1 -2v3m1 -3v3m1 -4v4m1 -3v3m1 -3v3m1 -4v3m2 -2v3m1 -3v3m5 -3v3m1 -4v3m1 -3v3m2 -3v3m3 -3v3m1 -3v3m1 -2v3m2 -4v3m2 -3v4m1 -3v3m1 -3v3m2 -4v4m1 -4v4m1 -4v3m2 -2v3m1 -3v3m2 -4v4m4 -3v3m1 -3v3m1 -5v5m1 -5v5m1 -6v8m1 -8v10m1 -11v11m1 -11v11m1 -10v13m1 -16v14m1 -15v19m1 -18v15m1 -15v11m1 -10v13m1 -11v10m1 -11v8m1 -7v7m1 -4v3m1 -3v3m2 -3v3m1 -3v3m1 -4v4m1 -4v3m1 -3v4m3 -3v3m1 -4v3m1 -3v4m1 -4v3m1 -3v3m1 -2v3m2 -4v4m1 -4v4m1 -3v3m1 -4v3m2 -3v3m2 -3v3m1 -3v4m1 -4v4m1 -4v4m2 -4v4m1 -3v3m1 -4v3m1 -2v3m1 -4v3m1 -3v4m1 -4v4m1 -4v3m2 -3v4m1 -3v3m2 -4v3m1 -2v3m1 -4v4m1 -4v3m2 -2v3m3 -4v3m1 -3v3m1 -3v4m1 -3v3m1 -4v4m3 -3v3m1 -4v4m1 -3v3m1 -3v3m1 -4v4m1 -4v4m1 -4v4m2 -3v3m3 -3v3m1 -3v3m1 -3v3m1 -3v3m3 -4v3m1 -3v4m3 -4v4m1 -4v3m1 -11v18m1 -17v16m1 -26v34m1 -20v10m1 -11v12m1 -11v10m1 -9v9m1 -9v7m1 -6v5m1 -5v6m1 -5v5m1 -5v4m1 -4v3m2 -2v3m2 -4v3m1 -3v3m4 -3v4m1 -4v3m1 -3v3m1 -3v3m3 -3v4m1 -4v5m1 -6v6m1 -7v8m1 -6v5m1 -5v4m1 -3v3m2 -3v3m1 -4v3m1 -3v4m1 -3v3m3 -4v3m1 -3v3m2 -3v3m1 -3v4m2 -5v4m1 -2v3m1 -4v4m3 -4v4m1 -4v3m2 -3v4m1 -4v3m1 -3v3m1 -3v3m6 -3v4m1 -4v4m1 -4v3m1 -2v3m1 -3v3m1 -3v3m5 -3v3m1 -4v3m2 -2v3m2 -4v3m2 -3v4m1 -3v3m4 -4v3m1 -2v3m4 -3v3m2 -4v3m1 -2v3m1 -3v3m1 -14v22m1 -23v20m1 -28v34m1 -22v15m1 -14v14m1 -11v8m1 -13v43m1 -40v9m1 -4v7m1 -10v7m1 -7v8m1 -7v7m1 -7v7m1 -7v6m1 -4v4m1 -5v5m1 -4v4m1 -4v3m1 -3v4m1 -4v4m1 -4v3m1 -3v3m1 -2v3m1 -3v3m1 -4v3m6 -3v4m1 -3v3m3 -4v4m2 -4v4m1 -3v3m1 -4v3m1 -3v3m1 -3v4m1 -4v3m1 -3v3m1 -3v3m1 -3v3m1 -3v3m2 -3v4m1 -3v3m1 -3v3m5 -3v3m1 -3v3m3 -4v4m1 -4v3m1 -3v4m3 -3v3m2 -4v3m1 -3v3m5 -2v3m1 -4v3m1 -2v3m1 -3v3m1 -4v3m2 -3v3m1 -3v4m2 -3v3m3 -4v4m1 -4v3m1 -3v4m2 -4v4m1 -5v5m1 -4v6m1 -20v36m1 -27v11m1 -11v10m1 -9v13m1 -16v17m1 -18v16m1 -16v15m1 -15v34m1 -32v13m1 -12v10m1 -11v13m1 -10v12m1 -11v7m1 -5v6m1 -6v4m1 -3v3m2 -4v3m1 -2v3m1 -4v3m2 -2v3m1 -3v3m1 -4v3m1 -3v3m1 -3v4m1 -4v4m5 -4v3m1 -3v3m1 -3v3m2 -3v4m3 -4v3m1 -3v4m1 -3v3m2 -4v3m1 -3v3m1 -2v3m2 -3v3m1 -3v3m1 -3v3m1 -3v3m1 -3v3m1 -4v3m1 -2v3m3 -4v4m1 -6v9m1 -7v4m1 -3v3m1 -3v3m1 -4v3m1 -3v3m2 -3v3m1 -3v3m3 -3v4m2 -3v3m1 -4v3m1 -3v3m1 -2v3m1 -3v3m1 -4v4m1 -4v4m1 -4v4m1 -4v3m1 -3v4m1 -3v3m1 -4v4m2 -3v3m1 -3v3m3 -3v3m3 -3v3m1 -4v3m1 -3v4m1 -4v4m1 -4v4m1 -4v3m1 -2v3m1 -4v3m1 -2v3m1 -4v4m2 -4v4m1 -4v4m1 -4v3m1 -3v3m2 -3v3m1 -3v4m2 -4v3m1 -3v3m1 -3v4m1 -4v4m2 -3v3m2 -3v3m1 -4v3m1 -3v4m1 -4v4m1 -4v4m1 -4v4m1 -4v3m2 -3v4m3 -4v3m1 -2v3m1 -4v3m2 -3v3m1 -2v3m1 -4v3m2 -2v3m2 -3v3m1 -4v3m1 -3v4m1 -3v4m3 -5v4m1 -3v3m1 -4v4m1 -4v4m1 -4v4m2 -4v3m1 -2v3m1 -3v4m1 -5v4m1 -4v3m3 -2v3m1 -4v3m2 -3v4m2 -3v3m2 -3v3m1 -4v4m1 -4v3m1 -3v4m1 -4v3m1 -2v3m1 -3v3m1 -4v4m2 -5v4m2 -3v4m1 -4v3m1 -2v3m1 -4v3m1 -3v3m1 -3v4m2 -4v3m1 -2v3m2 -3v3m1 -4v3m3 -2v3m1 -4v4m1 -3v3m1 -4v4m3 -4v3m1 -3v3m1 -3v3m1 -3v3m1 -3v3m1 -2v3m1 -4v4m2 -3v3m1 -3v3m1 -4v4m4 -4v3m4 -2v3m2 -4v3m2 -2v3m1 -4v3m1 -3v4m1 -4v4m1 -3v3m1 -3v3m1 -44v47m1 -57v64m1 -57v54m1 -107v131m1 -75v47m1 -39v37m1 -4v3m1 -4v3m1 -3v3m1 -3v3m1 -51v58m2 -10v4m1 -4v3m2 -3v4m1 -3v3m4 -3v3m2 -4v3m2 -2v3m1 -3v3m2 -3v3m3 -4v4m3 -3v3m2 -53v63m1 -102v123m1 -60v37m1 -70v93m1 -50v26m2 -10v3m1 -5v5m1 -3v3m1 -4v3m1 -4v4m1 -3v3m1 -3v4m3 -4v3m2 -2v3m1 -3v3m1 -3v3m1 -3v3m2 -3v3m2 -4v3m1 -2v3m1 -4v3m1 -2v3m1 -3v3m1 -4v4m3 -3v3m1 -3v3m1 -4v3m3 -3v4m2 -4v3m2 -3v4m2 -4v4m2 -4v4m1 -4v3m2 -2v3m1 -3v3m1 -3v3m1 -4v3m1 -3v4m1 -3v3m1 -3v3m1 -3v3m2 -4v4m2 -3v3m1 -3v3m1 -4v4m1 -4v4m2 -4v3m1 -3v3m1 -2v3m1 -4v4m2 -3v3m1 -4v3m1 -2v3m1 -4v3m1 -3v3m1 -3v4m1 -3v3m1 -3v3m1 -4v4m1 -4v4m1 -3v3m4 -3v3m2 -3v3m1 -4v3m4 -3v4m1 -3v3m1 -4v5m1 -4v3m1 -4v3m1 -3v3m1 -3v4m1 -4v3m1 -3v3m6 -3v4m1 -4v4m1 -3v3m1 -3v3m1 -4v3m1 -3v3m2 -3v4m1 -4v4m2 -4v3m1 -3v4m1 -4v3m1 -3v4m1 -4v3m1 -3v3m1 -2v3m1 -4v3m1 -3v3m2 -3v3m1 -2v3m1 -3v3m1 -3v3m2 -4v3m1 -3v4m1 -3v3m1 -4v3m2 -3v4m5 -4v3m1 -3v4m1 -3v3m3 -4v3m1 -2v3m1 -3v3m1 -3v3m1 -3v3m1 -4v3m1 -3v4m2 -4v3m1 -2v3m1 -4v3m1 -2v3m1 -3v3m1 -3v3m1 -4v3m2 -2v3m1 -4v3m2 -3v3m1 -3v3m3 -2v3m1 -3v3m1 -3v3m1 -5v4m1 -3v3m1 -3v4m1 -4v3m1 -3v3m1 -3v4m2 -4v4m1 -3v3m1 -3v3m1 -3v4m1 -5v3m1 -3v3m1 -3v4m1 -3v3m1 -4v4m1 -3v3m2 -4v4m1 -4v3m1 -2v4m1 -5v4m3 -5v4m1 -3v5m1 -5v4m3 -4v3m1 -2v3m1 -4v4m1 -4v4m1 -4v4m3 -4v3m1 -2v3m1 -3v3m2 -4v4m1 -4v3m1 -3v3m2 -3v4m1 -3v3m1 -3v3m1 -4v3m1 -3v3m1 -3v3m2 -3v4m1 -4v3m1 -3v4m1 -4v4m1 -4v3m1 -3v3m1 -2v3m1 -4v4m1 -4v3m1 -2v3m2 -4v3m3 -3v3m1 -3v3m1 -2v3m1 -4v3m1 -2v3m2 -3v3m1 -4v4m1 -3v3m2 -4v3m2 -3v5m1 -4v3m1 -3v4m1 -4v3m1 -3v3m3 -3v4m1 -5v4m2 -3v4m1 -5v4m2 -3v3m2 -4v3m2 -2v3m1 -4v4m1 -4v3m2 -2v3m1 -3v3m6 -4v4m1 -3v3m1 -4v3m2 -2v3m1 -3v3m1 -4v4m2 -3v3m1 -3v3m2 -3v4m2 -4v3m1 -4v4m1 -4v3m1 -2v3m2 -4v4m1 -4v3m4 -2v3m2 -4v3m1 -3v3m1 -3v3m1 -2v3m2 -4v3m2 -3v4m1 -4v4m2 -4v4m3 -4v4m1 -4v3"/>
<rect x="71" y="760" width="945" height="2" fill="#ff0033"/>
<path stroke="#ff0033" d="M814.5 760v3m1 -3v3m1 -4v3m1 -3v4m1 -4v3m2 -3v4m173 -3v3"/>
</g>
</svg></body></html>
